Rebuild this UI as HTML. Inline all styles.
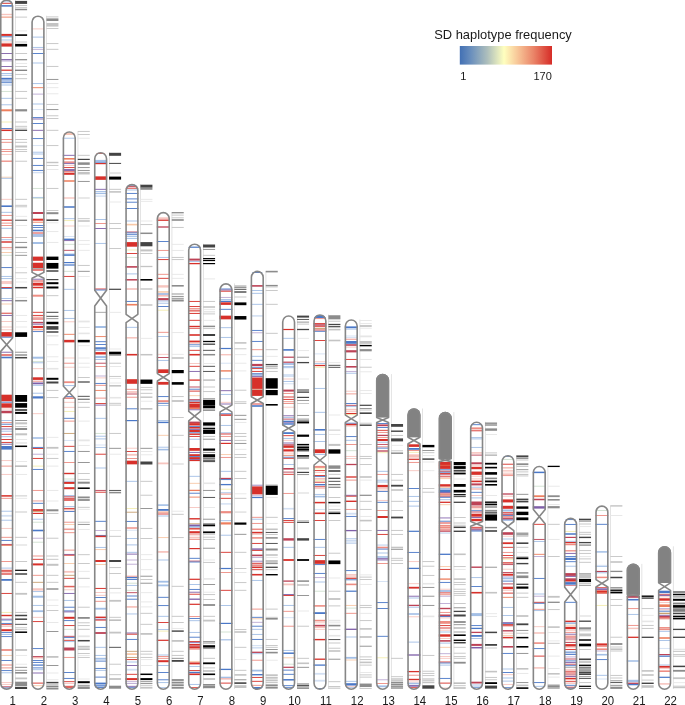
<!DOCTYPE html>
<html><head><meta charset="utf-8"><title>SD haplotype frequency</title>
<style>
html,body{margin:0;padding:0;background:#fff;}
body{width:685px;height:705px;overflow:hidden;font-family:"Liberation Sans",sans-serif;}
svg{display:block}
svg text{font-family:"Liberation Sans",sans-serif;font-size:11.6px;fill:#1a1a1a;}
</style></head><body>
<svg width="685" height="705" viewBox="0 0 685 705">
<defs>
<clipPath id="c1"><path d="M-0.05 6.1A6.7 6.7 0 0 1 13.35 6.1V683.3A6.7 6.7 0 0 1 -0.05 683.3Z"/></clipPath>
<clipPath id="c2"><path d="M31.28 22.1A6.7 6.7 0 0 1 44.68 22.1V683.3A6.7 6.7 0 0 1 31.28 683.3Z"/></clipPath>
<clipPath id="c3"><path d="M62.61 137.9A6.7 6.7 0 0 1 76.01 137.9V683.3A6.7 6.7 0 0 1 62.61 683.3Z"/></clipPath>
<clipPath id="c4"><path d="M93.94 158.7A6.7 6.7 0 0 1 107.34 158.7V683.3A6.7 6.7 0 0 1 93.94 683.3Z"/></clipPath>
<clipPath id="c5"><path d="M125.27 190.5A6.7 6.7 0 0 1 138.67 190.5V683.3A6.7 6.7 0 0 1 125.27 683.3Z"/></clipPath>
<clipPath id="c6"><path d="M156.6 218.5A6.7 6.7 0 0 1 170 218.5V683.3A6.7 6.7 0 0 1 156.6 683.3Z"/></clipPath>
<clipPath id="c7"><path d="M187.93 250.1A6.7 6.7 0 0 1 201.33 250.1V683.3A6.7 6.7 0 0 1 187.93 683.3Z"/></clipPath>
<clipPath id="c8"><path d="M219.26 289.8A6.7 6.7 0 0 1 232.66 289.8V683.3A6.7 6.7 0 0 1 219.26 683.3Z"/></clipPath>
<clipPath id="c9"><path d="M250.59 277.3A6.7 6.7 0 0 1 263.99 277.3V683.3A6.7 6.7 0 0 1 250.59 683.3Z"/></clipPath>
<clipPath id="c10"><path d="M281.92 321.9A6.7 6.7 0 0 1 295.32 321.9V683.3A6.7 6.7 0 0 1 281.92 683.3Z"/></clipPath>
<clipPath id="c11"><path d="M313.25 320.9A6.7 6.7 0 0 1 326.65 320.9V683.3A6.7 6.7 0 0 1 313.25 683.3Z"/></clipPath>
<clipPath id="c12"><path d="M344.58 325.9A6.7 6.7 0 0 1 357.98 325.9V683.3A6.7 6.7 0 0 1 344.58 683.3Z"/></clipPath>
<clipPath id="c13"><path d="M375.91 380.5A6.7 6.7 0 0 1 389.31 380.5V683.3A6.7 6.7 0 0 1 375.91 683.3Z"/></clipPath>
<clipPath id="c14"><path d="M407.24 414.9A6.7 6.7 0 0 1 420.64 414.9V683.3A6.7 6.7 0 0 1 407.24 683.3Z"/></clipPath>
<clipPath id="c15"><path d="M438.57 418.5A6.7 6.7 0 0 1 451.97 418.5V683.3A6.7 6.7 0 0 1 438.57 683.3Z"/></clipPath>
<clipPath id="c16"><path d="M469.9 428.2A6.7 6.7 0 0 1 483.3 428.2V683.3A6.7 6.7 0 0 1 469.9 683.3Z"/></clipPath>
<clipPath id="c17"><path d="M501.23 461.7A6.7 6.7 0 0 1 514.63 461.7V683.3A6.7 6.7 0 0 1 501.23 683.3Z"/></clipPath>
<clipPath id="c18"><path d="M532.56 472.4A6.7 6.7 0 0 1 545.96 472.4V683.3A6.7 6.7 0 0 1 532.56 683.3Z"/></clipPath>
<clipPath id="c19"><path d="M563.89 524.3A6.7 6.7 0 0 1 577.29 524.3V683.3A6.7 6.7 0 0 1 563.89 683.3Z"/></clipPath>
<clipPath id="c20"><path d="M595.22 512A6.7 6.7 0 0 1 608.62 512V683.3A6.7 6.7 0 0 1 595.22 683.3Z"/></clipPath>
<clipPath id="c21"><path d="M626.55 570.3A6.7 6.7 0 0 1 639.95 570.3V683.3A6.7 6.7 0 0 1 626.55 683.3Z"/></clipPath>
<clipPath id="c22"><path d="M657.88 552.7A6.7 6.7 0 0 1 671.28 552.7V683.3A6.7 6.7 0 0 1 657.88 683.3Z"/></clipPath>
</defs>
<rect width="685" height="705" fill="#fff"/>
<g clip-path="url(#c1)"><rect x="-0.05" y="1.35" width="13.4" height="0.9" fill="#a3bfe6"/><rect x="-0.05" y="2.85" width="13.4" height="0.9" fill="#d7302a"/><rect x="-0.05" y="5.15" width="13.4" height="1.5" fill="#4a78c8"/><rect x="-0.05" y="13.8" width="13.4" height="1.4" fill="#f7c5bf"/><rect x="-0.05" y="16.65" width="13.4" height="0.9" fill="#ee7f5e"/><rect x="-0.05" y="33.9" width="13.4" height="2" fill="#d7302a"/><rect x="-0.05" y="36.35" width="13.4" height="0.9" fill="#4a78c8"/><rect x="-0.05" y="39.55" width="13.4" height="0.9" fill="#a3bfe6"/><rect x="-0.05" y="41.55" width="13.4" height="0.9" fill="#f7c5bf"/><rect x="-0.05" y="43.4" width="13.4" height="3.2" fill="#d7302a"/><rect x="-0.05" y="53.05" width="13.4" height="0.9" fill="#7f5fa8"/><rect x="-0.05" y="59.1" width="13.4" height="1.2" fill="#7f5fa8"/><rect x="-0.05" y="60.55" width="13.4" height="0.9" fill="#bcaad3"/><rect x="-0.05" y="66.05" width="13.4" height="0.9" fill="#7f5fa8"/><rect x="-0.05" y="69.6" width="13.4" height="1.2" fill="#d7302a"/><rect x="-0.05" y="73.05" width="13.4" height="0.9" fill="#a3bfe6"/><rect x="-0.05" y="74.85" width="13.4" height="0.9" fill="#a3bfe6"/><rect x="-0.05" y="77.8" width="13.4" height="1.8" fill="#4a78c8"/><rect x="-0.05" y="80.55" width="13.4" height="0.9" fill="#4a78c8"/><rect x="-0.05" y="82.25" width="13.4" height="0.9" fill="#4a78c8"/><rect x="-0.05" y="84.55" width="13.4" height="0.9" fill="#a3bfe6"/><rect x="-0.05" y="90.95" width="13.4" height="0.9" fill="#cfe0cf"/><rect x="-0.05" y="97.85" width="13.4" height="0.9" fill="#a3bfe6"/><rect x="-0.05" y="104.35" width="13.4" height="0.9" fill="#a3bfe6"/><rect x="-0.05" y="109.3" width="13.4" height="2" fill="#ee7f5e"/><rect x="-0.05" y="121.55" width="13.4" height="0.9" fill="#f3edb0"/><rect x="-0.05" y="128.05" width="13.4" height="0.9" fill="#4a78c8"/><rect x="-0.05" y="129.55" width="13.4" height="1.5" fill="#d7302a"/><rect x="-0.05" y="139.05" width="13.4" height="0.9" fill="#ee8d83"/><rect x="-0.05" y="141.85" width="13.4" height="0.9" fill="#ee8d83"/><rect x="-0.05" y="149.15" width="13.4" height="0.9" fill="#ee8d83"/><rect x="-0.05" y="151.05" width="13.4" height="0.9" fill="#ee8d83"/><rect x="-0.05" y="153.95" width="13.4" height="0.9" fill="#f7c5bf"/><rect x="-0.05" y="160.55" width="13.4" height="1.3" fill="#ee8d83"/><rect x="-0.05" y="176.75" width="13.4" height="0.9" fill="#f8c9a8"/><rect x="-0.05" y="177.85" width="13.4" height="0.9" fill="#a3bfe6"/><rect x="-0.05" y="198.85" width="13.4" height="0.9" fill="#f7c5bf"/><rect x="-0.05" y="205.4" width="13.4" height="1.6" fill="#4a78c8"/><rect x="-0.05" y="211.85" width="13.4" height="0.9" fill="#a3bfe6"/><rect x="-0.05" y="214.95" width="13.4" height="0.9" fill="#ee8d83"/><rect x="-0.05" y="219.6" width="13.4" height="1.2" fill="#d7302a"/><rect x="-0.05" y="222.65" width="13.4" height="0.9" fill="#ee8d83"/><rect x="-0.05" y="225.05" width="13.4" height="0.9" fill="#ee8d83"/><rect x="-0.05" y="227.85" width="13.4" height="0.9" fill="#a3bfe6"/><rect x="-0.05" y="237.05" width="13.4" height="0.9" fill="#ee8d83"/><rect x="-0.05" y="239.25" width="13.4" height="0.9" fill="#a3bfe6"/><rect x="-0.05" y="241.3" width="13.4" height="1.4" fill="#d7302a"/><rect x="-0.05" y="246.95" width="13.4" height="0.9" fill="#ee8d83"/><rect x="-0.05" y="248.55" width="13.4" height="0.9" fill="#f7c5bf"/><rect x="-0.05" y="252.05" width="13.4" height="0.9" fill="#f8c9a8"/><rect x="-0.05" y="254.85" width="13.4" height="0.9" fill="#cfe0cf"/><rect x="-0.05" y="267.15" width="13.4" height="0.9" fill="#4a78c8"/><rect x="-0.05" y="275.95" width="13.4" height="0.9" fill="#a3bfe6"/><rect x="-0.05" y="278.15" width="13.4" height="0.9" fill="#a3bfe6"/><rect x="-0.05" y="281.55" width="13.4" height="0.9" fill="#ee8d83"/><rect x="-0.05" y="283.15" width="13.4" height="0.9" fill="#f7c5bf"/><rect x="-0.05" y="287.05" width="13.4" height="0.9" fill="#d7302a"/><rect x="-0.05" y="287.95" width="13.4" height="0.9" fill="#4a78c8"/><rect x="-0.05" y="298.05" width="13.4" height="0.9" fill="#a3bfe6"/><rect x="-0.05" y="300.25" width="13.4" height="0.9" fill="#7f5fa8"/><rect x="-0.05" y="303.55" width="13.4" height="0.9" fill="#f8c9a8"/><rect x="-0.05" y="312.75" width="13.4" height="0.9" fill="#d7302a"/><rect x="-0.05" y="314.95" width="13.4" height="0.9" fill="#7f5fa8"/><rect x="-0.05" y="321.05" width="13.4" height="0.9" fill="#f7c5bf"/><rect x="-0.05" y="326.55" width="13.4" height="0.9" fill="#f7c5bf"/><rect x="-0.05" y="329.35" width="13.4" height="0.9" fill="#f7c5bf"/><rect x="-0.05" y="332.1" width="13.4" height="4.6" fill="#d7302a"/><rect x="-0.05" y="336.75" width="13.4" height="0.9" fill="#4a78c8"/><rect x="-0.05" y="351.75" width="13.4" height="0.9" fill="#7f5fa8"/><rect x="-0.05" y="354.4" width="13.4" height="1.2" fill="#d7302a"/><rect x="-0.05" y="356.7" width="13.4" height="1.6" fill="#4a78c8"/><rect x="-0.05" y="394.7" width="13.4" height="6.6" fill="#d7302a"/><rect x="-0.05" y="401.75" width="13.4" height="0.9" fill="#4a78c8"/><rect x="-0.05" y="403.3" width="13.4" height="4.4" fill="#d7302a"/><rect x="-0.05" y="408.55" width="13.4" height="0.9" fill="#f7c5bf"/><rect x="-0.05" y="410.75" width="13.4" height="2.5" fill="#bd4256"/><rect x="-0.05" y="420.05" width="13.4" height="0.9" fill="#a3bfe6"/><rect x="-0.05" y="422.15" width="13.4" height="0.9" fill="#ee8d83"/><rect x="-0.05" y="423.75" width="13.4" height="0.9" fill="#4a78c8"/><rect x="-0.05" y="426.15" width="13.4" height="0.9" fill="#d7302a"/><rect x="-0.05" y="428.55" width="13.4" height="0.9" fill="#7f5fa8"/><rect x="-0.05" y="430.75" width="13.4" height="0.9" fill="#a3bfe6"/><rect x="-0.05" y="433.85" width="13.4" height="0.9" fill="#d7302a"/><rect x="-0.05" y="436.25" width="13.4" height="0.9" fill="#a3bfe6"/><rect x="-0.05" y="439.05" width="13.4" height="0.9" fill="#d7302a"/><rect x="-0.05" y="441.95" width="13.4" height="0.9" fill="#d7302a"/><rect x="-0.05" y="443.75" width="13.4" height="0.9" fill="#7f5fa8"/><rect x="-0.05" y="446" width="13.4" height="3.6" fill="#4a78c8"/><rect x="-0.05" y="460.15" width="13.4" height="0.9" fill="#f7c5bf"/><rect x="-0.05" y="465.65" width="13.4" height="0.9" fill="#ee8d83"/><rect x="-0.05" y="473.95" width="13.4" height="0.9" fill="#f7c5bf"/><rect x="-0.05" y="495.15" width="13.4" height="1.5" fill="#d7302a"/><rect x="-0.05" y="497.85" width="13.4" height="0.9" fill="#ee8d83"/><rect x="-0.05" y="510.75" width="13.4" height="0.9" fill="#a3bfe6"/><rect x="-0.05" y="514.9" width="13.4" height="1.8" fill="#d3e0f3"/><rect x="-0.05" y="519.75" width="13.4" height="0.9" fill="#a3bfe6"/><rect x="-0.05" y="527.95" width="13.4" height="0.9" fill="#f7c5bf"/><rect x="-0.05" y="536.85" width="13.4" height="0.9" fill="#ee8d83"/><rect x="-0.05" y="539.95" width="13.4" height="0.9" fill="#4a78c8"/><rect x="-0.05" y="543.95" width="13.4" height="0.9" fill="#bd4256"/><rect x="-0.05" y="544.95" width="13.4" height="0.9" fill="#ee7f5e"/><rect x="-0.05" y="561.05" width="13.4" height="0.9" fill="#ee8d83"/><rect x="-0.05" y="567.65" width="13.4" height="0.9" fill="#a3bfe6"/><rect x="-0.05" y="569.85" width="13.4" height="0.9" fill="#d7302a"/><rect x="-0.05" y="571.35" width="13.4" height="0.9" fill="#d7302a"/><rect x="-0.05" y="573.4" width="13.4" height="1.2" fill="#d7302a"/><rect x="-0.05" y="579" width="13.4" height="1.8" fill="#4a78c8"/><rect x="-0.05" y="592.95" width="13.4" height="0.9" fill="#d7302a"/><rect x="-0.05" y="611.95" width="13.4" height="0.9" fill="#f3edb0"/><rect x="-0.05" y="614.8" width="13.4" height="1.4" fill="#d7302a"/><rect x="-0.05" y="618.75" width="13.4" height="0.9" fill="#7f5fa8"/><rect x="-0.05" y="620.15" width="13.4" height="0.9" fill="#a3bfe6"/><rect x="-0.05" y="622.95" width="13.4" height="0.9" fill="#4a78c8"/><rect x="-0.05" y="624.25" width="13.4" height="0.9" fill="#d7302a"/><rect x="-0.05" y="626.05" width="13.4" height="0.9" fill="#f7c5bf"/><rect x="-0.05" y="629.2" width="13.4" height="2" fill="#d7302a"/><rect x="-0.05" y="632.15" width="13.4" height="0.9" fill="#4a78c8"/><rect x="-0.05" y="633.95" width="13.4" height="0.9" fill="#a3bfe6"/><rect x="-0.05" y="636.15" width="13.4" height="0.9" fill="#4a78c8"/><rect x="-0.05" y="649.1" width="13.4" height="1.8" fill="#ee8d83"/><rect x="-0.05" y="654.95" width="13.4" height="0.9" fill="#f8c9a8"/><rect x="-0.05" y="660.05" width="13.4" height="0.9" fill="#4a78c8"/><rect x="-0.05" y="664" width="13.4" height="2" fill="#f7c5bf"/><rect x="-0.05" y="667.45" width="13.4" height="0.9" fill="#ee8d83"/><rect x="-0.05" y="670.15" width="13.4" height="0.9" fill="#4a78c8"/><rect x="-0.05" y="672.35" width="13.4" height="0.9" fill="#a3bfe6"/><rect x="-0.05" y="682.15" width="13.4" height="0.9" fill="#f7c5bf"/><rect x="-0.05" y="683.95" width="13.4" height="0.9" fill="#f7c5bf"/><rect x="-0.05" y="686.35" width="13.4" height="0.9" fill="#bd4256"/><rect x="-0.05" y="687.55" width="13.4" height="0.9" fill="#4a78c8"/></g>
<path d="M-0.25 338L6.65 344.8L-0.25 351.4Z M13.55 338L6.65 344.8L13.55 351.4Z" fill="#fff"/>
<path d="M0.75 6.1V338L12.55 351.4V683.3A5.9 5.9 0 0 1 0.75 683.3V351.4L12.55 338V6.1A5.9 5.9 0 0 0 0.75 6.1" fill="none" stroke="#868686" stroke-width="1.6" stroke-linejoin="round"/>
<rect x="15" y="0" width="0.6" height="689" fill="#d0d0d0"/>
<rect x="15.1" y="0.9" width="12" height="3" fill="#444444"/>
<rect x="15.1" y="5.05" width="12" height="0.9" fill="#c4c4c4"/>
<rect x="15.1" y="6.95" width="12" height="0.9" fill="#c4c4c4"/>
<rect x="15.1" y="8.75" width="12" height="1.5" fill="#8c8c8c"/>
<rect x="15.1" y="16.65" width="12" height="0.9" fill="#c4c4c4"/>
<rect x="15.1" y="30.45" width="12" height="0.9" fill="#e6e6e6"/>
<rect x="15.1" y="34.3" width="12" height="1.6" fill="#000000"/>
<rect x="15.1" y="41.55" width="12" height="0.9" fill="#c4c4c4"/>
<rect x="15.1" y="43.9" width="12" height="2.6" fill="#000000"/>
<rect x="15.1" y="53.05" width="12" height="0.9" fill="#c4c4c4"/>
<rect x="15.1" y="59.1" width="12" height="1.2" fill="#8c8c8c"/>
<rect x="15.1" y="62.95" width="12" height="0.9" fill="#e6e6e6"/>
<rect x="15.1" y="66.05" width="12" height="0.9" fill="#c4c4c4"/>
<rect x="15.1" y="69.75" width="12" height="0.9" fill="#444444"/>
<rect x="15.1" y="73.95" width="12" height="0.9" fill="#c4c4c4"/>
<rect x="15.1" y="78.25" width="12" height="0.9" fill="#c4c4c4"/>
<rect x="15.1" y="90.95" width="12" height="0.9" fill="#c4c4c4"/>
<rect x="15.1" y="97.85" width="12" height="0.9" fill="#c4c4c4"/>
<rect x="15.1" y="109.2" width="12" height="2.2" fill="#8c8c8c"/>
<rect x="15.1" y="121.55" width="12" height="0.9" fill="#c4c4c4"/>
<rect x="15.1" y="125.85" width="12" height="0.9" fill="#c4c4c4"/>
<rect x="15.1" y="127.65" width="12" height="0.9" fill="#c4c4c4"/>
<rect x="15.1" y="129.65" width="12" height="1.3" fill="#444444"/>
<rect x="15.1" y="139.05" width="12" height="0.9" fill="#c4c4c4"/>
<rect x="15.1" y="141.85" width="12" height="0.9" fill="#c4c4c4"/>
<rect x="15.1" y="145.5" width="12" height="2" fill="#c4c4c4"/>
<rect x="15.1" y="149.15" width="12" height="0.9" fill="#c4c4c4"/>
<rect x="15.1" y="151.05" width="12" height="0.9" fill="#c4c4c4"/>
<rect x="15.1" y="160.75" width="12" height="0.9" fill="#c4c4c4"/>
<rect x="15.1" y="198.85" width="12" height="0.9" fill="#c4c4c4"/>
<rect x="15.1" y="204.85" width="12" height="0.9" fill="#c4c4c4"/>
<rect x="15.1" y="206.35" width="12" height="0.9" fill="#c4c4c4"/>
<rect x="15.1" y="215.85" width="12" height="0.9" fill="#e6e6e6"/>
<rect x="15.1" y="219.75" width="12" height="0.9" fill="#444444"/>
<rect x="15.1" y="225.05" width="12" height="0.9" fill="#e6e6e6"/>
<rect x="15.1" y="237.05" width="12" height="0.9" fill="#c4c4c4"/>
<rect x="15.1" y="241.95" width="12" height="0.9" fill="#8c8c8c"/>
<rect x="15.1" y="246.65" width="12" height="1.5" fill="#8c8c8c"/>
<rect x="15.1" y="252.05" width="12" height="0.9" fill="#c4c4c4"/>
<rect x="15.1" y="254.85" width="12" height="0.9" fill="#8c8c8c"/>
<rect x="15.1" y="267.15" width="12" height="0.9" fill="#e6e6e6"/>
<rect x="15.1" y="272.35" width="12" height="0.9" fill="#c4c4c4"/>
<rect x="15.1" y="278.15" width="12" height="0.9" fill="#e6e6e6"/>
<rect x="15.1" y="281.55" width="12" height="0.9" fill="#e6e6e6"/>
<rect x="15.1" y="286.95" width="12" height="1.5" fill="#444444"/>
<rect x="15.1" y="297.15" width="12" height="0.9" fill="#e6e6e6"/>
<rect x="15.1" y="299.95" width="12" height="1.5" fill="#8c8c8c"/>
<rect x="15.1" y="314.95" width="12" height="0.9" fill="#e6e6e6"/>
<rect x="15.1" y="321.05" width="12" height="0.9" fill="#e6e6e6"/>
<rect x="15.1" y="326.55" width="12" height="0.9" fill="#e6e6e6"/>
<rect x="15.1" y="332.3" width="12" height="4.6" fill="#000000"/>
<rect x="15.1" y="351.75" width="12" height="0.9" fill="#8c8c8c"/>
<rect x="15.1" y="354.3" width="12" height="1.4" fill="#8c8c8c"/>
<rect x="15.1" y="356.95" width="12" height="1.5" fill="#444444"/>
<rect x="15.1" y="395" width="12" height="6.8" fill="#000000"/>
<rect x="15.1" y="403.1" width="12" height="4.6" fill="#000000"/>
<rect x="15.1" y="409.35" width="12" height="1.3" fill="#000000"/>
<rect x="15.1" y="411.9" width="12" height="2" fill="#000000"/>
<rect x="15.1" y="420.05" width="12" height="0.9" fill="#8c8c8c"/>
<rect x="15.1" y="422.3" width="12" height="2" fill="#c4c4c4"/>
<rect x="15.1" y="426.15" width="12" height="0.9" fill="#c4c4c4"/>
<rect x="15.1" y="428" width="12" height="2" fill="#8c8c8c"/>
<rect x="15.1" y="433.3" width="12" height="2" fill="#c4c4c4"/>
<rect x="15.1" y="439.05" width="12" height="0.9" fill="#e6e6e6"/>
<rect x="15.1" y="442.2" width="12" height="1.6" fill="#e6e6e6"/>
<rect x="15.1" y="445.55" width="12" height="1.5" fill="#000000"/>
<rect x="15.1" y="461.05" width="12" height="0.9" fill="#e6e6e6"/>
<rect x="15.1" y="465.65" width="12" height="0.9" fill="#8c8c8c"/>
<rect x="15.1" y="473.95" width="12" height="0.9" fill="#e6e6e6"/>
<rect x="15.1" y="495.45" width="12" height="0.9" fill="#c4c4c4"/>
<rect x="15.1" y="497.85" width="12" height="0.9" fill="#e6e6e6"/>
<rect x="15.1" y="511.55" width="12" height="0.9" fill="#c4c4c4"/>
<rect x="15.1" y="536.85" width="12" height="0.9" fill="#c4c4c4"/>
<rect x="15.1" y="544.2" width="12" height="1.6" fill="#e6e6e6"/>
<rect x="15.1" y="561.05" width="12" height="0.9" fill="#c4c4c4"/>
<rect x="15.1" y="569.7" width="12" height="1.2" fill="#000000"/>
<rect x="15.1" y="573.25" width="12" height="1.5" fill="#444444"/>
<rect x="15.1" y="581.85" width="12" height="0.9" fill="#c4c4c4"/>
<rect x="15.1" y="592.9" width="12" height="1.8" fill="#c4c4c4"/>
<rect x="15.1" y="611.95" width="12" height="0.9" fill="#c4c4c4"/>
<rect x="15.1" y="614.75" width="12" height="1.5" fill="#444444"/>
<rect x="15.1" y="618.45" width="12" height="1.5" fill="#444444"/>
<rect x="15.1" y="623.85" width="12" height="0.9" fill="#444444"/>
<rect x="15.1" y="627.35" width="12" height="0.9" fill="#c4c4c4"/>
<rect x="15.1" y="629.15" width="12" height="0.9" fill="#c4c4c4"/>
<rect x="15.1" y="631.45" width="12" height="1.5" fill="#000000"/>
<rect x="15.1" y="649.1" width="12" height="1.8" fill="#c4c4c4"/>
<rect x="15.1" y="654.95" width="12" height="0.9" fill="#e6e6e6"/>
<rect x="15.1" y="663.75" width="12" height="0.9" fill="#e6e6e6"/>
<rect x="15.1" y="666.85" width="12" height="0.9" fill="#8c8c8c"/>
<rect x="15.1" y="669.85" width="12" height="0.9" fill="#8c8c8c"/>
<rect x="15.1" y="672" width="12" height="1.6" fill="#8c8c8c"/>
<rect x="15.1" y="677.5" width="12" height="1.8" fill="#c4c4c4"/>
<rect x="15.1" y="681.7" width="12" height="4.6" fill="#8c8c8c"/>
<rect x="15.1" y="687.25" width="12" height="1.5" fill="#000000"/>
<g clip-path="url(#c2)"><rect x="31.28" y="28.45" width="13.4" height="0.9" fill="#f7c5bf"/><rect x="31.28" y="36.65" width="13.4" height="0.9" fill="#a3bfe6"/><rect x="31.28" y="46.95" width="13.4" height="0.9" fill="#a3bfe6"/><rect x="31.28" y="48.85" width="13.4" height="0.9" fill="#bcaad3"/><rect x="31.28" y="53.05" width="13.4" height="0.9" fill="#4a78c8"/><rect x="31.28" y="62.55" width="13.4" height="0.9" fill="#a3bfe6"/><rect x="31.28" y="83.15" width="13.4" height="0.9" fill="#a3bfe6"/><rect x="31.28" y="87.25" width="13.4" height="0.9" fill="#ee7f5e"/><rect x="31.28" y="93.65" width="13.4" height="0.9" fill="#bcaad3"/><rect x="31.28" y="103.55" width="13.4" height="0.9" fill="#a3bfe6"/><rect x="31.28" y="109.15" width="13.4" height="0.9" fill="#d3e0f3"/><rect x="31.28" y="117.15" width="13.4" height="0.9" fill="#4a78c8"/><rect x="31.28" y="118.55" width="13.4" height="0.9" fill="#7f5fa8"/><rect x="31.28" y="123.05" width="13.4" height="0.9" fill="#4a78c8"/><rect x="31.28" y="129.85" width="13.4" height="0.9" fill="#7f5fa8"/><rect x="31.28" y="138.15" width="13.4" height="0.9" fill="#4a78c8"/><rect x="31.28" y="145.15" width="13.4" height="0.9" fill="#d3e0f3"/><rect x="31.28" y="151.75" width="13.4" height="0.9" fill="#a3bfe6"/><rect x="31.28" y="153.55" width="13.4" height="0.9" fill="#a3bfe6"/><rect x="31.28" y="157.95" width="13.4" height="0.9" fill="#4a78c8"/><rect x="31.28" y="164.95" width="13.4" height="0.9" fill="#4a78c8"/><rect x="31.28" y="169.95" width="13.4" height="0.9" fill="#4a78c8"/><rect x="31.28" y="171.9" width="13.4" height="1.4" fill="#d3e0f3"/><rect x="31.28" y="187.95" width="13.4" height="0.9" fill="#cfe0cf"/><rect x="31.28" y="196.95" width="13.4" height="0.9" fill="#a3bfe6"/><rect x="31.28" y="197.85" width="13.4" height="0.9" fill="#cfe0cf"/><rect x="31.28" y="212" width="13.4" height="2" fill="#bd4256"/><rect x="31.28" y="218.7" width="13.4" height="2" fill="#d7302a"/><rect x="31.28" y="221.75" width="13.4" height="0.9" fill="#ee7f5e"/><rect x="31.28" y="225.05" width="13.4" height="0.9" fill="#4a78c8"/><rect x="31.28" y="226.95" width="13.4" height="0.9" fill="#4a78c8"/><rect x="31.28" y="229.7" width="13.4" height="1.6" fill="#4a78c8"/><rect x="31.28" y="232.55" width="13.4" height="0.9" fill="#d7302a"/><rect x="31.28" y="234.55" width="13.4" height="0.9" fill="#4a78c8"/><rect x="31.28" y="236.05" width="13.4" height="0.9" fill="#a3bfe6"/><rect x="31.28" y="242" width="13.4" height="2" fill="#a3bfe6"/><rect x="31.28" y="256.6" width="13.4" height="4.2" fill="#d7302a"/><rect x="31.28" y="262.75" width="13.4" height="5.5" fill="#d7302a"/><rect x="31.28" y="268.25" width="13.4" height="0.9" fill="#a0a0a0"/><rect x="31.28" y="269.4" width="13.4" height="1.2" fill="#d7302a"/><rect x="31.28" y="278.75" width="13.4" height="0.9" fill="#7f5fa8"/><rect x="31.28" y="280.55" width="13.4" height="0.9" fill="#d7302a"/><rect x="31.28" y="282.7" width="13.4" height="3" fill="#d7302a"/><rect x="31.28" y="286.75" width="13.4" height="1.5" fill="#d7302a"/><rect x="31.28" y="294.7" width="13.4" height="2" fill="#ee8d83"/><rect x="31.28" y="311.85" width="13.4" height="0.9" fill="#d7302a"/><rect x="31.28" y="314.95" width="13.4" height="0.9" fill="#d7302a"/><rect x="31.28" y="316.75" width="13.4" height="0.9" fill="#ee8d83"/><rect x="31.28" y="318.55" width="13.4" height="0.9" fill="#d7302a"/><rect x="31.28" y="321.85" width="13.4" height="1.5" fill="#bd4256"/><rect x="31.28" y="323.75" width="13.4" height="0.9" fill="#7f5fa8"/><rect x="31.28" y="325.9" width="13.4" height="2.2" fill="#d7302a"/><rect x="31.28" y="329.35" width="13.4" height="0.9" fill="#ee7f5e"/><rect x="31.28" y="331.15" width="13.4" height="0.9" fill="#4a78c8"/><rect x="31.28" y="356.7" width="13.4" height="2" fill="#a3bfe6"/><rect x="31.28" y="360.95" width="13.4" height="0.9" fill="#cfe0cf"/><rect x="31.28" y="362.35" width="13.4" height="0.9" fill="#a3bfe6"/><rect x="31.28" y="368.25" width="13.4" height="0.9" fill="#f7c5bf"/><rect x="31.28" y="377.3" width="13.4" height="2.6" fill="#d7302a"/><rect x="31.28" y="380.75" width="13.4" height="0.9" fill="#ee8d83"/><rect x="31.28" y="382.5" width="13.4" height="1.8" fill="#7f5fa8"/><rect x="31.28" y="384.85" width="13.4" height="0.9" fill="#a3bfe6"/><rect x="31.28" y="392.75" width="13.4" height="0.9" fill="#a3bfe6"/><rect x="31.28" y="396.3" width="13.4" height="2.2" fill="#4a78c8"/><rect x="31.28" y="413.25" width="13.4" height="0.9" fill="#f7c5bf"/><rect x="31.28" y="437.2" width="13.4" height="1.6" fill="#a3bfe6"/><rect x="31.28" y="446.95" width="13.4" height="0.9" fill="#4a78c8"/><rect x="31.28" y="448.05" width="13.4" height="0.9" fill="#d7302a"/><rect x="31.28" y="453.75" width="13.4" height="0.9" fill="#bcaad3"/><rect x="31.28" y="457.95" width="13.4" height="0.9" fill="#d7302a"/><rect x="31.28" y="465.65" width="13.4" height="0.9" fill="#f3edb0"/><rect x="31.28" y="468.95" width="13.4" height="0.9" fill="#4a78c8"/><rect x="31.28" y="489.95" width="13.4" height="0.9" fill="#ee8d83"/><rect x="31.28" y="500.1" width="13.4" height="1.6" fill="#f7c5bf"/><rect x="31.28" y="502.85" width="13.4" height="0.9" fill="#4a78c8"/><rect x="31.28" y="509.1" width="13.4" height="1.8" fill="#d7302a"/><rect x="31.28" y="511.05" width="13.4" height="0.9" fill="#c8a070"/><rect x="31.28" y="512.8" width="13.4" height="1.2" fill="#d7302a"/><rect x="31.28" y="518.75" width="13.4" height="0.9" fill="#a3bfe6"/><rect x="31.28" y="521.75" width="13.4" height="0.9" fill="#cfe0cf"/><rect x="31.28" y="529.7" width="13.4" height="1.6" fill="#4a78c8"/><rect x="31.28" y="537.75" width="13.4" height="0.9" fill="#bcaad3"/><rect x="31.28" y="541.75" width="13.4" height="0.9" fill="#cfe0cf"/><rect x="31.28" y="555.55" width="13.4" height="0.9" fill="#ee8d83"/><rect x="31.28" y="558.85" width="13.4" height="0.9" fill="#d7302a"/><rect x="31.28" y="563.4" width="13.4" height="2" fill="#d7302a"/><rect x="31.28" y="574.85" width="13.4" height="0.9" fill="#ee8d83"/><rect x="31.28" y="581.85" width="13.4" height="0.9" fill="#c8a070"/><rect x="31.28" y="588.25" width="13.4" height="0.9" fill="#f7c5bf"/><rect x="31.28" y="589" width="13.4" height="1.6" fill="#f7c5bf"/><rect x="31.28" y="591.15" width="13.4" height="0.9" fill="#a3bfe6"/><rect x="31.28" y="595.7" width="13.4" height="2" fill="#a3bfe6"/><rect x="31.28" y="604.95" width="13.4" height="0.9" fill="#a3bfe6"/><rect x="31.28" y="610.3" width="13.4" height="1.8" fill="#a3bfe6"/><rect x="31.28" y="616.85" width="13.4" height="0.9" fill="#f7c5bf"/><rect x="31.28" y="621.15" width="13.4" height="0.9" fill="#d7302a"/><rect x="31.28" y="648.15" width="13.4" height="0.9" fill="#4a78c8"/><rect x="31.28" y="656.05" width="13.4" height="0.9" fill="#bd4256"/><rect x="31.28" y="657.35" width="13.4" height="0.9" fill="#ee8d83"/><rect x="31.28" y="660.05" width="13.4" height="0.9" fill="#4a78c8"/><rect x="31.28" y="661.95" width="13.4" height="0.9" fill="#4a78c8"/><rect x="31.28" y="664.5" width="13.4" height="1.2" fill="#4a78c8"/><rect x="31.28" y="667.45" width="13.4" height="0.9" fill="#4a78c8"/><rect x="31.28" y="669.25" width="13.4" height="0.9" fill="#a3bfe6"/><rect x="31.28" y="672.55" width="13.4" height="0.9" fill="#7f5fa8"/><rect x="31.28" y="682.65" width="13.4" height="0.9" fill="#d7302a"/><rect x="31.28" y="685.25" width="13.4" height="0.9" fill="#f8c9a8"/></g>
<path d="M31.08 272.4L37.98 275.3L31.08 278.3Z M44.88 272.4L37.98 275.3L44.88 278.3Z" fill="#fff"/>
<path d="M32.08 22.1V272.4L43.88 278.3V683.3A5.9 5.9 0 0 1 32.08 683.3V278.3L43.88 272.4V22.1A5.9 5.9 0 0 0 32.08 22.1" fill="none" stroke="#868686" stroke-width="1.6" stroke-linejoin="round"/>
<rect x="46.33" y="15.7" width="0.6" height="673.3" fill="#d0d0d0"/>
<rect x="46.43" y="16.45" width="12" height="0.9" fill="#c4c4c4"/>
<rect x="46.43" y="18.4" width="12" height="2.6" fill="#8c8c8c"/>
<rect x="46.43" y="23" width="12" height="3.6" fill="#c4c4c4"/>
<rect x="46.43" y="28.05" width="12" height="0.9" fill="#c4c4c4"/>
<rect x="46.43" y="43.15" width="12" height="0.9" fill="#c4c4c4"/>
<rect x="46.43" y="48.85" width="12" height="0.9" fill="#c4c4c4"/>
<rect x="46.43" y="65.95" width="12" height="0.9" fill="#c4c4c4"/>
<rect x="46.43" y="78.95" width="12" height="0.9" fill="#8c8c8c"/>
<rect x="46.43" y="83.15" width="12" height="0.9" fill="#e6e6e6"/>
<rect x="46.43" y="87.25" width="12" height="0.9" fill="#e6e6e6"/>
<rect x="46.43" y="93.35" width="12" height="0.9" fill="#e6e6e6"/>
<rect x="46.43" y="103.95" width="12" height="0.9" fill="#c4c4c4"/>
<rect x="46.43" y="109.15" width="12" height="0.9" fill="#8c8c8c"/>
<rect x="46.43" y="115.35" width="12" height="0.9" fill="#c4c4c4"/>
<rect x="46.43" y="118.05" width="12" height="0.9" fill="#c4c4c4"/>
<rect x="46.43" y="129.85" width="12" height="0.9" fill="#c4c4c4"/>
<rect x="46.43" y="145.15" width="12" height="0.9" fill="#c4c4c4"/>
<rect x="46.43" y="161.8" width="12" height="1.4" fill="#c4c4c4"/>
<rect x="46.43" y="164.95" width="12" height="0.9" fill="#c4c4c4"/>
<rect x="46.43" y="169.05" width="12" height="0.9" fill="#e6e6e6"/>
<rect x="46.43" y="187.95" width="12" height="0.9" fill="#c4c4c4"/>
<rect x="46.43" y="210.05" width="12" height="0.9" fill="#c4c4c4"/>
<rect x="46.43" y="212.2" width="12" height="2" fill="#8c8c8c"/>
<rect x="46.43" y="219.45" width="12" height="1.5" fill="#444444"/>
<rect x="46.43" y="222.35" width="12" height="0.9" fill="#e6e6e6"/>
<rect x="46.43" y="231.15" width="12" height="0.9" fill="#e6e6e6"/>
<rect x="46.43" y="241.95" width="12" height="0.9" fill="#e6e6e6"/>
<rect x="46.43" y="256.6" width="12" height="3.4" fill="#000000"/>
<rect x="46.43" y="262.95" width="12" height="5.7" fill="#000000"/>
<rect x="46.43" y="270.25" width="12" height="1.5" fill="#444444"/>
<rect x="46.43" y="279" width="12" height="1.2" fill="#444444"/>
<rect x="46.43" y="282.2" width="12" height="2" fill="#000000"/>
<rect x="46.43" y="286.5" width="12" height="2" fill="#000000"/>
<rect x="46.43" y="295.25" width="12" height="0.9" fill="#c4c4c4"/>
<rect x="46.43" y="311.8" width="12" height="1" fill="#444444"/>
<rect x="46.43" y="315.85" width="12" height="0.9" fill="#444444"/>
<rect x="46.43" y="318.25" width="12" height="0.9" fill="#8c8c8c"/>
<rect x="46.43" y="321.75" width="12" height="2.5" fill="#000000"/>
<rect x="46.43" y="326.1" width="12" height="3.6" fill="#444444"/>
<rect x="46.43" y="331.25" width="12" height="1.5" fill="#444444"/>
<rect x="46.43" y="335" width="12" height="1.6" fill="#e6e6e6"/>
<rect x="46.43" y="344.35" width="12" height="0.9" fill="#e6e6e6"/>
<rect x="46.43" y="356.35" width="12" height="0.9" fill="#e6e6e6"/>
<rect x="46.43" y="360.95" width="12" height="0.9" fill="#e6e6e6"/>
<rect x="46.43" y="367.9" width="12" height="1.6" fill="#e6e6e6"/>
<rect x="46.43" y="377.8" width="12" height="2" fill="#000000"/>
<rect x="46.43" y="381.5" width="12" height="2" fill="#444444"/>
<rect x="46.43" y="389.95" width="12" height="0.9" fill="#c4c4c4"/>
<rect x="46.43" y="397.15" width="12" height="0.9" fill="#c4c4c4"/>
<rect x="46.43" y="436.85" width="12" height="0.9" fill="#e6e6e6"/>
<rect x="46.43" y="446.9" width="12" height="1.8" fill="#c4c4c4"/>
<rect x="46.43" y="453.75" width="12" height="0.9" fill="#e6e6e6"/>
<rect x="46.43" y="457.95" width="12" height="0.9" fill="#c4c4c4"/>
<rect x="46.43" y="465.65" width="12" height="0.9" fill="#e6e6e6"/>
<rect x="46.43" y="489.95" width="12" height="0.9" fill="#e6e6e6"/>
<rect x="46.43" y="500.55" width="12" height="0.9" fill="#e6e6e6"/>
<rect x="46.43" y="509.3" width="12" height="2" fill="#8c8c8c"/>
<rect x="46.43" y="512.95" width="12" height="0.9" fill="#c4c4c4"/>
<rect x="46.43" y="537.75" width="12" height="0.9" fill="#c4c4c4"/>
<rect x="46.43" y="555.55" width="12" height="0.9" fill="#c4c4c4"/>
<rect x="46.43" y="558.85" width="12" height="0.9" fill="#c4c4c4"/>
<rect x="46.43" y="563.8" width="12" height="2" fill="#c4c4c4"/>
<rect x="46.43" y="574.85" width="12" height="0.9" fill="#c4c4c4"/>
<rect x="46.43" y="581.85" width="12" height="0.9" fill="#c4c4c4"/>
<rect x="46.43" y="588.3" width="12" height="1.4" fill="#8c8c8c"/>
<rect x="46.43" y="599.55" width="12" height="0.9" fill="#e6e6e6"/>
<rect x="46.43" y="604.95" width="12" height="0.9" fill="#e6e6e6"/>
<rect x="46.43" y="610.05" width="12" height="0.9" fill="#c4c4c4"/>
<rect x="46.43" y="622.05" width="12" height="0.9" fill="#e6e6e6"/>
<rect x="46.43" y="631.05" width="12" height="0.9" fill="#8c8c8c"/>
<rect x="46.43" y="656" width="12" height="1.8" fill="#c4c4c4"/>
<rect x="46.43" y="665.05" width="12" height="0.9" fill="#8c8c8c"/>
<rect x="46.43" y="672.55" width="12" height="0.9" fill="#e6e6e6"/>
<rect x="46.43" y="679.35" width="12" height="0.9" fill="#e6e6e6"/>
<rect x="46.43" y="681.85" width="12" height="1.5" fill="#444444"/>
<rect x="46.43" y="684.55" width="12" height="0.9" fill="#8c8c8c"/>
<rect x="46.43" y="686.35" width="12" height="0.9" fill="#444444"/>
<rect x="46.43" y="687.9" width="12" height="1.6" fill="#8c8c8c"/>
<g clip-path="url(#c3)"><rect x="62.61" y="133.55" width="13.4" height="0.9" fill="#ee7f5e"/><rect x="62.61" y="137.75" width="13.4" height="0.9" fill="#a3bfe6"/><rect x="62.61" y="154.85" width="13.4" height="0.9" fill="#7f5fa8"/><rect x="62.61" y="158" width="13.4" height="1.6" fill="#ee7f5e"/><rect x="62.61" y="161.65" width="13.4" height="0.9" fill="#d7302a"/><rect x="62.61" y="163.15" width="13.4" height="0.9" fill="#7f5fa8"/><rect x="62.61" y="164.95" width="13.4" height="0.9" fill="#f7c5bf"/><rect x="62.61" y="167.15" width="13.4" height="0.9" fill="#d7302a"/><rect x="62.61" y="169.1" width="13.4" height="1.8" fill="#7f5fa8"/><rect x="62.61" y="171.45" width="13.4" height="0.9" fill="#d7302a"/><rect x="62.61" y="173" width="13.4" height="1.8" fill="#d7302a"/><rect x="62.61" y="180.25" width="13.4" height="1.5" fill="#ee7f5e"/><rect x="62.61" y="197.3" width="13.4" height="1.4" fill="#f7c5bf"/><rect x="62.61" y="206.25" width="13.4" height="1.5" fill="#4a78c8"/><rect x="62.61" y="218.25" width="13.4" height="0.9" fill="#a3bfe6"/><rect x="62.61" y="220.15" width="13.4" height="0.9" fill="#f3edb0"/><rect x="62.61" y="225.55" width="13.4" height="0.9" fill="#f7c5bf"/><rect x="62.61" y="236.05" width="13.4" height="0.9" fill="#d3e0f3"/><rect x="62.61" y="238.6" width="13.4" height="1.4" fill="#4a78c8"/><rect x="62.61" y="240.15" width="13.4" height="0.9" fill="#7f5fa8"/><rect x="62.61" y="243.85" width="13.4" height="0.9" fill="#cfe0cf"/><rect x="62.61" y="249.85" width="13.4" height="0.9" fill="#bd4256"/><rect x="62.61" y="253.55" width="13.4" height="0.9" fill="#a3bfe6"/><rect x="62.61" y="254.35" width="13.4" height="1.5" fill="#4a78c8"/><rect x="62.61" y="262" width="13.4" height="1.2" fill="#4a78c8"/><rect x="62.61" y="264.4" width="13.4" height="1.2" fill="#4a78c8"/><rect x="62.61" y="270.85" width="13.4" height="0.9" fill="#cfe0cf"/><rect x="62.61" y="275.95" width="13.4" height="0.9" fill="#d7302a"/><rect x="62.61" y="288.85" width="13.4" height="0.9" fill="#a3bfe6"/><rect x="62.61" y="309.95" width="13.4" height="0.9" fill="#a3bfe6"/><rect x="62.61" y="317.95" width="13.4" height="0.9" fill="#a3bfe6"/><rect x="62.61" y="321.35" width="13.4" height="0.9" fill="#f7c5bf"/><rect x="62.61" y="333.85" width="13.4" height="0.9" fill="#ee7f5e"/><rect x="62.61" y="339.85" width="13.4" height="2.5" fill="#d7302a"/><rect x="62.61" y="357.55" width="13.4" height="0.9" fill="#f7c5bf"/><rect x="62.61" y="362.75" width="13.4" height="0.9" fill="#ee8d83"/><rect x="62.61" y="366.75" width="13.4" height="0.9" fill="#f7c5bf"/><rect x="62.61" y="381.3" width="13.4" height="1.8" fill="#ee8d83"/><rect x="62.61" y="385.15" width="13.4" height="0.9" fill="#a3bfe6"/><rect x="62.61" y="396.15" width="13.4" height="0.9" fill="#4a78c8"/><rect x="62.61" y="397.65" width="13.4" height="0.9" fill="#d7302a"/><rect x="62.61" y="401.85" width="13.4" height="0.9" fill="#f7c5bf"/><rect x="62.61" y="406.85" width="13.4" height="0.9" fill="#f7c5bf"/><rect x="62.61" y="410.95" width="13.4" height="0.9" fill="#f3edb0"/><rect x="62.61" y="417.85" width="13.4" height="0.9" fill="#4a78c8"/><rect x="62.61" y="420.65" width="13.4" height="0.9" fill="#ee8d83"/><rect x="62.61" y="432.95" width="13.4" height="0.9" fill="#c8a070"/><rect x="62.61" y="439.95" width="13.4" height="0.9" fill="#d3e0f3"/><rect x="62.61" y="445.85" width="13.4" height="0.9" fill="#d7302a"/><rect x="62.61" y="450.95" width="13.4" height="0.9" fill="#4a78c8"/><rect x="62.61" y="462.05" width="13.4" height="0.9" fill="#ee8d83"/><rect x="62.61" y="472.8" width="13.4" height="1.4" fill="#d7302a"/><rect x="62.61" y="478.55" width="13.4" height="0.9" fill="#cfe0cf"/><rect x="62.61" y="480.75" width="13.4" height="0.9" fill="#a3bfe6"/><rect x="62.61" y="481.9" width="13.4" height="2" fill="#d7302a"/><rect x="62.61" y="487.2" width="13.4" height="2" fill="#d7302a"/><rect x="62.61" y="495.05" width="13.4" height="0.9" fill="#a3bfe6"/><rect x="62.61" y="496.35" width="13.4" height="0.9" fill="#bd4256"/><rect x="62.61" y="497.85" width="13.4" height="0.9" fill="#d7302a"/><rect x="62.61" y="499.3" width="13.4" height="1.4" fill="#d7302a"/><rect x="62.61" y="506.15" width="13.4" height="0.9" fill="#a3bfe6"/><rect x="62.61" y="507.95" width="13.4" height="0.9" fill="#d7302a"/><rect x="62.61" y="509.35" width="13.4" height="0.9" fill="#ee8d83"/><rect x="62.61" y="511.05" width="13.4" height="0.9" fill="#4a78c8"/><rect x="62.61" y="521.75" width="13.4" height="0.9" fill="#ee8d83"/><rect x="62.61" y="523.95" width="13.4" height="0.9" fill="#f8c9a8"/><rect x="62.61" y="527.95" width="13.4" height="0.9" fill="#f7c5bf"/><rect x="62.61" y="529.15" width="13.4" height="0.9" fill="#ee8d83"/><rect x="62.61" y="532.25" width="13.4" height="0.9" fill="#ee8d83"/><rect x="62.61" y="549.65" width="13.4" height="0.9" fill="#ee8d83"/><rect x="62.61" y="553.95" width="13.4" height="0.9" fill="#7f5fa8"/><rect x="62.61" y="554.75" width="13.4" height="0.9" fill="#d7302a"/><rect x="62.61" y="563.05" width="13.4" height="0.9" fill="#f8c9a8"/><rect x="62.61" y="570.9" width="13.4" height="1.8" fill="#f7c5bf"/><rect x="62.61" y="574.85" width="13.4" height="0.9" fill="#c8a070"/><rect x="62.61" y="577.85" width="13.4" height="0.9" fill="#d7302a"/><rect x="62.61" y="585.85" width="13.4" height="0.9" fill="#d7302a"/><rect x="62.61" y="587.15" width="13.4" height="0.9" fill="#f7c5bf"/><rect x="62.61" y="589.35" width="13.4" height="0.9" fill="#f7c5bf"/><rect x="62.61" y="592.95" width="13.4" height="0.9" fill="#7f5fa8"/><rect x="62.61" y="599.95" width="13.4" height="0.9" fill="#a3bfe6"/><rect x="62.61" y="606.75" width="13.4" height="0.9" fill="#4a78c8"/><rect x="62.61" y="610.45" width="13.4" height="0.9" fill="#4a78c8"/><rect x="62.61" y="611.45" width="13.4" height="0.9" fill="#7f5fa8"/><rect x="62.61" y="616.8" width="13.4" height="2" fill="#d7302a"/><rect x="62.61" y="620.15" width="13.4" height="0.9" fill="#4a78c8"/><rect x="62.61" y="625.15" width="13.4" height="0.9" fill="#d7302a"/><rect x="62.61" y="628.85" width="13.4" height="0.9" fill="#cfe0cf"/><rect x="62.61" y="635.85" width="13.4" height="0.9" fill="#bd4256"/><rect x="62.61" y="637.15" width="13.4" height="0.9" fill="#4a78c8"/><rect x="62.61" y="639.85" width="13.4" height="0.9" fill="#d7302a"/><rect x="62.61" y="641.15" width="13.4" height="0.9" fill="#a3bfe6"/><rect x="62.61" y="647.5" width="13.4" height="3" fill="#bd4256"/><rect x="62.61" y="656.95" width="13.4" height="0.9" fill="#ee8d83"/><rect x="62.61" y="672.05" width="13.4" height="0.9" fill="#4a78c8"/><rect x="62.61" y="677.95" width="13.4" height="0.9" fill="#4a78c8"/><rect x="62.61" y="681.25" width="13.4" height="0.9" fill="#d7302a"/><rect x="62.61" y="683.05" width="13.4" height="0.9" fill="#f7c5bf"/><rect x="62.61" y="685.85" width="13.4" height="0.9" fill="#d7302a"/><rect x="62.61" y="687.25" width="13.4" height="0.9" fill="#d7302a"/></g>
<path d="M62.41 386.2L69.31 392.6L62.41 398.7Z M76.21 386.2L69.31 392.6L76.21 398.7Z" fill="#fff"/>
<path d="M63.41 137.9V386.2L75.21 398.7V683.3A5.9 5.9 0 0 1 63.41 683.3V398.7L75.21 386.2V137.9A5.9 5.9 0 0 0 63.41 137.9" fill="none" stroke="#868686" stroke-width="1.6" stroke-linejoin="round"/>
<rect x="77.66" y="131.5" width="0.6" height="557.5" fill="#d0d0d0"/>
<rect x="77.76" y="130.95" width="12" height="0.9" fill="#c4c4c4"/>
<rect x="77.76" y="134.05" width="12" height="0.9" fill="#c4c4c4"/>
<rect x="77.76" y="137.75" width="12" height="0.9" fill="#e6e6e6"/>
<rect x="77.76" y="154.85" width="12" height="0.9" fill="#c4c4c4"/>
<rect x="77.76" y="158.8" width="12" height="1.2" fill="#444444"/>
<rect x="77.76" y="162.35" width="12" height="2.5" fill="#8c8c8c"/>
<rect x="77.76" y="167.15" width="12" height="0.9" fill="#8c8c8c"/>
<rect x="77.76" y="169.95" width="12" height="0.9" fill="#8c8c8c"/>
<rect x="77.76" y="171.95" width="12" height="2.5" fill="#c4c4c4"/>
<rect x="77.76" y="180.95" width="12" height="0.9" fill="#8c8c8c"/>
<rect x="77.76" y="197.1" width="12" height="1.8" fill="#e6e6e6"/>
<rect x="77.76" y="218.25" width="12" height="0.9" fill="#c4c4c4"/>
<rect x="77.76" y="220.2" width="12" height="1.6" fill="#c4c4c4"/>
<rect x="77.76" y="225.55" width="12" height="0.9" fill="#e6e6e6"/>
<rect x="77.76" y="240.15" width="12" height="0.9" fill="#e6e6e6"/>
<rect x="77.76" y="243.85" width="12" height="0.9" fill="#e6e6e6"/>
<rect x="77.76" y="249.85" width="12" height="0.9" fill="#e6e6e6"/>
<rect x="77.76" y="264.95" width="12" height="0.9" fill="#c4c4c4"/>
<rect x="77.76" y="270.85" width="12" height="0.9" fill="#8c8c8c"/>
<rect x="77.76" y="275.95" width="12" height="0.9" fill="#e6e6e6"/>
<rect x="77.76" y="320.6" width="12" height="1.8" fill="#e6e6e6"/>
<rect x="77.76" y="326.95" width="12" height="0.9" fill="#e6e6e6"/>
<rect x="77.76" y="332.6" width="12" height="1.6" fill="#e6e6e6"/>
<rect x="77.76" y="339.85" width="12" height="2.5" fill="#000000"/>
<rect x="77.76" y="345.25" width="12" height="0.9" fill="#e6e6e6"/>
<rect x="77.76" y="357.55" width="12" height="0.9" fill="#e6e6e6"/>
<rect x="77.76" y="362.75" width="12" height="0.9" fill="#e6e6e6"/>
<rect x="77.76" y="366.75" width="12" height="0.9" fill="#e6e6e6"/>
<rect x="77.76" y="377.05" width="12" height="0.9" fill="#c4c4c4"/>
<rect x="77.76" y="381" width="12" height="2" fill="#8c8c8c"/>
<rect x="77.76" y="395.85" width="12" height="0.9" fill="#444444"/>
<rect x="77.76" y="398.75" width="12" height="0.9" fill="#444444"/>
<rect x="77.76" y="401.85" width="12" height="0.9" fill="#c4c4c4"/>
<rect x="77.76" y="406.85" width="12" height="0.9" fill="#c4c4c4"/>
<rect x="77.76" y="420.65" width="12" height="0.9" fill="#e6e6e6"/>
<rect x="77.76" y="439.5" width="12" height="1.8" fill="#e6e6e6"/>
<rect x="77.76" y="444.95" width="12" height="0.9" fill="#e6e6e6"/>
<rect x="77.76" y="450.95" width="12" height="0.9" fill="#8c8c8c"/>
<rect x="77.76" y="462.05" width="12" height="0.9" fill="#8c8c8c"/>
<rect x="77.76" y="473.05" width="12" height="0.9" fill="#c4c4c4"/>
<rect x="77.76" y="478.95" width="12" height="0.9" fill="#c4c4c4"/>
<rect x="77.76" y="481.7" width="12" height="2" fill="#8c8c8c"/>
<rect x="77.76" y="487.45" width="12" height="1.5" fill="#000000"/>
<rect x="77.76" y="496.5" width="12" height="1.8" fill="#8c8c8c"/>
<rect x="77.76" y="499.1" width="12" height="1.8" fill="#8c8c8c"/>
<rect x="77.76" y="506.85" width="12" height="0.9" fill="#c4c4c4"/>
<rect x="77.76" y="508.85" width="12" height="0.9" fill="#e6e6e6"/>
<rect x="77.76" y="521.75" width="12" height="0.9" fill="#c4c4c4"/>
<rect x="77.76" y="523.95" width="12" height="0.9" fill="#8c8c8c"/>
<rect x="77.76" y="528.95" width="12" height="0.9" fill="#e6e6e6"/>
<rect x="77.76" y="554.25" width="12" height="0.9" fill="#c4c4c4"/>
<rect x="77.76" y="563.05" width="12" height="0.9" fill="#c4c4c4"/>
<rect x="77.76" y="570.85" width="12" height="0.9" fill="#e6e6e6"/>
<rect x="77.76" y="577.85" width="12" height="0.9" fill="#c4c4c4"/>
<rect x="77.76" y="586.45" width="12" height="0.9" fill="#e6e6e6"/>
<rect x="77.76" y="606.75" width="12" height="0.9" fill="#c4c4c4"/>
<rect x="77.76" y="617" width="12" height="1.8" fill="#8c8c8c"/>
<rect x="77.76" y="622.35" width="12" height="0.9" fill="#c4c4c4"/>
<rect x="77.76" y="625.15" width="12" height="0.9" fill="#c4c4c4"/>
<rect x="77.76" y="628.85" width="12" height="0.9" fill="#c4c4c4"/>
<rect x="77.76" y="635.4" width="12" height="1.8" fill="#e6e6e6"/>
<rect x="77.76" y="639.95" width="12" height="1.5" fill="#444444"/>
<rect x="77.76" y="645.8" width="12" height="1.8" fill="#c4c4c4"/>
<rect x="77.76" y="648.65" width="12" height="0.9" fill="#8c8c8c"/>
<rect x="77.76" y="653.05" width="12" height="0.9" fill="#c4c4c4"/>
<rect x="77.76" y="654.95" width="12" height="0.9" fill="#e6e6e6"/>
<rect x="77.76" y="656.95" width="12" height="0.9" fill="#c4c4c4"/>
<rect x="77.76" y="678.55" width="12" height="0.9" fill="#e6e6e6"/>
<rect x="77.76" y="681.2" width="12" height="2" fill="#000000"/>
<rect x="77.76" y="684.85" width="12" height="0.9" fill="#8c8c8c"/>
<rect x="77.76" y="686.45" width="12" height="2.5" fill="#8c8c8c"/>
<g clip-path="url(#c4)"><rect x="93.94" y="152.85" width="13.4" height="0.9" fill="#d7302a"/><rect x="93.94" y="159.9" width="13.4" height="1.8" fill="#a3bfe6"/><rect x="93.94" y="161.75" width="13.4" height="0.9" fill="#4a78c8"/><rect x="93.94" y="163" width="13.4" height="1.2" fill="#d7302a"/><rect x="93.94" y="176.35" width="13.4" height="3.5" fill="#d7302a"/><rect x="93.94" y="188.85" width="13.4" height="0.9" fill="#7f5fa8"/><rect x="93.94" y="191.05" width="13.4" height="0.9" fill="#a3bfe6"/><rect x="93.94" y="192.7" width="13.4" height="1.4" fill="#a3bfe6"/><rect x="93.94" y="195.4" width="13.4" height="1.4" fill="#d3e0f3"/><rect x="93.94" y="219.05" width="13.4" height="0.9" fill="#a3bfe6"/><rect x="93.94" y="223.05" width="13.4" height="0.9" fill="#ee8d83"/><rect x="93.94" y="228.05" width="13.4" height="0.9" fill="#7f5fa8"/><rect x="93.94" y="242.95" width="13.4" height="0.9" fill="#a3bfe6"/><rect x="93.94" y="288.55" width="13.4" height="0.9" fill="#d7302a"/><rect x="93.94" y="289.55" width="13.4" height="0.9" fill="#4a78c8"/><rect x="93.94" y="311.85" width="13.4" height="0.9" fill="#a0a0a0"/><rect x="93.94" y="326" width="13.4" height="2" fill="#a3bfe6"/><rect x="93.94" y="336.15" width="13.4" height="0.9" fill="#ee7f5e"/><rect x="93.94" y="341.25" width="13.4" height="0.9" fill="#4a78c8"/><rect x="93.94" y="344.05" width="13.4" height="0.9" fill="#4a78c8"/><rect x="93.94" y="347.3" width="13.4" height="1.6" fill="#4a78c8"/><rect x="93.94" y="349.55" width="13.4" height="0.9" fill="#4a78c8"/><rect x="93.94" y="352.1" width="13.4" height="2.4" fill="#d7302a"/><rect x="93.94" y="355.9" width="13.4" height="2.2" fill="#a3bfe6"/><rect x="93.94" y="359.05" width="13.4" height="0.9" fill="#a3bfe6"/><rect x="93.94" y="362.75" width="13.4" height="0.9" fill="#bd4256"/><rect x="93.94" y="366.05" width="13.4" height="0.9" fill="#ee8d83"/><rect x="93.94" y="375.55" width="13.4" height="0.9" fill="#bcaad3"/><rect x="93.94" y="377.45" width="13.4" height="0.9" fill="#f7c5bf"/><rect x="93.94" y="382.95" width="13.4" height="0.9" fill="#4a78c8"/><rect x="93.94" y="384.85" width="13.4" height="0.9" fill="#ee8d83"/><rect x="93.94" y="389.95" width="13.4" height="0.9" fill="#ee7f5e"/><rect x="93.94" y="397.65" width="13.4" height="0.9" fill="#ee8d83"/><rect x="93.94" y="403.15" width="13.4" height="0.9" fill="#d7302a"/><rect x="93.94" y="404.65" width="13.4" height="0.9" fill="#7f5fa8"/><rect x="93.94" y="417.85" width="13.4" height="0.9" fill="#a3bfe6"/><rect x="93.94" y="432.95" width="13.4" height="0.9" fill="#cfe0cf"/><rect x="93.94" y="435.75" width="13.4" height="0.9" fill="#a3bfe6"/><rect x="93.94" y="438.45" width="13.4" height="0.9" fill="#a3bfe6"/><rect x="93.94" y="444.55" width="13.4" height="0.9" fill="#d3e0f3"/><rect x="93.94" y="446.95" width="13.4" height="0.9" fill="#a3bfe6"/><rect x="93.94" y="453.75" width="13.4" height="0.9" fill="#d7302a"/><rect x="93.94" y="467.55" width="13.4" height="0.9" fill="#a3bfe6"/><rect x="93.94" y="489.95" width="13.4" height="0.9" fill="#bd4256"/><rect x="93.94" y="491.75" width="13.4" height="0.9" fill="#d7302a"/><rect x="93.94" y="520.85" width="13.4" height="0.9" fill="#4a78c8"/><rect x="93.94" y="530.05" width="13.4" height="0.9" fill="#bcaad3"/><rect x="93.94" y="534.95" width="13.4" height="0.9" fill="#4a78c8"/><rect x="93.94" y="535.65" width="13.4" height="1.5" fill="#d7302a"/><rect x="93.94" y="546.95" width="13.4" height="0.9" fill="#a3bfe6"/><rect x="93.94" y="549.15" width="13.4" height="0.9" fill="#f8c9a8"/><rect x="93.94" y="560" width="13.4" height="2" fill="#d7302a"/><rect x="93.94" y="564.05" width="13.4" height="0.9" fill="#f8c9a8"/><rect x="93.94" y="587.75" width="13.4" height="0.9" fill="#f7c5bf"/><rect x="93.94" y="588.05" width="13.4" height="0.9" fill="#d7302a"/><rect x="93.94" y="592.05" width="13.4" height="0.9" fill="#f7c5bf"/><rect x="93.94" y="594.85" width="13.4" height="0.9" fill="#f7c5bf"/><rect x="93.94" y="597.05" width="13.4" height="0.9" fill="#4a78c8"/><rect x="93.94" y="600.85" width="13.4" height="0.9" fill="#ee8d83"/><rect x="93.94" y="607.8" width="13.4" height="1.8" fill="#a3bfe6"/><rect x="93.94" y="616.6" width="13.4" height="1.4" fill="#d7302a"/><rect x="93.94" y="618.75" width="13.4" height="0.9" fill="#7f5fa8"/><rect x="93.94" y="619.65" width="13.4" height="0.9" fill="#d7302a"/><rect x="93.94" y="626.95" width="13.4" height="0.9" fill="#4a78c8"/><rect x="93.94" y="632.1" width="13.4" height="1.8" fill="#bd4256"/><rect x="93.94" y="646.85" width="13.4" height="0.9" fill="#a3bfe6"/><rect x="93.94" y="654.95" width="13.4" height="0.9" fill="#a3bfe6"/><rect x="93.94" y="657.8" width="13.4" height="1.8" fill="#a3bfe6"/><rect x="93.94" y="660.65" width="13.4" height="0.9" fill="#4a78c8"/><rect x="93.94" y="667.95" width="13.4" height="0.9" fill="#4a78c8"/><rect x="93.94" y="669.85" width="13.4" height="0.9" fill="#a3bfe6"/><rect x="93.94" y="676.65" width="13.4" height="0.9" fill="#4a78c8"/><rect x="93.94" y="682.6" width="13.4" height="1.8" fill="#4a78c8"/><rect x="93.94" y="684.85" width="13.4" height="0.9" fill="#4a78c8"/><rect x="93.94" y="686.5" width="13.4" height="1.4" fill="#4a78c8"/></g>
<path d="M93.74 290.2L100.64 298.5L93.74 305.9Z M107.54 290.2L100.64 298.5L107.54 305.9Z" fill="#fff"/>
<path d="M94.74 158.7V290.2L106.54 305.9V683.3A5.9 5.9 0 0 1 94.74 683.3V305.9L106.54 290.2V158.7A5.9 5.9 0 0 0 94.74 158.7" fill="none" stroke="#868686" stroke-width="1.6" stroke-linejoin="round"/>
<rect x="108.99" y="152.3" width="0.6" height="536.7" fill="#d0d0d0"/>
<rect x="109.09" y="152.8" width="12" height="3" fill="#444444"/>
<rect x="109.09" y="162.9" width="12" height="1" fill="#444444"/>
<rect x="109.09" y="172.1" width="12" height="2" fill="#e6e6e6"/>
<rect x="109.09" y="176.6" width="12" height="3" fill="#000000"/>
<rect x="109.09" y="188.85" width="12" height="0.9" fill="#c4c4c4"/>
<rect x="109.09" y="191.1" width="12" height="1.6" fill="#c4c4c4"/>
<rect x="109.09" y="201.55" width="12" height="0.9" fill="#e6e6e6"/>
<rect x="109.09" y="223.05" width="12" height="0.9" fill="#c4c4c4"/>
<rect x="109.09" y="228.05" width="12" height="0.9" fill="#c4c4c4"/>
<rect x="109.09" y="248.05" width="12" height="0.9" fill="#c4c4c4"/>
<rect x="109.09" y="288.7" width="12" height="1.2" fill="#444444"/>
<rect x="109.09" y="311.85" width="12" height="0.9" fill="#e6e6e6"/>
<rect x="109.09" y="348.55" width="12" height="0.9" fill="#e6e6e6"/>
<rect x="109.09" y="351.7" width="12" height="2.6" fill="#000000"/>
<rect x="109.09" y="354.55" width="12" height="0.9" fill="#444444"/>
<rect x="109.09" y="362.75" width="12" height="0.9" fill="#c4c4c4"/>
<rect x="109.09" y="366.05" width="12" height="0.9" fill="#e6e6e6"/>
<rect x="109.09" y="375.95" width="12" height="0.9" fill="#c4c4c4"/>
<rect x="109.09" y="377.95" width="12" height="0.9" fill="#e6e6e6"/>
<rect x="109.09" y="382.55" width="12" height="0.9" fill="#e6e6e6"/>
<rect x="109.09" y="385" width="12" height="1.6" fill="#c4c4c4"/>
<rect x="109.09" y="396.9" width="12" height="1.6" fill="#e6e6e6"/>
<rect x="109.09" y="402.85" width="12" height="0.9" fill="#c4c4c4"/>
<rect x="109.09" y="404.65" width="12" height="0.9" fill="#c4c4c4"/>
<rect x="109.09" y="432.95" width="12" height="0.9" fill="#c4c4c4"/>
<rect x="109.09" y="447.85" width="12" height="0.9" fill="#8c8c8c"/>
<rect x="109.09" y="453.75" width="12" height="0.9" fill="#e6e6e6"/>
<rect x="109.09" y="489.95" width="12" height="0.9" fill="#444444"/>
<rect x="109.09" y="491.85" width="12" height="1.5" fill="#8c8c8c"/>
<rect x="109.09" y="530.05" width="12" height="0.9" fill="#e6e6e6"/>
<rect x="109.09" y="535.85" width="12" height="0.9" fill="#c4c4c4"/>
<rect x="109.09" y="560" width="12" height="2" fill="#444444"/>
<rect x="109.09" y="567.15" width="12" height="0.9" fill="#c4c4c4"/>
<rect x="109.09" y="573.05" width="12" height="0.9" fill="#c4c4c4"/>
<rect x="109.09" y="587.75" width="12" height="0.9" fill="#e6e6e6"/>
<rect x="109.09" y="588.05" width="12" height="0.9" fill="#c4c4c4"/>
<rect x="109.09" y="592.45" width="12" height="0.9" fill="#e6e6e6"/>
<rect x="109.09" y="599.9" width="12" height="1.8" fill="#c4c4c4"/>
<rect x="109.09" y="616.85" width="12" height="0.9" fill="#c4c4c4"/>
<rect x="109.09" y="619.65" width="12" height="0.9" fill="#8c8c8c"/>
<rect x="109.09" y="631.7" width="12" height="1.8" fill="#c4c4c4"/>
<rect x="109.09" y="646.85" width="12" height="0.9" fill="#444444"/>
<rect x="109.09" y="663.75" width="12" height="0.9" fill="#c4c4c4"/>
<rect x="109.09" y="674.25" width="12" height="0.9" fill="#c4c4c4"/>
<rect x="109.09" y="678.1" width="12" height="1.8" fill="#c4c4c4"/>
<rect x="109.09" y="685.7" width="12" height="3" fill="#8c8c8c"/>
<g clip-path="url(#c5)"><rect x="125.27" y="184.65" width="13.4" height="0.9" fill="#4a78c8"/><rect x="125.27" y="186.15" width="13.4" height="0.9" fill="#bd4256"/><rect x="125.27" y="187.75" width="13.4" height="0.9" fill="#d7302a"/><rect x="125.27" y="189.55" width="13.4" height="0.9" fill="#a3bfe6"/><rect x="125.27" y="192.95" width="13.4" height="0.9" fill="#4a78c8"/><rect x="125.27" y="198.45" width="13.4" height="0.9" fill="#4a78c8"/><rect x="125.27" y="201.75" width="13.4" height="0.9" fill="#4a78c8"/><rect x="125.27" y="208.05" width="13.4" height="0.9" fill="#4a78c8"/><rect x="125.27" y="220.55" width="13.4" height="0.9" fill="#a3bfe6"/><rect x="125.27" y="223.8" width="13.4" height="1.6" fill="#f8c9a8"/><rect x="125.27" y="231.55" width="13.4" height="0.9" fill="#bd4256"/><rect x="125.27" y="232.45" width="13.4" height="0.9" fill="#4a78c8"/><rect x="125.27" y="234.25" width="13.4" height="0.9" fill="#4a78c8"/><rect x="125.27" y="236.15" width="13.4" height="0.9" fill="#a3bfe6"/><rect x="125.27" y="237.95" width="13.4" height="0.9" fill="#a3bfe6"/><rect x="125.27" y="242.1" width="13.4" height="4.6" fill="#d7302a"/><rect x="125.27" y="249.55" width="13.4" height="0.9" fill="#f3edb0"/><rect x="125.27" y="253.05" width="13.4" height="0.9" fill="#d7302a"/><rect x="125.27" y="256.95" width="13.4" height="0.9" fill="#cfe0cf"/><rect x="125.27" y="266.1" width="13.4" height="1.6" fill="#bd4256"/><rect x="125.27" y="273.45" width="13.4" height="0.9" fill="#a3bfe6"/><rect x="125.27" y="279.05" width="13.4" height="1.5" fill="#bd4256"/><rect x="125.27" y="288.55" width="13.4" height="0.9" fill="#ee8d83"/><rect x="125.27" y="300.95" width="13.4" height="0.9" fill="#4a78c8"/><rect x="125.27" y="303.9" width="13.4" height="1.6" fill="#ee7f5e"/><rect x="125.27" y="326.85" width="13.4" height="0.9" fill="#a3bfe6"/><rect x="125.27" y="337" width="13.4" height="1.6" fill="#f7c5bf"/><rect x="125.27" y="353.9" width="13.4" height="1.6" fill="#d7302a"/><rect x="125.27" y="379.2" width="13.4" height="4.6" fill="#d7302a"/><rect x="125.27" y="388.85" width="13.4" height="0.9" fill="#ee8d83"/><rect x="125.27" y="391.55" width="13.4" height="0.9" fill="#ee8d83"/><rect x="125.27" y="393.55" width="13.4" height="0.9" fill="#bd4256"/><rect x="125.27" y="396.75" width="13.4" height="0.9" fill="#ee8d83"/><rect x="125.27" y="408.35" width="13.4" height="0.9" fill="#4a78c8"/><rect x="125.27" y="420" width="13.4" height="1.2" fill="#4a78c8"/><rect x="125.27" y="447.75" width="13.4" height="0.9" fill="#f7c5bf"/><rect x="125.27" y="451.05" width="13.4" height="0.9" fill="#d7302a"/><rect x="125.27" y="453.9" width="13.4" height="1.8" fill="#f7c5bf"/><rect x="125.27" y="458.05" width="13.4" height="0.9" fill="#ee8d83"/><rect x="125.27" y="460.65" width="13.4" height="3.7" fill="#d7302a"/><rect x="125.27" y="480.85" width="13.4" height="0.9" fill="#a3bfe6"/><rect x="125.27" y="508.05" width="13.4" height="0.9" fill="#f3edb0"/><rect x="125.27" y="511.75" width="13.4" height="0.9" fill="#c8a070"/><rect x="125.27" y="520.95" width="13.4" height="0.9" fill="#4a78c8"/><rect x="125.27" y="527.3" width="13.4" height="1.4" fill="#ee8d83"/><rect x="125.27" y="529.75" width="13.4" height="0.9" fill="#d3e0f3"/><rect x="125.27" y="538.05" width="13.4" height="0.9" fill="#a3bfe6"/><rect x="125.27" y="544.45" width="13.4" height="0.9" fill="#a3bfe6"/><rect x="125.27" y="551.85" width="13.4" height="0.9" fill="#a3bfe6"/><rect x="125.27" y="553.65" width="13.4" height="0.9" fill="#7f5fa8"/><rect x="125.27" y="559.55" width="13.4" height="0.9" fill="#bcaad3"/><rect x="125.27" y="563.75" width="13.4" height="0.9" fill="#bcaad3"/><rect x="125.27" y="575.75" width="13.4" height="0.9" fill="#ee8d83"/><rect x="125.27" y="576.95" width="13.4" height="1.3" fill="#4a78c8"/><rect x="125.27" y="579.05" width="13.4" height="0.9" fill="#4a78c8"/><rect x="125.27" y="582.75" width="13.4" height="0.9" fill="#cfe0cf"/><rect x="125.27" y="584.95" width="13.4" height="0.9" fill="#a3bfe6"/><rect x="125.27" y="589.85" width="13.4" height="0.9" fill="#cfe0cf"/><rect x="125.27" y="592.25" width="13.4" height="0.9" fill="#bd4256"/><rect x="125.27" y="595.55" width="13.4" height="0.9" fill="#4a78c8"/><rect x="125.27" y="598.75" width="13.4" height="0.9" fill="#4a78c8"/><rect x="125.27" y="606" width="13.4" height="1.8" fill="#f7c5bf"/><rect x="125.27" y="613" width="13.4" height="1.8" fill="#d3e0f3"/><rect x="125.27" y="632.55" width="13.4" height="0.9" fill="#7f5fa8"/><rect x="125.27" y="633.75" width="13.4" height="0.9" fill="#d7302a"/><rect x="125.27" y="638.95" width="13.4" height="0.9" fill="#4a78c8"/><rect x="125.27" y="650.85" width="13.4" height="0.9" fill="#c8a070"/><rect x="125.27" y="653.2" width="13.4" height="1.8" fill="#f8c9a8"/><rect x="125.27" y="656.95" width="13.4" height="0.9" fill="#c8a070"/><rect x="125.27" y="659.15" width="13.4" height="0.9" fill="#d7302a"/><rect x="125.27" y="661.55" width="13.4" height="0.9" fill="#a3bfe6"/><rect x="125.27" y="665.05" width="13.4" height="0.9" fill="#7f5fa8"/><rect x="125.27" y="668.8" width="13.4" height="1.8" fill="#d3e0f3"/><rect x="125.27" y="673.85" width="13.4" height="0.9" fill="#d7302a"/><rect x="125.27" y="678.1" width="13.4" height="2" fill="#d7302a"/><rect x="125.27" y="681.25" width="13.4" height="0.9" fill="#bcaad3"/><rect x="125.27" y="683.05" width="13.4" height="0.9" fill="#bcaad3"/><rect x="125.27" y="685.85" width="13.4" height="0.9" fill="#7f5fa8"/><rect x="125.27" y="687.25" width="13.4" height="0.9" fill="#4a78c8"/></g>
<path d="M125.07 314.3L131.97 318.5L125.07 322.7Z M138.87 314.3L131.97 318.5L138.87 322.7Z" fill="#fff"/>
<path d="M126.07 190.5V314.3L137.87 322.7V683.3A5.9 5.9 0 0 1 126.07 683.3V322.7L137.87 314.3V190.5A5.9 5.9 0 0 0 126.07 190.5" fill="none" stroke="#868686" stroke-width="1.6" stroke-linejoin="round"/>
<rect x="140.32" y="184.1" width="0.6" height="504.9" fill="#d0d0d0"/>
<rect x="140.42" y="184.7" width="12" height="3" fill="#444444"/>
<rect x="140.42" y="187.8" width="12" height="2" fill="#8c8c8c"/>
<rect x="140.42" y="198.85" width="12" height="0.9" fill="#e6e6e6"/>
<rect x="140.42" y="200.85" width="12" height="0.9" fill="#e6e6e6"/>
<rect x="140.42" y="220.55" width="12" height="0.9" fill="#e6e6e6"/>
<rect x="140.42" y="224.15" width="12" height="0.9" fill="#c4c4c4"/>
<rect x="140.42" y="232.55" width="12" height="1.5" fill="#8c8c8c"/>
<rect x="140.42" y="242.1" width="12" height="4.2" fill="#444444"/>
<rect x="140.42" y="249.4" width="12" height="2" fill="#c4c4c4"/>
<rect x="140.42" y="253.05" width="12" height="0.9" fill="#c4c4c4"/>
<rect x="140.42" y="265.85" width="12" height="1.3" fill="#c4c4c4"/>
<rect x="140.42" y="279" width="12" height="1.6" fill="#000000"/>
<rect x="140.42" y="288.3" width="12" height="1.4" fill="#c4c4c4"/>
<rect x="140.42" y="304.3" width="12" height="1.4" fill="#c4c4c4"/>
<rect x="140.42" y="337.85" width="12" height="0.9" fill="#e6e6e6"/>
<rect x="140.42" y="353.95" width="12" height="1.5" fill="#c4c4c4"/>
<rect x="140.42" y="379.55" width="12" height="4.3" fill="#000000"/>
<rect x="140.42" y="386.95" width="12" height="0.9" fill="#c4c4c4"/>
<rect x="140.42" y="389.35" width="12" height="0.9" fill="#c4c4c4"/>
<rect x="140.42" y="392.85" width="12" height="0.9" fill="#c4c4c4"/>
<rect x="140.42" y="396.5" width="12" height="1.4" fill="#c4c4c4"/>
<rect x="140.42" y="400.75" width="12" height="0.9" fill="#e6e6e6"/>
<rect x="140.42" y="408" width="12" height="1.6" fill="#c4c4c4"/>
<rect x="140.42" y="447.85" width="12" height="0.9" fill="#8c8c8c"/>
<rect x="140.42" y="451.05" width="12" height="0.9" fill="#e6e6e6"/>
<rect x="140.42" y="454.35" width="12" height="0.9" fill="#e6e6e6"/>
<rect x="140.42" y="461.5" width="12" height="3" fill="#444444"/>
<rect x="140.42" y="480.85" width="12" height="0.9" fill="#c4c4c4"/>
<rect x="140.42" y="494.75" width="12" height="0.9" fill="#c4c4c4"/>
<rect x="140.42" y="508.05" width="12" height="0.9" fill="#8c8c8c"/>
<rect x="140.42" y="527.95" width="12" height="0.9" fill="#c4c4c4"/>
<rect x="140.42" y="538.05" width="12" height="0.9" fill="#c4c4c4"/>
<rect x="140.42" y="554.25" width="12" height="0.9" fill="#e6e6e6"/>
<rect x="140.42" y="559.15" width="12" height="0.9" fill="#e6e6e6"/>
<rect x="140.42" y="569.25" width="12" height="0.9" fill="#e6e6e6"/>
<rect x="140.42" y="575.75" width="12" height="0.9" fill="#8c8c8c"/>
<rect x="140.42" y="579.05" width="12" height="0.9" fill="#c4c4c4"/>
<rect x="140.42" y="582.75" width="12" height="0.9" fill="#8c8c8c"/>
<rect x="140.42" y="592.25" width="12" height="0.9" fill="#e6e6e6"/>
<rect x="140.42" y="601.45" width="12" height="0.9" fill="#e6e6e6"/>
<rect x="140.42" y="606.45" width="12" height="0.9" fill="#e6e6e6"/>
<rect x="140.42" y="612.85" width="12" height="0.9" fill="#c4c4c4"/>
<rect x="140.42" y="623.85" width="12" height="0.9" fill="#c4c4c4"/>
<rect x="140.42" y="633" width="12" height="1.8" fill="#c4c4c4"/>
<rect x="140.42" y="650.85" width="12" height="0.9" fill="#c4c4c4"/>
<rect x="140.42" y="653.65" width="12" height="0.9" fill="#c4c4c4"/>
<rect x="140.42" y="656.95" width="12" height="0.9" fill="#c4c4c4"/>
<rect x="140.42" y="659.15" width="12" height="0.9" fill="#e6e6e6"/>
<rect x="140.42" y="665.05" width="12" height="0.9" fill="#e6e6e6"/>
<rect x="140.42" y="673.55" width="12" height="1.5" fill="#000000"/>
<rect x="140.42" y="678.1" width="12" height="2" fill="#000000"/>
<rect x="140.42" y="681.25" width="12" height="0.9" fill="#8c8c8c"/>
<rect x="140.42" y="683.05" width="12" height="0.9" fill="#8c8c8c"/>
<rect x="140.42" y="684.85" width="12" height="0.9" fill="#c4c4c4"/>
<rect x="140.42" y="686.8" width="12" height="1.8" fill="#c4c4c4"/>
<g clip-path="url(#c6)"><rect x="156.6" y="217.3" width="13.4" height="1.8" fill="#f7c5bf"/><rect x="156.6" y="219.55" width="13.4" height="1.3" fill="#d7302a"/><rect x="156.6" y="226.35" width="13.4" height="1.3" fill="#bd4256"/><rect x="156.6" y="241.05" width="13.4" height="0.9" fill="#4a78c8"/><rect x="156.6" y="249.95" width="13.4" height="0.9" fill="#ee8d83"/><rect x="156.6" y="256.95" width="13.4" height="0.9" fill="#a3bfe6"/><rect x="156.6" y="259.15" width="13.4" height="0.9" fill="#d7302a"/><rect x="156.6" y="273.85" width="13.4" height="0.9" fill="#ee8d83"/><rect x="156.6" y="277.85" width="13.4" height="0.9" fill="#d7302a"/><rect x="156.6" y="285.2" width="13.4" height="2.4" fill="#f7c5bf"/><rect x="156.6" y="291.25" width="13.4" height="0.9" fill="#f8c9a8"/><rect x="156.6" y="291.75" width="13.4" height="0.9" fill="#f8c9a8"/><rect x="156.6" y="293.55" width="13.4" height="0.9" fill="#4a78c8"/><rect x="156.6" y="295.45" width="13.4" height="0.9" fill="#ee8d83"/><rect x="156.6" y="298.1" width="13.4" height="2.2" fill="#bd4256"/><rect x="156.6" y="300.55" width="13.4" height="0.9" fill="#a3bfe6"/><rect x="156.6" y="302.75" width="13.4" height="0.9" fill="#a3bfe6"/><rect x="156.6" y="306.05" width="13.4" height="0.9" fill="#4a78c8"/><rect x="156.6" y="309.75" width="13.4" height="0.9" fill="#f3edb0"/><rect x="156.6" y="331.85" width="13.4" height="0.9" fill="#ee8d83"/><rect x="156.6" y="336.05" width="13.4" height="0.9" fill="#a3bfe6"/><rect x="156.6" y="353.85" width="13.4" height="0.9" fill="#f7c5bf"/><rect x="156.6" y="357.05" width="13.4" height="0.9" fill="#bd4256"/><rect x="156.6" y="359.95" width="13.4" height="0.9" fill="#a3bfe6"/><rect x="156.6" y="369.35" width="13.4" height="3.7" fill="#d7302a"/><rect x="156.6" y="381.9" width="13.4" height="2.8" fill="#d7302a"/><rect x="156.6" y="396.15" width="13.4" height="0.9" fill="#4a78c8"/><rect x="156.6" y="400.2" width="13.4" height="2" fill="#ee8d83"/><rect x="156.6" y="402.85" width="13.4" height="0.9" fill="#4a78c8"/><rect x="156.6" y="405.05" width="13.4" height="0.9" fill="#a3bfe6"/><rect x="156.6" y="420.15" width="13.4" height="0.9" fill="#a3bfe6"/><rect x="156.6" y="421.7" width="13.4" height="1.4" fill="#4a78c8"/><rect x="156.6" y="434.85" width="13.4" height="0.9" fill="#f8c9a8"/><rect x="156.6" y="446.75" width="13.4" height="0.9" fill="#a3bfe6"/><rect x="156.6" y="448.8" width="13.4" height="1.6" fill="#a3bfe6"/><rect x="156.6" y="462.5" width="13.4" height="1.8" fill="#f7c5bf"/><rect x="156.6" y="504.3" width="13.4" height="1.6" fill="#a3bfe6"/><rect x="156.6" y="509" width="13.4" height="1.8" fill="#4a78c8"/><rect x="156.6" y="511.65" width="13.4" height="0.9" fill="#ee7f5e"/><rect x="156.6" y="513.55" width="13.4" height="0.9" fill="#d7302a"/><rect x="156.6" y="515.55" width="13.4" height="0.9" fill="#a3bfe6"/><rect x="156.6" y="537.15" width="13.4" height="0.9" fill="#f8c9a8"/><rect x="156.6" y="551" width="13.4" height="1.8" fill="#f7c5bf"/><rect x="156.6" y="559.55" width="13.4" height="0.9" fill="#a3bfe6"/><rect x="156.6" y="580.8" width="13.4" height="1.8" fill="#a3bfe6"/><rect x="156.6" y="584.5" width="13.4" height="1.8" fill="#a3bfe6"/><rect x="156.6" y="596.85" width="13.4" height="0.9" fill="#4a78c8"/><rect x="156.6" y="605.15" width="13.4" height="0.9" fill="#4a78c8"/><rect x="156.6" y="615.85" width="13.4" height="0.9" fill="#a3bfe6"/><rect x="156.6" y="622.05" width="13.4" height="0.9" fill="#d7302a"/><rect x="156.6" y="629.15" width="13.4" height="0.9" fill="#a3bfe6"/><rect x="156.6" y="630.65" width="13.4" height="0.9" fill="#f3edb0"/><rect x="156.6" y="639.7" width="13.4" height="1.2" fill="#d7302a"/><rect x="156.6" y="654.55" width="13.4" height="0.9" fill="#a3bfe6"/><rect x="156.6" y="656.05" width="13.4" height="0.9" fill="#ee8d83"/><rect x="156.6" y="657.85" width="13.4" height="0.9" fill="#ee8d83"/><rect x="156.6" y="660.2" width="13.4" height="2" fill="#d7302a"/><rect x="156.6" y="665.05" width="13.4" height="0.9" fill="#a3bfe6"/><rect x="156.6" y="672.05" width="13.4" height="0.9" fill="#4a78c8"/><rect x="156.6" y="679.35" width="13.4" height="0.9" fill="#4a78c8"/><rect x="156.6" y="682.15" width="13.4" height="0.9" fill="#a3bfe6"/><rect x="156.6" y="687.25" width="13.4" height="0.9" fill="#a3bfe6"/></g>
<path d="M156.4 373.6L163.3 377.3L156.4 381Z M170.2 373.6L163.3 377.3L170.2 381Z" fill="#fff"/>
<path d="M157.4 218.5V373.6L169.2 381V683.3A5.9 5.9 0 0 1 157.4 683.3V381L169.2 373.6V218.5A5.9 5.9 0 0 0 157.4 218.5" fill="none" stroke="#868686" stroke-width="1.6" stroke-linejoin="round"/>
<rect x="171.65" y="212.1" width="0.6" height="476.9" fill="#d0d0d0"/>
<rect x="171.75" y="212.05" width="12" height="1.3" fill="#8c8c8c"/>
<rect x="171.75" y="214.65" width="12" height="0.9" fill="#c4c4c4"/>
<rect x="171.75" y="217.35" width="12" height="0.9" fill="#c4c4c4"/>
<rect x="171.75" y="219.2" width="12" height="1.6" fill="#8c8c8c"/>
<rect x="171.75" y="226.95" width="12" height="0.9" fill="#c4c4c4"/>
<rect x="171.75" y="243.85" width="12" height="0.9" fill="#e6e6e6"/>
<rect x="171.75" y="249.95" width="12" height="0.9" fill="#e6e6e6"/>
<rect x="171.75" y="256.95" width="12" height="0.9" fill="#c4c4c4"/>
<rect x="171.75" y="259.15" width="12" height="0.9" fill="#c4c4c4"/>
<rect x="171.75" y="273.85" width="12" height="0.9" fill="#e6e6e6"/>
<rect x="171.75" y="277.85" width="12" height="0.9" fill="#e6e6e6"/>
<rect x="171.75" y="285" width="12" height="1.6" fill="#8c8c8c"/>
<rect x="171.75" y="293.55" width="12" height="0.9" fill="#8c8c8c"/>
<rect x="171.75" y="295.95" width="12" height="0.9" fill="#8c8c8c"/>
<rect x="171.75" y="297.85" width="12" height="0.9" fill="#8c8c8c"/>
<rect x="171.75" y="299.5" width="12" height="2" fill="#8c8c8c"/>
<rect x="171.75" y="332.15" width="12" height="0.9" fill="#e6e6e6"/>
<rect x="171.75" y="353.85" width="12" height="0.9" fill="#e6e6e6"/>
<rect x="171.75" y="357.2" width="12" height="1.6" fill="#c4c4c4"/>
<rect x="171.75" y="370" width="12" height="3.2" fill="#000000"/>
<rect x="171.75" y="382.1" width="12" height="2.6" fill="#000000"/>
<rect x="171.75" y="396.15" width="12" height="0.9" fill="#c4c4c4"/>
<rect x="171.75" y="400.1" width="12" height="1.8" fill="#c4c4c4"/>
<rect x="171.75" y="417.05" width="12" height="0.9" fill="#c4c4c4"/>
<rect x="171.75" y="434.85" width="12" height="0.9" fill="#c4c4c4"/>
<rect x="171.75" y="446.75" width="12" height="0.9" fill="#e6e6e6"/>
<rect x="171.75" y="463.1" width="12" height="1.8" fill="#e6e6e6"/>
<rect x="171.75" y="510.75" width="12" height="0.9" fill="#e6e6e6"/>
<rect x="171.75" y="513.85" width="12" height="0.9" fill="#c4c4c4"/>
<rect x="171.75" y="537.15" width="12" height="0.9" fill="#c4c4c4"/>
<rect x="171.75" y="585.85" width="12" height="0.9" fill="#c4c4c4"/>
<rect x="171.75" y="615.85" width="12" height="0.9" fill="#c4c4c4"/>
<rect x="171.75" y="622.05" width="12" height="0.9" fill="#c4c4c4"/>
<rect x="171.75" y="627.95" width="12" height="0.9" fill="#e6e6e6"/>
<rect x="171.75" y="630.4" width="12" height="1.4" fill="#444444"/>
<rect x="171.75" y="640" width="12" height="1.8" fill="#c4c4c4"/>
<rect x="171.75" y="650.85" width="12" height="0.9" fill="#c4c4c4"/>
<rect x="171.75" y="654.95" width="12" height="0.9" fill="#c4c4c4"/>
<rect x="171.75" y="657.85" width="12" height="0.9" fill="#8c8c8c"/>
<rect x="171.75" y="660" width="12" height="1.8" fill="#444444"/>
<rect x="171.75" y="679.1" width="12" height="1.8" fill="#8c8c8c"/>
<rect x="171.75" y="681.7" width="12" height="1.8" fill="#8c8c8c"/>
<rect x="171.75" y="684.3" width="12" height="1.8" fill="#8c8c8c"/>
<rect x="171.75" y="686.9" width="12" height="1.8" fill="#8c8c8c"/>
<g clip-path="url(#c7)"><rect x="187.93" y="246.6" width="13.4" height="1.2" fill="#4a78c8"/><rect x="187.93" y="258.6" width="13.4" height="2" fill="#bd4256"/><rect x="187.93" y="260.95" width="13.4" height="0.9" fill="#a3bfe6"/><rect x="187.93" y="262.95" width="13.4" height="1.3" fill="#d7302a"/><rect x="187.93" y="300.95" width="13.4" height="0.9" fill="#d7302a"/><rect x="187.93" y="306.05" width="13.4" height="0.9" fill="#d7302a"/><rect x="187.93" y="307.95" width="13.4" height="0.9" fill="#ee8d83"/><rect x="187.93" y="309.75" width="13.4" height="0.9" fill="#d7302a"/><rect x="187.93" y="311.25" width="13.4" height="0.9" fill="#ee8d83"/><rect x="187.93" y="313.05" width="13.4" height="0.9" fill="#d7302a"/><rect x="187.93" y="319.85" width="13.4" height="0.9" fill="#d7302a"/><rect x="187.93" y="325.8" width="13.4" height="1.2" fill="#d7302a"/><rect x="187.93" y="327.75" width="13.4" height="0.9" fill="#d7302a"/><rect x="187.93" y="334.2" width="13.4" height="1.6" fill="#d7302a"/><rect x="187.93" y="340.6" width="13.4" height="1.8" fill="#d7302a"/><rect x="187.93" y="342.85" width="13.4" height="0.9" fill="#f7c5bf"/><rect x="187.93" y="344.35" width="13.4" height="0.9" fill="#4a78c8"/><rect x="187.93" y="346.15" width="13.4" height="0.9" fill="#a3bfe6"/><rect x="187.93" y="349.85" width="13.4" height="0.9" fill="#d7302a"/><rect x="187.93" y="353.9" width="13.4" height="1.6" fill="#d7302a"/><rect x="187.93" y="363.05" width="13.4" height="0.9" fill="#f7c5bf"/><rect x="187.93" y="365.85" width="13.4" height="0.9" fill="#d7302a"/><rect x="187.93" y="370.95" width="13.4" height="0.9" fill="#7f5fa8"/><rect x="187.93" y="379.45" width="13.4" height="1.3" fill="#d7302a"/><rect x="187.93" y="386.55" width="13.4" height="0.9" fill="#bd4256"/><rect x="187.93" y="388.75" width="13.4" height="0.9" fill="#4a78c8"/><rect x="187.93" y="390.65" width="13.4" height="0.9" fill="#d7302a"/><rect x="187.93" y="395.25" width="13.4" height="0.9" fill="#f8c9a8"/><rect x="187.93" y="399.2" width="13.4" height="1.2" fill="#bd4256"/><rect x="187.93" y="400.55" width="13.4" height="0.9" fill="#4a78c8"/><rect x="187.93" y="401.8" width="13.4" height="1.6" fill="#d7302a"/><rect x="187.93" y="403.8" width="13.4" height="4" fill="#d7302a"/><rect x="187.93" y="408" width="13.4" height="1.2" fill="#ee7f5e"/><rect x="187.93" y="409.35" width="13.4" height="0.9" fill="#7f5fa8"/><rect x="187.93" y="421.6" width="13.4" height="1.4" fill="#bd4256"/><rect x="187.93" y="423.1" width="13.4" height="2.4" fill="#d7302a"/><rect x="187.93" y="425.95" width="13.4" height="0.9" fill="#4a78c8"/><rect x="187.93" y="427" width="13.4" height="1.6" fill="#d7302a"/><rect x="187.93" y="428.95" width="13.4" height="0.9" fill="#7f5fa8"/><rect x="187.93" y="430" width="13.4" height="2" fill="#d7302a"/><rect x="187.93" y="432.35" width="13.4" height="0.9" fill="#4a78c8"/><rect x="187.93" y="433.5" width="13.4" height="1.4" fill="#d7302a"/><rect x="187.93" y="435.95" width="13.4" height="0.9" fill="#d7302a"/><rect x="187.93" y="438.75" width="13.4" height="0.9" fill="#a3bfe6"/><rect x="187.93" y="448" width="13.4" height="2.8" fill="#d7302a"/><rect x="187.93" y="451.95" width="13.4" height="0.9" fill="#7f5fa8"/><rect x="187.93" y="454.2" width="13.4" height="2" fill="#d7302a"/><rect x="187.93" y="456.15" width="13.4" height="0.9" fill="#4a78c8"/><rect x="187.93" y="457.1" width="13.4" height="2.2" fill="#d7302a"/><rect x="187.93" y="459.15" width="13.4" height="0.9" fill="#7f5fa8"/><rect x="187.93" y="459.9" width="13.4" height="1.2" fill="#d7302a"/><rect x="187.93" y="475.85" width="13.4" height="0.9" fill="#a3bfe6"/><rect x="187.93" y="482.85" width="13.4" height="0.9" fill="#f8c9a8"/><rect x="187.93" y="489.75" width="13.4" height="1.3" fill="#ee7f5e"/><rect x="187.93" y="492.75" width="13.4" height="0.9" fill="#4a78c8"/><rect x="187.93" y="496.65" width="13.4" height="0.9" fill="#ee7f5e"/><rect x="187.93" y="507.05" width="13.4" height="0.9" fill="#f7c5bf"/><rect x="187.93" y="518.1" width="13.4" height="1.4" fill="#d7302a"/><rect x="187.93" y="523.35" width="13.4" height="0.9" fill="#c8a070"/><rect x="187.93" y="524.55" width="13.4" height="1.5" fill="#7f5fa8"/><rect x="187.93" y="526.45" width="13.4" height="0.9" fill="#4a78c8"/><rect x="187.93" y="527.95" width="13.4" height="0.9" fill="#d7302a"/><rect x="187.93" y="528.95" width="13.4" height="0.9" fill="#ee8d83"/><rect x="187.93" y="531.2" width="13.4" height="2.2" fill="#d7302a"/><rect x="187.93" y="534.35" width="13.4" height="0.9" fill="#ee8d83"/><rect x="187.93" y="536.7" width="13.4" height="1.8" fill="#f7c5bf"/><rect x="187.93" y="538.95" width="13.4" height="0.9" fill="#ee8d83"/><rect x="187.93" y="548" width="13.4" height="1.2" fill="#d7302a"/><rect x="187.93" y="557.85" width="13.4" height="0.9" fill="#4a78c8"/><rect x="187.93" y="560.65" width="13.4" height="0.9" fill="#bd4256"/><rect x="187.93" y="561.55" width="13.4" height="0.9" fill="#4a78c8"/><rect x="187.93" y="578.7" width="13.4" height="1.2" fill="#d7302a"/><rect x="187.93" y="584.05" width="13.4" height="0.9" fill="#a3bfe6"/><rect x="187.93" y="588.95" width="13.4" height="0.9" fill="#4a78c8"/><rect x="187.93" y="591.75" width="13.4" height="0.9" fill="#7f5fa8"/><rect x="187.93" y="593.75" width="13.4" height="0.9" fill="#d7302a"/><rect x="187.93" y="598.55" width="13.4" height="1.3" fill="#7f5fa8"/><rect x="187.93" y="603.7" width="13.4" height="1.2" fill="#d7302a"/><rect x="187.93" y="616.15" width="13.4" height="0.9" fill="#ee8d83"/><rect x="187.93" y="618.05" width="13.4" height="0.9" fill="#4a78c8"/><rect x="187.93" y="620.25" width="13.4" height="0.9" fill="#a3bfe6"/><rect x="187.93" y="631.95" width="13.4" height="0.9" fill="#a3bfe6"/><rect x="187.93" y="636.75" width="13.4" height="0.9" fill="#4a78c8"/><rect x="187.93" y="641.15" width="13.4" height="0.9" fill="#d7302a"/><rect x="187.93" y="642.25" width="13.4" height="0.9" fill="#7f5fa8"/><rect x="187.93" y="644" width="13.4" height="1.6" fill="#d7302a"/><rect x="187.93" y="645.85" width="13.4" height="0.9" fill="#bd4256"/><rect x="187.93" y="646.7" width="13.4" height="1.8" fill="#d7302a"/><rect x="187.93" y="648.75" width="13.4" height="0.9" fill="#ee8d83"/><rect x="187.93" y="660.95" width="13.4" height="0.9" fill="#f8c9a8"/><rect x="187.93" y="662.4" width="13.4" height="2" fill="#d7302a"/><rect x="187.93" y="665.95" width="13.4" height="0.9" fill="#a3bfe6"/><rect x="187.93" y="670.15" width="13.4" height="0.9" fill="#d7302a"/><rect x="187.93" y="671.8" width="13.4" height="1.4" fill="#4a78c8"/><rect x="187.93" y="673.5" width="13.4" height="1.6" fill="#d7302a"/><rect x="187.93" y="683.95" width="13.4" height="0.9" fill="#a3bfe6"/><rect x="187.93" y="687.25" width="13.4" height="0.9" fill="#d7302a"/></g>
<path d="M187.73 411.4L194.63 416.2L187.73 420.8Z M201.53 411.4L194.63 416.2L201.53 420.8Z" fill="#fff"/>
<path d="M188.73 250.1V411.4L200.53 420.8V683.3A5.9 5.9 0 0 1 188.73 683.3V420.8L200.53 411.4V250.1A5.9 5.9 0 0 0 188.73 250.1" fill="none" stroke="#868686" stroke-width="1.6" stroke-linejoin="round"/>
<rect x="202.98" y="243.7" width="0.6" height="445.3" fill="#d0d0d0"/>
<rect x="203.08" y="244.5" width="12" height="3" fill="#444444"/>
<rect x="203.08" y="248.95" width="12" height="0.9" fill="#8c8c8c"/>
<rect x="203.08" y="254.85" width="12" height="0.9" fill="#c4c4c4"/>
<rect x="203.08" y="258" width="12" height="1.2" fill="#000000"/>
<rect x="203.08" y="259.9" width="12" height="1.2" fill="#000000"/>
<rect x="203.08" y="263" width="12" height="1.2" fill="#000000"/>
<rect x="203.08" y="278.45" width="12" height="0.9" fill="#e6e6e6"/>
<rect x="203.08" y="300.95" width="12" height="0.9" fill="#c4c4c4"/>
<rect x="203.08" y="306.2" width="12" height="1.6" fill="#c4c4c4"/>
<rect x="203.08" y="308.85" width="12" height="0.9" fill="#e6e6e6"/>
<rect x="203.08" y="310.9" width="12" height="1.6" fill="#e6e6e6"/>
<rect x="203.08" y="313.45" width="12" height="0.9" fill="#c4c4c4"/>
<rect x="203.08" y="319.85" width="12" height="0.9" fill="#e6e6e6"/>
<rect x="203.08" y="325.65" width="12" height="1.5" fill="#8c8c8c"/>
<rect x="203.08" y="328.15" width="12" height="0.9" fill="#c4c4c4"/>
<rect x="203.08" y="334.25" width="12" height="1.5" fill="#000000"/>
<rect x="203.08" y="340.85" width="12" height="1.3" fill="#000000"/>
<rect x="203.08" y="343.55" width="12" height="1.3" fill="#444444"/>
<rect x="203.08" y="349.85" width="12" height="0.9" fill="#444444"/>
<rect x="203.08" y="353.95" width="12" height="1.5" fill="#8c8c8c"/>
<rect x="203.08" y="363.05" width="12" height="0.9" fill="#e6e6e6"/>
<rect x="203.08" y="365.85" width="12" height="0.9" fill="#444444"/>
<rect x="203.08" y="370.95" width="12" height="0.9" fill="#444444"/>
<rect x="203.08" y="379.3" width="12" height="1.6" fill="#c4c4c4"/>
<rect x="203.08" y="386.55" width="12" height="0.9" fill="#c4c4c4"/>
<rect x="203.08" y="391.15" width="12" height="0.9" fill="#c4c4c4"/>
<rect x="203.08" y="398.3" width="12" height="1" fill="#8c8c8c"/>
<rect x="203.08" y="399.9" width="12" height="5.2" fill="#000000"/>
<rect x="203.08" y="405.3" width="12" height="3" fill="#000000"/>
<rect x="203.08" y="409.65" width="12" height="0.9" fill="#444444"/>
<rect x="203.08" y="422.35" width="12" height="3.3" fill="#000000"/>
<rect x="203.08" y="426.75" width="12" height="0.9" fill="#8c8c8c"/>
<rect x="203.08" y="428" width="12" height="1" fill="#000000"/>
<rect x="203.08" y="428.95" width="12" height="0.9" fill="#8c8c8c"/>
<rect x="203.08" y="429.9" width="12" height="4" fill="#000000"/>
<rect x="203.08" y="435.95" width="12" height="0.9" fill="#c4c4c4"/>
<rect x="203.08" y="438.75" width="12" height="0.9" fill="#8c8c8c"/>
<rect x="203.08" y="448.5" width="12" height="2.2" fill="#000000"/>
<rect x="203.08" y="451.95" width="12" height="0.9" fill="#8c8c8c"/>
<rect x="203.08" y="454.2" width="12" height="3.2" fill="#000000"/>
<rect x="203.08" y="458.3" width="12" height="1" fill="#444444"/>
<rect x="203.08" y="459.8" width="12" height="1" fill="#444444"/>
<rect x="203.08" y="461.1" width="12" height="1" fill="#444444"/>
<rect x="203.08" y="482.5" width="12" height="1.6" fill="#e6e6e6"/>
<rect x="203.08" y="489.95" width="12" height="0.9" fill="#8c8c8c"/>
<rect x="203.08" y="496.95" width="12" height="0.9" fill="#444444"/>
<rect x="203.08" y="507.05" width="12" height="0.9" fill="#e6e6e6"/>
<rect x="203.08" y="518.75" width="12" height="0.9" fill="#8c8c8c"/>
<rect x="203.08" y="523.2" width="12" height="1.2" fill="#8c8c8c"/>
<rect x="203.08" y="524.5" width="12" height="1.8" fill="#000000"/>
<rect x="203.08" y="531.4" width="12" height="1.8" fill="#000000"/>
<rect x="203.08" y="533.85" width="12" height="0.9" fill="#c4c4c4"/>
<rect x="203.08" y="536.75" width="12" height="0.9" fill="#c4c4c4"/>
<rect x="203.08" y="538.95" width="12" height="0.9" fill="#c4c4c4"/>
<rect x="203.08" y="547.75" width="12" height="0.9" fill="#8c8c8c"/>
<rect x="203.08" y="559.55" width="12" height="0.9" fill="#e6e6e6"/>
<rect x="203.08" y="561.95" width="12" height="0.9" fill="#c4c4c4"/>
<rect x="203.08" y="578.1" width="12" height="1.6" fill="#e6e6e6"/>
<rect x="203.08" y="584.05" width="12" height="0.9" fill="#8c8c8c"/>
<rect x="203.08" y="591.75" width="12" height="0.9" fill="#e6e6e6"/>
<rect x="203.08" y="594.15" width="12" height="0.9" fill="#c4c4c4"/>
<rect x="203.08" y="599.05" width="12" height="0.9" fill="#c4c4c4"/>
<rect x="203.08" y="604.1" width="12" height="1.8" fill="#8c8c8c"/>
<rect x="203.08" y="615.85" width="12" height="0.9" fill="#c4c4c4"/>
<rect x="203.08" y="619.7" width="12" height="1.8" fill="#c4c4c4"/>
<rect x="203.08" y="641.15" width="12" height="0.9" fill="#8c8c8c"/>
<rect x="203.08" y="642.55" width="12" height="0.9" fill="#8c8c8c"/>
<rect x="203.08" y="645.2" width="12" height="2.4" fill="#000000"/>
<rect x="203.08" y="648.15" width="12" height="0.9" fill="#8c8c8c"/>
<rect x="203.08" y="657.85" width="12" height="0.9" fill="#c4c4c4"/>
<rect x="203.08" y="662.4" width="12" height="1.8" fill="#000000"/>
<rect x="203.08" y="667.45" width="12" height="0.9" fill="#c4c4c4"/>
<rect x="203.08" y="670.55" width="12" height="0.9" fill="#8c8c8c"/>
<rect x="203.08" y="673.5" width="12" height="1.6" fill="#000000"/>
<rect x="203.08" y="678.1" width="12" height="1.8" fill="#c4c4c4"/>
<rect x="203.08" y="684" width="12" height="1.6" fill="#8c8c8c"/>
<rect x="203.08" y="685.8" width="12" height="2.4" fill="#8c8c8c"/>
<g clip-path="url(#c8)"><rect x="219.26" y="288.55" width="13.4" height="0.9" fill="#4a78c8"/><rect x="219.26" y="289.55" width="13.4" height="0.9" fill="#7f5fa8"/><rect x="219.26" y="290.75" width="13.4" height="0.9" fill="#d7302a"/><rect x="219.26" y="296.95" width="13.4" height="0.9" fill="#bcaad3"/><rect x="219.26" y="299.15" width="13.4" height="0.9" fill="#a3bfe6"/><rect x="219.26" y="300.75" width="13.4" height="1.3" fill="#4a78c8"/><rect x="219.26" y="302.3" width="13.4" height="2.6" fill="#d7302a"/><rect x="219.26" y="308.85" width="13.4" height="0.9" fill="#4a78c8"/><rect x="219.26" y="315.65" width="13.4" height="3.7" fill="#d7302a"/><rect x="219.26" y="327.25" width="13.4" height="0.9" fill="#a3bfe6"/><rect x="219.26" y="336.95" width="13.4" height="0.9" fill="#a3bfe6"/><rect x="219.26" y="347.9" width="13.4" height="1.2" fill="#4a78c8"/><rect x="219.26" y="354" width="13.4" height="1.4" fill="#f7c5bf"/><rect x="219.26" y="362.75" width="13.4" height="0.9" fill="#d3e0f3"/><rect x="219.26" y="370.2" width="13.4" height="1.4" fill="#ee7f5e"/><rect x="219.26" y="378.35" width="13.4" height="0.9" fill="#a3bfe6"/><rect x="219.26" y="390.25" width="13.4" height="0.9" fill="#7f5fa8"/><rect x="219.26" y="393.95" width="13.4" height="0.9" fill="#a3bfe6"/><rect x="219.26" y="401.85" width="13.4" height="0.9" fill="#f7c5bf"/><rect x="219.26" y="403.55" width="13.4" height="0.9" fill="#7f5fa8"/><rect x="219.26" y="413.35" width="13.4" height="0.9" fill="#4a78c8"/><rect x="219.26" y="414.4" width="13.4" height="1.4" fill="#d7302a"/><rect x="219.26" y="424.95" width="13.4" height="0.9" fill="#a3bfe6"/><rect x="219.26" y="432.35" width="13.4" height="0.9" fill="#a3bfe6"/><rect x="219.26" y="433.55" width="13.4" height="0.9" fill="#d7302a"/><rect x="219.26" y="435.95" width="13.4" height="0.9" fill="#ee8d83"/><rect x="219.26" y="439.95" width="13.4" height="0.9" fill="#7f5fa8"/><rect x="219.26" y="442.8" width="13.4" height="1.2" fill="#d7302a"/><rect x="219.26" y="454.15" width="13.4" height="0.9" fill="#f8c9a8"/><rect x="219.26" y="456.95" width="13.4" height="0.9" fill="#ee8d83"/><rect x="219.26" y="470.85" width="13.4" height="0.9" fill="#a3bfe6"/><rect x="219.26" y="477.85" width="13.4" height="1.3" fill="#bd4256"/><rect x="219.26" y="479.15" width="13.4" height="0.9" fill="#4a78c8"/><rect x="219.26" y="483.95" width="13.4" height="1.3" fill="#4a78c8"/><rect x="219.26" y="488.75" width="13.4" height="0.9" fill="#f3edb0"/><rect x="219.26" y="492.35" width="13.4" height="0.9" fill="#a3bfe6"/><rect x="219.26" y="493.65" width="13.4" height="0.9" fill="#ee8d83"/><rect x="219.26" y="497.85" width="13.4" height="0.9" fill="#d7302a"/><rect x="219.26" y="503.2" width="13.4" height="1.4" fill="#d3e0f3"/><rect x="219.26" y="511.1" width="13.4" height="2.2" fill="#ee8d83"/><rect x="219.26" y="520.25" width="13.4" height="0.9" fill="#a3bfe6"/><rect x="219.26" y="522.3" width="13.4" height="2.2" fill="#ee7f5e"/><rect x="219.26" y="534.75" width="13.4" height="0.9" fill="#a3bfe6"/><rect x="219.26" y="551.85" width="13.4" height="0.9" fill="#d7302a"/><rect x="219.26" y="567.9" width="13.4" height="1.2" fill="#4a78c8"/><rect x="219.26" y="572.05" width="13.4" height="0.9" fill="#ee8d83"/><rect x="219.26" y="589.85" width="13.4" height="0.9" fill="#d7302a"/><rect x="219.26" y="605.05" width="13.4" height="0.9" fill="#a3bfe6"/><rect x="219.26" y="622.8" width="13.4" height="1.2" fill="#4a78c8"/><rect x="219.26" y="631.55" width="13.4" height="0.9" fill="#cfe0cf"/><rect x="219.26" y="639.2" width="13.4" height="1.2" fill="#a3bfe6"/><rect x="219.26" y="668.75" width="13.4" height="1.3" fill="#4a78c8"/><rect x="219.26" y="676.7" width="13.4" height="1.4" fill="#a3bfe6"/><rect x="219.26" y="678.45" width="13.4" height="0.9" fill="#ee8d83"/><rect x="219.26" y="682.65" width="13.4" height="0.9" fill="#d7302a"/></g>
<path d="M219.06 405.1L225.96 408.4L219.06 411.9Z M232.86 405.1L225.96 408.4L232.86 411.9Z" fill="#fff"/>
<path d="M220.06 289.8V405.1L231.86 411.9V683.3A5.9 5.9 0 0 1 220.06 683.3V411.9L231.86 405.1V289.8A5.9 5.9 0 0 0 220.06 289.8" fill="none" stroke="#868686" stroke-width="1.6" stroke-linejoin="round"/>
<rect x="234.31" y="283.4" width="0.6" height="405.6" fill="#d0d0d0"/>
<rect x="234.41" y="285.2" width="12" height="2" fill="#c4c4c4"/>
<rect x="234.41" y="287.1" width="12" height="1" fill="#8c8c8c"/>
<rect x="234.41" y="288.85" width="12" height="0.9" fill="#444444"/>
<rect x="234.41" y="291.5" width="12" height="1" fill="#000000"/>
<rect x="234.41" y="296.55" width="12" height="0.9" fill="#c4c4c4"/>
<rect x="234.41" y="302.4" width="12" height="2.8" fill="#000000"/>
<rect x="234.41" y="316.05" width="12" height="3.5" fill="#000000"/>
<rect x="234.41" y="342.1" width="12" height="1.6" fill="#c4c4c4"/>
<rect x="234.41" y="348.35" width="12" height="0.9" fill="#c4c4c4"/>
<rect x="234.41" y="354.25" width="12" height="0.9" fill="#e6e6e6"/>
<rect x="234.41" y="362.75" width="12" height="0.9" fill="#e6e6e6"/>
<rect x="234.41" y="370.45" width="12" height="0.9" fill="#e6e6e6"/>
<rect x="234.41" y="389.75" width="12" height="0.9" fill="#c4c4c4"/>
<rect x="234.41" y="401.35" width="12" height="0.9" fill="#c4c4c4"/>
<rect x="234.41" y="402.95" width="12" height="0.9" fill="#c4c4c4"/>
<rect x="234.41" y="414.85" width="12" height="0.9" fill="#8c8c8c"/>
<rect x="234.41" y="418.85" width="12" height="0.9" fill="#8c8c8c"/>
<rect x="234.41" y="421.95" width="12" height="0.9" fill="#e6e6e6"/>
<rect x="234.41" y="433.05" width="12" height="0.9" fill="#c4c4c4"/>
<rect x="234.41" y="435.95" width="12" height="0.9" fill="#c4c4c4"/>
<rect x="234.41" y="439.95" width="12" height="0.9" fill="#c4c4c4"/>
<rect x="234.41" y="442.95" width="12" height="0.9" fill="#8c8c8c"/>
<rect x="234.41" y="448.85" width="12" height="0.9" fill="#e6e6e6"/>
<rect x="234.41" y="454.15" width="12" height="0.9" fill="#c4c4c4"/>
<rect x="234.41" y="456.95" width="12" height="0.9" fill="#c4c4c4"/>
<rect x="234.41" y="470.85" width="12" height="0.9" fill="#c4c4c4"/>
<rect x="234.41" y="478.05" width="12" height="0.9" fill="#c4c4c4"/>
<rect x="234.41" y="493.35" width="12" height="0.9" fill="#e6e6e6"/>
<rect x="234.41" y="497.85" width="12" height="0.9" fill="#c4c4c4"/>
<rect x="234.41" y="511.2" width="12" height="1.8" fill="#e6e6e6"/>
<rect x="234.41" y="522.5" width="12" height="2.2" fill="#000000"/>
<rect x="234.41" y="533.85" width="12" height="0.9" fill="#8c8c8c"/>
<rect x="234.41" y="551.85" width="12" height="0.9" fill="#c4c4c4"/>
<rect x="234.41" y="568.05" width="12" height="0.9" fill="#c4c4c4"/>
<rect x="234.41" y="572.05" width="12" height="0.9" fill="#e6e6e6"/>
<rect x="234.41" y="582.15" width="12" height="0.9" fill="#c4c4c4"/>
<rect x="234.41" y="589.85" width="12" height="0.9" fill="#c4c4c4"/>
<rect x="234.41" y="629.15" width="12" height="0.9" fill="#c4c4c4"/>
<rect x="234.41" y="631.2" width="12" height="1.6" fill="#c4c4c4"/>
<rect x="234.41" y="646.85" width="12" height="0.9" fill="#c4c4c4"/>
<rect x="234.41" y="659.15" width="12" height="0.9" fill="#e6e6e6"/>
<rect x="234.41" y="669.85" width="12" height="0.9" fill="#c4c4c4"/>
<rect x="234.41" y="674.1" width="12" height="1.6" fill="#c4c4c4"/>
<rect x="234.41" y="679.35" width="12" height="0.9" fill="#8c8c8c"/>
<rect x="234.41" y="682.3" width="12" height="1.6" fill="#444444"/>
<rect x="234.41" y="685.2" width="12" height="2.8" fill="#c4c4c4"/>
<g clip-path="url(#c9)"><rect x="250.59" y="272.05" width="13.4" height="0.9" fill="#4a78c8"/><rect x="250.59" y="285.1" width="13.4" height="1.6" fill="#bd4256"/><rect x="250.59" y="290.05" width="13.4" height="0.9" fill="#a3bfe6"/><rect x="250.59" y="292.85" width="13.4" height="0.9" fill="#a3bfe6"/><rect x="250.59" y="303.85" width="13.4" height="0.9" fill="#a3bfe6"/><rect x="250.59" y="315.1" width="13.4" height="1.6" fill="#d3e0f3"/><rect x="250.59" y="329.95" width="13.4" height="0.9" fill="#4a78c8"/><rect x="250.59" y="332.35" width="13.4" height="0.9" fill="#bcaad3"/><rect x="250.59" y="340.95" width="13.4" height="0.9" fill="#4a78c8"/><rect x="250.59" y="349.25" width="13.4" height="0.9" fill="#ee8d83"/><rect x="250.59" y="355.85" width="13.4" height="0.9" fill="#a3bfe6"/><rect x="250.59" y="359.85" width="13.4" height="0.9" fill="#4a78c8"/><rect x="250.59" y="363.9" width="13.4" height="2.2" fill="#bd4256"/><rect x="250.59" y="366.85" width="13.4" height="0.9" fill="#4a78c8"/><rect x="250.59" y="368.15" width="13.4" height="0.9" fill="#d7302a"/><rect x="250.59" y="370.95" width="13.4" height="0.9" fill="#d7302a"/><rect x="250.59" y="373.25" width="13.4" height="0.9" fill="#4a78c8"/><rect x="250.59" y="374.55" width="13.4" height="0.9" fill="#4a78c8"/><rect x="250.59" y="376.15" width="13.4" height="0.9" fill="#7f5fa8"/><rect x="250.59" y="377.5" width="13.4" height="11.4" fill="#d7302a"/><rect x="250.59" y="388.95" width="13.4" height="0.5" fill="#c8a070"/><rect x="250.59" y="389.7" width="13.4" height="6.2" fill="#d7302a"/><rect x="250.59" y="403.55" width="13.4" height="0.9" fill="#d7302a"/><rect x="250.59" y="405.2" width="13.4" height="1.6" fill="#4a78c8"/><rect x="250.59" y="484.6" width="13.4" height="1.6" fill="#bcaad3"/><rect x="250.59" y="486.4" width="13.4" height="8" fill="#d7302a"/><rect x="250.59" y="495.35" width="13.4" height="0.9" fill="#bcaad3"/><rect x="250.59" y="496.9" width="13.4" height="1.2" fill="#4a78c8"/><rect x="250.59" y="516.85" width="13.4" height="0.9" fill="#ee8d83"/><rect x="250.59" y="518.75" width="13.4" height="0.9" fill="#a3bfe6"/><rect x="250.59" y="522.95" width="13.4" height="0.9" fill="#ee8d83"/><rect x="250.59" y="528.55" width="13.4" height="1.5" fill="#ee8d83"/><rect x="250.59" y="531.8" width="13.4" height="1.6" fill="#d7302a"/><rect x="250.59" y="533.95" width="13.4" height="0.9" fill="#f7c5bf"/><rect x="250.59" y="537.1" width="13.4" height="1.6" fill="#ee8d83"/><rect x="250.59" y="542.95" width="13.4" height="0.9" fill="#d7302a"/><rect x="250.59" y="548.4" width="13.4" height="1.4" fill="#7f5fa8"/><rect x="250.59" y="549.95" width="13.4" height="0.9" fill="#d7302a"/><rect x="250.59" y="554.6" width="13.4" height="1.6" fill="#bd4256"/><rect x="250.59" y="556.95" width="13.4" height="0.9" fill="#bcaad3"/><rect x="250.59" y="560.6" width="13.4" height="1.6" fill="#bcaad3"/><rect x="250.59" y="562.85" width="13.4" height="0.9" fill="#d7302a"/><rect x="250.59" y="564.65" width="13.4" height="0.9" fill="#d7302a"/><rect x="250.59" y="566.5" width="13.4" height="1.6" fill="#d7302a"/><rect x="250.59" y="569.25" width="13.4" height="0.9" fill="#d7302a"/><rect x="250.59" y="573.9" width="13.4" height="1.6" fill="#d7302a"/><rect x="250.59" y="579.95" width="13.4" height="0.9" fill="#a3bfe6"/><rect x="250.59" y="608.65" width="13.4" height="0.9" fill="#ee8d83"/><rect x="250.59" y="616.85" width="13.4" height="0.9" fill="#4a78c8"/><rect x="250.59" y="618.35" width="13.4" height="0.9" fill="#f8c9a8"/><rect x="250.59" y="621.85" width="13.4" height="0.9" fill="#bcaad3"/><rect x="250.59" y="625.75" width="13.4" height="0.9" fill="#4a78c8"/><rect x="250.59" y="628.85" width="13.4" height="0.9" fill="#a3bfe6"/><rect x="250.59" y="633.95" width="13.4" height="0.9" fill="#a3bfe6"/><rect x="250.59" y="638.95" width="13.4" height="0.9" fill="#4a78c8"/><rect x="250.59" y="645.05" width="13.4" height="0.9" fill="#d3e0f3"/><rect x="250.59" y="646.8" width="13.4" height="1.8" fill="#d3e0f3"/><rect x="250.59" y="651.65" width="13.4" height="1.3" fill="#bd4256"/><rect x="250.59" y="653.25" width="13.4" height="0.9" fill="#a3bfe6"/><rect x="250.59" y="659.75" width="13.4" height="0.9" fill="#ee8d83"/><rect x="250.59" y="669.7" width="13.4" height="1.8" fill="#a3bfe6"/><rect x="250.59" y="674" width="13.4" height="1.4" fill="#4a78c8"/><rect x="250.59" y="676.95" width="13.4" height="0.9" fill="#d7302a"/><rect x="250.59" y="680.85" width="13.4" height="0.9" fill="#d7302a"/><rect x="250.59" y="684.85" width="13.4" height="0.9" fill="#ee8d83"/><rect x="250.59" y="687" width="13.4" height="2" fill="#4a78c8"/></g>
<path d="M250.39 396.7L257.29 400.2L250.39 403.5Z M264.19 396.7L257.29 400.2L264.19 403.5Z" fill="#fff"/>
<path d="M251.39 277.3V396.7L263.19 403.5V683.3A5.9 5.9 0 0 1 251.39 683.3V403.5L263.19 396.7V277.3A5.9 5.9 0 0 0 251.39 277.3" fill="none" stroke="#868686" stroke-width="1.6" stroke-linejoin="round"/>
<rect x="265.64" y="270.9" width="0.6" height="418.1" fill="#d0d0d0"/>
<rect x="265.74" y="270.8" width="12" height="1.6" fill="#8c8c8c"/>
<rect x="265.74" y="284.9" width="12" height="1.2" fill="#8c8c8c"/>
<rect x="265.74" y="286.2" width="12" height="1.2" fill="#c4c4c4"/>
<rect x="265.74" y="290.05" width="12" height="0.9" fill="#c4c4c4"/>
<rect x="265.74" y="303.85" width="12" height="0.9" fill="#c4c4c4"/>
<rect x="265.74" y="332.85" width="12" height="0.9" fill="#c4c4c4"/>
<rect x="265.74" y="349.25" width="12" height="0.9" fill="#c4c4c4"/>
<rect x="265.74" y="355.85" width="12" height="0.9" fill="#e6e6e6"/>
<rect x="265.74" y="363.95" width="12" height="1.3" fill="#444444"/>
<rect x="265.74" y="366.35" width="12" height="0.9" fill="#8c8c8c"/>
<rect x="265.74" y="368.15" width="12" height="0.9" fill="#c4c4c4"/>
<rect x="265.74" y="370.95" width="12" height="0.9" fill="#c4c4c4"/>
<rect x="265.74" y="378.2" width="12" height="10.4" fill="#000000"/>
<rect x="265.74" y="390" width="12" height="5.2" fill="#000000"/>
<rect x="265.74" y="404" width="12" height="1.6" fill="#000000"/>
<rect x="265.74" y="484.7" width="12" height="1" fill="#8c8c8c"/>
<rect x="265.74" y="485.9" width="12" height="9" fill="#000000"/>
<rect x="265.74" y="497.05" width="12" height="0.9" fill="#e6e6e6"/>
<rect x="265.74" y="516.85" width="12" height="0.9" fill="#c4c4c4"/>
<rect x="265.74" y="522.95" width="12" height="0.9" fill="#e6e6e6"/>
<rect x="265.74" y="528.5" width="12" height="1.6" fill="#c4c4c4"/>
<rect x="265.74" y="531.95" width="12" height="0.9" fill="#444444"/>
<rect x="265.74" y="533.95" width="12" height="0.9" fill="#c4c4c4"/>
<rect x="265.74" y="537.15" width="12" height="1.5" fill="#8c8c8c"/>
<rect x="265.74" y="542.95" width="12" height="0.9" fill="#444444"/>
<rect x="265.74" y="548.5" width="12" height="2" fill="#8c8c8c"/>
<rect x="265.74" y="554.2" width="12" height="1.6" fill="#c4c4c4"/>
<rect x="265.74" y="556.95" width="12" height="0.9" fill="#e6e6e6"/>
<rect x="265.74" y="560.5" width="12" height="1" fill="#8c8c8c"/>
<rect x="265.74" y="561.9" width="12" height="1" fill="#c4c4c4"/>
<rect x="265.74" y="563.1" width="12" height="1" fill="#8c8c8c"/>
<rect x="265.74" y="566.65" width="12" height="1.3" fill="#444444"/>
<rect x="265.74" y="569.25" width="12" height="0.9" fill="#c4c4c4"/>
<rect x="265.74" y="574" width="12" height="1.4" fill="#000000"/>
<rect x="265.74" y="608.65" width="12" height="0.9" fill="#c4c4c4"/>
<rect x="265.74" y="616.85" width="12" height="0.9" fill="#c4c4c4"/>
<rect x="265.74" y="618" width="12" height="1.6" fill="#8c8c8c"/>
<rect x="265.74" y="638.95" width="12" height="0.9" fill="#c4c4c4"/>
<rect x="265.74" y="645.05" width="12" height="0.9" fill="#c4c4c4"/>
<rect x="265.74" y="646.85" width="12" height="0.9" fill="#c4c4c4"/>
<rect x="265.74" y="649.05" width="12" height="0.9" fill="#8c8c8c"/>
<rect x="265.74" y="651.8" width="12" height="1.6" fill="#8c8c8c"/>
<rect x="265.74" y="659.75" width="12" height="0.9" fill="#e6e6e6"/>
<rect x="265.74" y="674.3" width="12" height="1.8" fill="#c4c4c4"/>
<rect x="265.74" y="676.9" width="12" height="1.8" fill="#c4c4c4"/>
<rect x="265.74" y="679.5" width="12" height="1.8" fill="#c4c4c4"/>
<rect x="265.74" y="682.1" width="12" height="1" fill="#c4c4c4"/>
<rect x="265.74" y="684.4" width="12" height="1.6" fill="#8c8c8c"/>
<rect x="265.74" y="686.6" width="12" height="2" fill="#8c8c8c"/>
<g clip-path="url(#c10)"><rect x="281.92" y="328.9" width="13.4" height="1.2" fill="#d7302a"/><rect x="281.92" y="337.85" width="13.4" height="0.9" fill="#a3bfe6"/><rect x="281.92" y="349.1" width="13.4" height="1.6" fill="#4a78c8"/><rect x="281.92" y="356.6" width="13.4" height="1.2" fill="#bd4256"/><rect x="281.92" y="361.6" width="13.4" height="1.2" fill="#bd4256"/><rect x="281.92" y="363.55" width="13.4" height="0.9" fill="#4a78c8"/><rect x="281.92" y="365.95" width="13.4" height="0.9" fill="#a3bfe6"/><rect x="281.92" y="367.25" width="13.4" height="0.9" fill="#a3bfe6"/><rect x="281.92" y="374.05" width="13.4" height="0.9" fill="#d3e0f3"/><rect x="281.92" y="375.55" width="13.4" height="0.9" fill="#a3bfe6"/><rect x="281.92" y="378.55" width="13.4" height="0.9" fill="#f7c5bf"/><rect x="281.92" y="380.95" width="13.4" height="0.9" fill="#a3bfe6"/><rect x="281.92" y="383.35" width="13.4" height="0.9" fill="#d3e0f3"/><rect x="281.92" y="389.6" width="13.4" height="2" fill="#bd4256"/><rect x="281.92" y="392.95" width="13.4" height="0.9" fill="#ee8d83"/><rect x="281.92" y="396.55" width="13.4" height="0.9" fill="#d7302a"/><rect x="281.92" y="398.95" width="13.4" height="0.9" fill="#d7302a"/><rect x="281.92" y="401.25" width="13.4" height="0.9" fill="#ee8d83"/><rect x="281.92" y="403.05" width="13.4" height="0.9" fill="#ee8d83"/><rect x="281.92" y="406.75" width="13.4" height="0.9" fill="#f7c5bf"/><rect x="281.92" y="415.35" width="13.4" height="0.9" fill="#7f5fa8"/><rect x="281.92" y="417.15" width="13.4" height="0.9" fill="#a3bfe6"/><rect x="281.92" y="418.65" width="13.4" height="0.9" fill="#bd4256"/><rect x="281.92" y="420.7" width="13.4" height="1.4" fill="#4a78c8"/><rect x="281.92" y="422.35" width="13.4" height="0.9" fill="#7f5fa8"/><rect x="281.92" y="423.3" width="13.4" height="1.4" fill="#4a78c8"/><rect x="281.92" y="432.2" width="13.4" height="1.8" fill="#4a78c8"/><rect x="281.92" y="435.25" width="13.4" height="0.9" fill="#d7302a"/><rect x="281.92" y="437.95" width="13.4" height="0.9" fill="#a3bfe6"/><rect x="281.92" y="439.85" width="13.4" height="0.9" fill="#f7c5bf"/><rect x="281.92" y="442.55" width="13.4" height="0.9" fill="#7f5fa8"/><rect x="281.92" y="444.3" width="13.4" height="1.4" fill="#bd4256"/><rect x="281.92" y="445.8" width="13.4" height="1.2" fill="#d7302a"/><rect x="281.92" y="447.15" width="13.4" height="0.9" fill="#d7302a"/><rect x="281.92" y="449.3" width="13.4" height="2.2" fill="#d7302a"/><rect x="281.92" y="452.65" width="13.4" height="0.9" fill="#f7c5bf"/><rect x="281.92" y="454.85" width="13.4" height="0.9" fill="#ee7f5e"/><rect x="281.92" y="456.75" width="13.4" height="0.9" fill="#4a78c8"/><rect x="281.92" y="457.85" width="13.4" height="0.9" fill="#d7302a"/><rect x="281.92" y="464.05" width="13.4" height="0.9" fill="#a3bfe6"/><rect x="281.92" y="468" width="13.4" height="1.6" fill="#bd4256"/><rect x="281.92" y="471.65" width="13.4" height="0.9" fill="#bd4256"/><rect x="281.92" y="473.85" width="13.4" height="0.9" fill="#d7302a"/><rect x="281.92" y="492.95" width="13.4" height="0.9" fill="#ee8d83"/><rect x="281.92" y="507.9" width="13.4" height="1.6" fill="#d3e0f3"/><rect x="281.92" y="518.15" width="13.4" height="0.9" fill="#4a78c8"/><rect x="281.92" y="520.05" width="13.4" height="0.9" fill="#d7302a"/><rect x="281.92" y="521.85" width="13.4" height="0.9" fill="#d7302a"/><rect x="281.92" y="538.2" width="13.4" height="2.4" fill="#bd4256"/><rect x="281.92" y="546.85" width="13.4" height="0.9" fill="#a3bfe6"/><rect x="281.92" y="559.1" width="13.4" height="1.8" fill="#d7302a"/><rect x="281.92" y="580.45" width="13.4" height="1.3" fill="#bd4256"/><rect x="281.92" y="583.5" width="13.4" height="1.8" fill="#f7c5bf"/><rect x="281.92" y="594.05" width="13.4" height="0.9" fill="#7f5fa8"/><rect x="281.92" y="595.05" width="13.4" height="0.9" fill="#d7302a"/><rect x="281.92" y="604.95" width="13.4" height="0.9" fill="#a3bfe6"/><rect x="281.92" y="610.85" width="13.4" height="0.9" fill="#ee8d83"/><rect x="281.92" y="617.25" width="13.4" height="0.9" fill="#d3e0f3"/><rect x="281.92" y="625.75" width="13.4" height="0.9" fill="#ee8d83"/><rect x="281.92" y="649.95" width="13.4" height="0.9" fill="#a3bfe6"/><rect x="281.92" y="652.45" width="13.4" height="1.5" fill="#4a78c8"/><rect x="281.92" y="657.35" width="13.4" height="0.9" fill="#f8c9a8"/><rect x="281.92" y="663.75" width="13.4" height="0.9" fill="#cfe0cf"/><rect x="281.92" y="666.7" width="13.4" height="1.2" fill="#bd4256"/><rect x="281.92" y="669.65" width="13.4" height="0.9" fill="#4a78c8"/><rect x="281.92" y="673.85" width="13.4" height="0.9" fill="#4a78c8"/><rect x="281.92" y="679.05" width="13.4" height="1.5" fill="#4a78c8"/><rect x="281.92" y="685.25" width="13.4" height="0.9" fill="#4a78c8"/><rect x="281.92" y="687.25" width="13.4" height="0.9" fill="#4a78c8"/></g>
<path d="M281.72 425L288.62 428.3L281.72 431.6Z M295.52 425L288.62 428.3L295.52 431.6Z" fill="#fff"/>
<path d="M282.72 321.9V425L294.52 431.6V683.3A5.9 5.9 0 0 1 282.72 683.3V431.6L294.52 425V321.9A5.9 5.9 0 0 0 282.72 321.9" fill="none" stroke="#868686" stroke-width="1.6" stroke-linejoin="round"/>
<rect x="296.97" y="315.5" width="0.6" height="373.5" fill="#d0d0d0"/>
<rect x="297.07" y="315.6" width="12" height="2" fill="#444444"/>
<rect x="297.07" y="318.95" width="12" height="0.9" fill="#444444"/>
<rect x="297.07" y="321.65" width="12" height="0.9" fill="#8c8c8c"/>
<rect x="297.07" y="323.65" width="12" height="0.9" fill="#c4c4c4"/>
<rect x="297.07" y="328.85" width="12" height="1.3" fill="#444444"/>
<rect x="297.07" y="337.85" width="12" height="0.9" fill="#e6e6e6"/>
<rect x="297.07" y="350.15" width="12" height="0.9" fill="#e6e6e6"/>
<rect x="297.07" y="356.75" width="12" height="0.9" fill="#8c8c8c"/>
<rect x="297.07" y="361.95" width="12" height="1.3" fill="#444444"/>
<rect x="297.07" y="378.55" width="12" height="0.9" fill="#e6e6e6"/>
<rect x="297.07" y="389.5" width="12" height="1" fill="#444444"/>
<rect x="297.07" y="390.9" width="12" height="1" fill="#8c8c8c"/>
<rect x="297.07" y="392" width="12" height="0.8" fill="#444444"/>
<rect x="297.07" y="396.8" width="12" height="1.2" fill="#444444"/>
<rect x="297.07" y="399.95" width="12" height="0.9" fill="#8c8c8c"/>
<rect x="297.07" y="403.05" width="12" height="0.9" fill="#c4c4c4"/>
<rect x="297.07" y="414.95" width="12" height="0.9" fill="#8c8c8c"/>
<rect x="297.07" y="418.3" width="12" height="1" fill="#c4c4c4"/>
<rect x="297.07" y="419.5" width="12" height="1" fill="#8c8c8c"/>
<rect x="297.07" y="420.7" width="12" height="1" fill="#444444"/>
<rect x="297.07" y="421.8" width="12" height="1.6" fill="#000000"/>
<rect x="297.07" y="434.6" width="12" height="2.2" fill="#000000"/>
<rect x="297.07" y="443.9" width="12" height="1.4" fill="#000000"/>
<rect x="297.07" y="445.8" width="12" height="0.8" fill="#444444"/>
<rect x="297.07" y="446.8" width="12" height="1.6" fill="#000000"/>
<rect x="297.07" y="448.6" width="12" height="2" fill="#000000"/>
<rect x="297.07" y="450.6" width="12" height="0.8" fill="#444444"/>
<rect x="297.07" y="455.15" width="12" height="1.5" fill="#000000"/>
<rect x="297.07" y="457.55" width="12" height="0.9" fill="#444444"/>
<rect x="297.07" y="467.4" width="12" height="2" fill="#c4c4c4"/>
<rect x="297.07" y="471.8" width="12" height="1.2" fill="#444444"/>
<rect x="297.07" y="474.15" width="12" height="0.9" fill="#8c8c8c"/>
<rect x="297.07" y="492.2" width="12" height="1.6" fill="#e6e6e6"/>
<rect x="297.07" y="520.05" width="12" height="0.9" fill="#c4c4c4"/>
<rect x="297.07" y="521.7" width="12" height="1.2" fill="#444444"/>
<rect x="297.07" y="538.2" width="12" height="2.4" fill="#444444"/>
<rect x="297.07" y="559.1" width="12" height="1.8" fill="#000000"/>
<rect x="297.07" y="580.35" width="12" height="1.5" fill="#8c8c8c"/>
<rect x="297.07" y="584.2" width="12" height="1.6" fill="#c4c4c4"/>
<rect x="297.07" y="595.05" width="12" height="0.9" fill="#8c8c8c"/>
<rect x="297.07" y="610.55" width="12" height="0.9" fill="#e6e6e6"/>
<rect x="297.07" y="625.75" width="12" height="0.9" fill="#c4c4c4"/>
<rect x="297.07" y="657.85" width="12" height="0.9" fill="#c4c4c4"/>
<rect x="297.07" y="662.5" width="12" height="1.6" fill="#c4c4c4"/>
<rect x="297.07" y="666.85" width="12" height="0.9" fill="#8c8c8c"/>
<rect x="297.07" y="683.4" width="12" height="1.2" fill="#8c8c8c"/>
<rect x="297.07" y="685.1" width="12" height="1" fill="#444444"/>
<rect x="297.07" y="686.4" width="12" height="1.2" fill="#8c8c8c"/>
<rect x="297.07" y="687.9" width="12" height="1" fill="#8c8c8c"/>
<g clip-path="url(#c11)"><rect x="313.25" y="315.1" width="13.4" height="3" fill="#4a78c8"/><rect x="313.25" y="318.15" width="13.4" height="0.9" fill="#ee8d83"/><rect x="313.25" y="323.15" width="13.4" height="0.9" fill="#d7302a"/><rect x="313.25" y="324.25" width="13.4" height="1.5" fill="#bd4256"/><rect x="313.25" y="326.25" width="13.4" height="0.9" fill="#d7302a"/><rect x="313.25" y="328.05" width="13.4" height="0.9" fill="#c8a070"/><rect x="313.25" y="329.55" width="13.4" height="0.9" fill="#d7302a"/><rect x="313.25" y="330.85" width="13.4" height="0.9" fill="#4a78c8"/><rect x="313.25" y="340.05" width="13.4" height="0.9" fill="#d7302a"/><rect x="313.25" y="353.45" width="13.4" height="0.9" fill="#d3e0f3"/><rect x="313.25" y="361.35" width="13.4" height="0.9" fill="#f7c5bf"/><rect x="313.25" y="363.05" width="13.4" height="0.9" fill="#a3bfe6"/><rect x="313.25" y="364.85" width="13.4" height="1.3" fill="#d7302a"/><rect x="313.25" y="366.85" width="13.4" height="0.9" fill="#f3edb0"/><rect x="313.25" y="387.95" width="13.4" height="0.9" fill="#a3bfe6"/><rect x="313.25" y="411.85" width="13.4" height="0.9" fill="#a3bfe6"/><rect x="313.25" y="429" width="13.4" height="1.6" fill="#4a78c8"/><rect x="313.25" y="433.95" width="13.4" height="0.9" fill="#a3bfe6"/><rect x="313.25" y="441.05" width="13.4" height="0.9" fill="#a3bfe6"/><rect x="313.25" y="449.3" width="13.4" height="3.8" fill="#d7302a"/><rect x="313.25" y="453.95" width="13.4" height="0.9" fill="#a3bfe6"/><rect x="313.25" y="465.9" width="13.4" height="2" fill="#ee8d83"/><rect x="313.25" y="468.35" width="13.4" height="0.9" fill="#f3edb0"/><rect x="313.25" y="470.15" width="13.4" height="0.9" fill="#d7302a"/><rect x="313.25" y="471.95" width="13.4" height="0.9" fill="#f7c5bf"/><rect x="313.25" y="475.05" width="13.4" height="0.9" fill="#d7302a"/><rect x="313.25" y="476.15" width="13.4" height="0.9" fill="#4a78c8"/><rect x="313.25" y="478.45" width="13.4" height="0.9" fill="#ee8d83"/><rect x="313.25" y="480.25" width="13.4" height="0.9" fill="#f3edb0"/><rect x="313.25" y="481.75" width="13.4" height="0.9" fill="#d7302a"/><rect x="313.25" y="484" width="13.4" height="1.4" fill="#4a78c8"/><rect x="313.25" y="486.35" width="13.4" height="0.9" fill="#d7302a"/><rect x="313.25" y="488.15" width="13.4" height="0.9" fill="#f7c5bf"/><rect x="313.25" y="493.95" width="13.4" height="0.9" fill="#a3bfe6"/><rect x="313.25" y="495.8" width="13.4" height="1.6" fill="#a3bfe6"/><rect x="313.25" y="501.85" width="13.4" height="1.5" fill="#d7302a"/><rect x="313.25" y="508.95" width="13.4" height="0.9" fill="#d3e0f3"/><rect x="313.25" y="512.5" width="13.4" height="1.6" fill="#d7302a"/><rect x="313.25" y="520.05" width="13.4" height="0.9" fill="#d7302a"/><rect x="313.25" y="538.95" width="13.4" height="0.9" fill="#4a78c8"/><rect x="313.25" y="546.85" width="13.4" height="0.9" fill="#a3bfe6"/><rect x="313.25" y="554.95" width="13.4" height="0.9" fill="#d7302a"/><rect x="313.25" y="560.15" width="13.4" height="3.7" fill="#d7302a"/><rect x="313.25" y="564.15" width="13.4" height="0.9" fill="#4a78c8"/><rect x="313.25" y="572.95" width="13.4" height="0.9" fill="#4a78c8"/><rect x="313.25" y="577.15" width="13.4" height="0.9" fill="#bcaad3"/><rect x="313.25" y="581.1" width="13.4" height="1.8" fill="#d3e0f3"/><rect x="313.25" y="590.75" width="13.4" height="0.9" fill="#cfe0cf"/><rect x="313.25" y="605.1" width="13.4" height="1.6" fill="#ee8d83"/><rect x="313.25" y="612.2" width="13.4" height="1.8" fill="#4a78c8"/><rect x="313.25" y="619.8" width="13.4" height="1.6" fill="#ee8d83"/><rect x="313.25" y="622.35" width="13.4" height="0.9" fill="#f7c5bf"/><rect x="313.25" y="624.8" width="13.4" height="1.6" fill="#bd4256"/><rect x="313.25" y="626.65" width="13.4" height="0.9" fill="#ee8d83"/><rect x="313.25" y="628.85" width="13.4" height="0.9" fill="#f7c5bf"/><rect x="313.25" y="638.9" width="13.4" height="1.4" fill="#d7302a"/><rect x="313.25" y="658.55" width="13.4" height="1.3" fill="#d7302a"/><rect x="313.25" y="664.45" width="13.4" height="1.3" fill="#4a78c8"/><rect x="313.25" y="672.9" width="13.4" height="1.8" fill="#d3e0f3"/><rect x="313.25" y="679.8" width="13.4" height="1.8" fill="#d3e0f3"/><rect x="313.25" y="688.05" width="13.4" height="0.9" fill="#4a78c8"/></g>
<path d="M313.05 455.5L319.95 460.1L313.05 465Z M326.85 455.5L319.95 460.1L326.85 465Z" fill="#fff"/>
<path d="M314.05 320.9V455.5L325.85 465V683.3A5.9 5.9 0 0 1 314.05 683.3V465L325.85 455.5V320.9A5.9 5.9 0 0 0 314.05 320.9" fill="none" stroke="#868686" stroke-width="1.6" stroke-linejoin="round"/>
<rect x="328.3" y="314.5" width="0.6" height="374.5" fill="#d0d0d0"/>
<rect x="328.4" y="315.25" width="12" height="4.1" fill="#8c8c8c"/>
<rect x="328.4" y="320.75" width="12" height="0.9" fill="#c4c4c4"/>
<rect x="328.4" y="323.85" width="12" height="1.3" fill="#444444"/>
<rect x="328.4" y="326.1" width="12" height="1.2" fill="#444444"/>
<rect x="328.4" y="328.8" width="12" height="1.6" fill="#c4c4c4"/>
<rect x="328.4" y="339.7" width="12" height="1.6" fill="#c4c4c4"/>
<rect x="328.4" y="362.25" width="12" height="0.9" fill="#e6e6e6"/>
<rect x="328.4" y="364.85" width="12" height="0.9" fill="#444444"/>
<rect x="328.4" y="366.85" width="12" height="0.9" fill="#444444"/>
<rect x="328.4" y="414.55" width="12" height="0.9" fill="#e6e6e6"/>
<rect x="328.4" y="429.65" width="12" height="0.9" fill="#c4c4c4"/>
<rect x="328.4" y="433.95" width="12" height="0.9" fill="#e6e6e6"/>
<rect x="328.4" y="443.9" width="12" height="2" fill="#c4c4c4"/>
<rect x="328.4" y="449.35" width="12" height="4.3" fill="#000000"/>
<rect x="328.4" y="465.4" width="12" height="3.4" fill="#8c8c8c"/>
<rect x="328.4" y="470.4" width="12" height="1.2" fill="#000000"/>
<rect x="328.4" y="473.85" width="12" height="0.9" fill="#c4c4c4"/>
<rect x="328.4" y="477.7" width="12" height="1.2" fill="#444444"/>
<rect x="328.4" y="480.85" width="12" height="0.9" fill="#444444"/>
<rect x="328.4" y="484.25" width="12" height="0.9" fill="#444444"/>
<rect x="328.4" y="486.65" width="12" height="0.9" fill="#8c8c8c"/>
<rect x="328.4" y="487.05" width="12" height="0.9" fill="#8c8c8c"/>
<rect x="328.4" y="497.05" width="12" height="0.9" fill="#c4c4c4"/>
<rect x="328.4" y="501.85" width="12" height="1.5" fill="#000000"/>
<rect x="328.4" y="505.55" width="12" height="0.9" fill="#e6e6e6"/>
<rect x="328.4" y="508.95" width="12" height="0.9" fill="#c4c4c4"/>
<rect x="328.4" y="510.95" width="12" height="0.9" fill="#c4c4c4"/>
<rect x="328.4" y="512.5" width="12" height="1.6" fill="#000000"/>
<rect x="328.4" y="520.05" width="12" height="0.9" fill="#c4c4c4"/>
<rect x="328.4" y="552.75" width="12" height="0.9" fill="#c4c4c4"/>
<rect x="328.4" y="560.45" width="12" height="3.7" fill="#000000"/>
<rect x="328.4" y="577.55" width="12" height="0.9" fill="#e6e6e6"/>
<rect x="328.4" y="590.75" width="12" height="0.9" fill="#c4c4c4"/>
<rect x="328.4" y="598.1" width="12" height="1.8" fill="#c4c4c4"/>
<rect x="328.4" y="605.45" width="12" height="0.9" fill="#c4c4c4"/>
<rect x="328.4" y="619.8" width="12" height="1.6" fill="#e6e6e6"/>
<rect x="328.4" y="622.35" width="12" height="0.9" fill="#e6e6e6"/>
<rect x="328.4" y="624.8" width="12" height="1.6" fill="#8c8c8c"/>
<rect x="328.4" y="629.15" width="12" height="0.9" fill="#c4c4c4"/>
<rect x="328.4" y="634.9" width="12" height="1.6" fill="#e6e6e6"/>
<rect x="328.4" y="639.15" width="12" height="0.9" fill="#444444"/>
<rect x="328.4" y="642.55" width="12" height="0.9" fill="#c4c4c4"/>
<rect x="328.4" y="647.75" width="12" height="0.9" fill="#c4c4c4"/>
<rect x="328.4" y="650.2" width="12" height="1.6" fill="#c4c4c4"/>
<rect x="328.4" y="658.75" width="12" height="0.9" fill="#8c8c8c"/>
<rect x="328.4" y="681.25" width="12" height="0.9" fill="#c4c4c4"/>
<rect x="328.4" y="686.1" width="12" height="1" fill="#c4c4c4"/>
<rect x="328.4" y="687.7" width="12" height="1" fill="#c4c4c4"/>
<g clip-path="url(#c12)"><rect x="344.58" y="326.4" width="13.4" height="1.8" fill="#4a78c8"/><rect x="344.58" y="328.65" width="13.4" height="0.9" fill="#a3bfe6"/><rect x="344.58" y="335.55" width="13.4" height="0.9" fill="#d3e0f3"/><rect x="344.58" y="337.05" width="13.4" height="0.9" fill="#d3e0f3"/><rect x="344.58" y="338.75" width="13.4" height="0.9" fill="#ee8d83"/><rect x="344.58" y="341" width="13.4" height="2.8" fill="#4a78c8"/><rect x="344.58" y="344.2" width="13.4" height="1.6" fill="#bd4256"/><rect x="344.58" y="346.65" width="13.4" height="0.9" fill="#f7c5bf"/><rect x="344.58" y="350.2" width="13.4" height="2.2" fill="#bd4256"/><rect x="344.58" y="358.95" width="13.4" height="0.9" fill="#d7302a"/><rect x="344.58" y="366" width="13.4" height="1.6" fill="#bd4256"/><rect x="344.58" y="370.95" width="13.4" height="0.9" fill="#bcaad3"/><rect x="344.58" y="372.75" width="13.4" height="0.9" fill="#a3bfe6"/><rect x="344.58" y="390.75" width="13.4" height="0.9" fill="#f7c5bf"/><rect x="344.58" y="393" width="13.4" height="1.6" fill="#f7c5bf"/><rect x="344.58" y="403.05" width="13.4" height="0.9" fill="#4a78c8"/><rect x="344.58" y="404.85" width="13.4" height="0.9" fill="#bd4256"/><rect x="344.58" y="406.15" width="13.4" height="0.9" fill="#a3bfe6"/><rect x="344.58" y="408.8" width="13.4" height="1.6" fill="#f7c5bf"/><rect x="344.58" y="410.95" width="13.4" height="0.9" fill="#f7c5bf"/><rect x="344.58" y="412.95" width="13.4" height="1.3" fill="#d7302a"/><rect x="344.58" y="414.25" width="13.4" height="0.9" fill="#f3edb0"/><rect x="344.58" y="422.75" width="13.4" height="0.9" fill="#4a78c8"/><rect x="344.58" y="423.8" width="13.4" height="1.6" fill="#d7302a"/><rect x="344.58" y="425.65" width="13.4" height="0.9" fill="#f7c5bf"/><rect x="344.58" y="436.15" width="13.4" height="0.9" fill="#4a78c8"/><rect x="344.58" y="439.85" width="13.4" height="0.9" fill="#a3bfe6"/><rect x="344.58" y="444.05" width="13.4" height="0.9" fill="#ee8d83"/><rect x="344.58" y="450.25" width="13.4" height="0.9" fill="#cfe0cf"/><rect x="344.58" y="455.95" width="13.4" height="0.9" fill="#f7c5bf"/><rect x="344.58" y="458.15" width="13.4" height="0.9" fill="#f7c5bf"/><rect x="344.58" y="463.85" width="13.4" height="1.3" fill="#bd4256"/><rect x="344.58" y="476.35" width="13.4" height="1.3" fill="#d7302a"/><rect x="344.58" y="479.65" width="13.4" height="0.9" fill="#ee8d83"/><rect x="344.58" y="494.85" width="13.4" height="0.9" fill="#7f5fa8"/><rect x="344.58" y="495.75" width="13.4" height="0.9" fill="#d7302a"/><rect x="344.58" y="500.6" width="13.4" height="1.4" fill="#d7302a"/><rect x="344.58" y="508.95" width="13.4" height="0.9" fill="#ee8d83"/><rect x="344.58" y="512.8" width="13.4" height="1.8" fill="#d3e0f3"/><rect x="344.58" y="515.95" width="13.4" height="0.9" fill="#4a78c8"/><rect x="344.58" y="529.95" width="13.4" height="1.3" fill="#7f5fa8"/><rect x="344.58" y="538.35" width="13.4" height="0.9" fill="#a3bfe6"/><rect x="344.58" y="540.45" width="13.4" height="0.9" fill="#a3bfe6"/><rect x="344.58" y="542.65" width="13.4" height="0.9" fill="#a3bfe6"/><rect x="344.58" y="570.15" width="13.4" height="0.9" fill="#4a78c8"/><rect x="344.58" y="574.1" width="13.4" height="1.6" fill="#f7c5bf"/><rect x="344.58" y="576.65" width="13.4" height="0.9" fill="#ee8d83"/><rect x="344.58" y="577.95" width="13.4" height="0.9" fill="#d7302a"/><rect x="344.58" y="579.35" width="13.4" height="0.9" fill="#4a78c8"/><rect x="344.58" y="583.6" width="13.4" height="1.6" fill="#ee8d83"/><rect x="344.58" y="590.6" width="13.4" height="1.2" fill="#4a78c8"/><rect x="344.58" y="604.95" width="13.4" height="0.9" fill="#f8c9a8"/><rect x="344.58" y="607.65" width="13.4" height="0.9" fill="#cfe0cf"/><rect x="344.58" y="612.85" width="13.4" height="0.9" fill="#ee8d83"/><rect x="344.58" y="628.65" width="13.4" height="1.3" fill="#7f5fa8"/><rect x="344.58" y="636.55" width="13.4" height="0.9" fill="#a3bfe6"/><rect x="344.58" y="656.9" width="13.4" height="1.8" fill="#a3bfe6"/><rect x="344.58" y="659.55" width="13.4" height="0.9" fill="#f8c9a8"/><rect x="344.58" y="680.85" width="13.4" height="0.9" fill="#a3bfe6"/><rect x="344.58" y="683.2" width="13.4" height="2.4" fill="#4a78c8"/><rect x="344.58" y="685.85" width="13.4" height="0.9" fill="#f7c5bf"/><rect x="344.58" y="687.25" width="13.4" height="0.9" fill="#a3bfe6"/></g>
<path d="M344.38 415.1L351.28 418.8L344.38 422.4Z M358.18 415.1L351.28 418.8L358.18 422.4Z" fill="#fff"/>
<path d="M345.38 325.9V415.1L357.18 422.4V683.3A5.9 5.9 0 0 1 345.38 683.3V422.4L357.18 415.1V325.9A5.9 5.9 0 0 0 345.38 325.9" fill="none" stroke="#868686" stroke-width="1.6" stroke-linejoin="round"/>
<rect x="359.63" y="319.5" width="0.6" height="369.5" fill="#d0d0d0"/>
<rect x="359.73" y="320.05" width="12" height="0.9" fill="#e6e6e6"/>
<rect x="359.73" y="323.15" width="12" height="0.9" fill="#e6e6e6"/>
<rect x="359.73" y="325.1" width="12" height="1.8" fill="#c4c4c4"/>
<rect x="359.73" y="327.75" width="12" height="0.9" fill="#e6e6e6"/>
<rect x="359.73" y="335.5" width="12" height="1.8" fill="#e6e6e6"/>
<rect x="359.73" y="341" width="12" height="2.8" fill="#c4c4c4"/>
<rect x="359.73" y="344.9" width="12" height="1.4" fill="#000000"/>
<rect x="359.73" y="349.1" width="12" height="2.2" fill="#8c8c8c"/>
<rect x="359.73" y="358.95" width="12" height="0.9" fill="#e6e6e6"/>
<rect x="359.73" y="366.75" width="12" height="0.9" fill="#c4c4c4"/>
<rect x="359.73" y="371.35" width="12" height="0.9" fill="#e6e6e6"/>
<rect x="359.73" y="390.15" width="12" height="0.9" fill="#e6e6e6"/>
<rect x="359.73" y="392.95" width="12" height="0.9" fill="#e6e6e6"/>
<rect x="359.73" y="404.7" width="12" height="1.2" fill="#444444"/>
<rect x="359.73" y="408.05" width="12" height="0.9" fill="#8c8c8c"/>
<rect x="359.73" y="409.55" width="12" height="0.9" fill="#c4c4c4"/>
<rect x="359.73" y="412.4" width="12" height="1.6" fill="#444444"/>
<rect x="359.73" y="422.75" width="12" height="0.9" fill="#c4c4c4"/>
<rect x="359.73" y="424.5" width="12" height="1.4" fill="#444444"/>
<rect x="359.73" y="444.05" width="12" height="0.9" fill="#c4c4c4"/>
<rect x="359.73" y="455.95" width="12" height="0.9" fill="#c4c4c4"/>
<rect x="359.73" y="458.15" width="12" height="0.9" fill="#c4c4c4"/>
<rect x="359.73" y="464.05" width="12" height="0.9" fill="#c4c4c4"/>
<rect x="359.73" y="476.2" width="12" height="1.6" fill="#c4c4c4"/>
<rect x="359.73" y="479.65" width="12" height="0.9" fill="#e6e6e6"/>
<rect x="359.73" y="494.7" width="12" height="1.2" fill="#8c8c8c"/>
<rect x="359.73" y="500.85" width="12" height="0.9" fill="#c4c4c4"/>
<rect x="359.73" y="508.95" width="12" height="0.9" fill="#c4c4c4"/>
<rect x="359.73" y="515.95" width="12" height="0.9" fill="#e6e6e6"/>
<rect x="359.73" y="519.8" width="12" height="1.6" fill="#c4c4c4"/>
<rect x="359.73" y="530.15" width="12" height="0.9" fill="#c4c4c4"/>
<rect x="359.73" y="574.45" width="12" height="0.9" fill="#e6e6e6"/>
<rect x="359.73" y="576.65" width="12" height="0.9" fill="#c4c4c4"/>
<rect x="359.73" y="579.05" width="12" height="0.9" fill="#c4c4c4"/>
<rect x="359.73" y="583.95" width="12" height="0.9" fill="#e6e6e6"/>
<rect x="359.73" y="604.95" width="12" height="0.9" fill="#c4c4c4"/>
<rect x="359.73" y="607.15" width="12" height="0.9" fill="#c4c4c4"/>
<rect x="359.73" y="612.85" width="12" height="0.9" fill="#e6e6e6"/>
<rect x="359.73" y="620.15" width="12" height="0.9" fill="#c4c4c4"/>
<rect x="359.73" y="628.1" width="12" height="1.6" fill="#c4c4c4"/>
<rect x="359.73" y="636.55" width="12" height="0.9" fill="#8c8c8c"/>
<rect x="359.73" y="645.75" width="12" height="0.9" fill="#8c8c8c"/>
<rect x="359.73" y="656.45" width="12" height="0.9" fill="#c4c4c4"/>
<rect x="359.73" y="659.15" width="12" height="0.9" fill="#c4c4c4"/>
<rect x="359.73" y="661.6" width="12" height="1.6" fill="#c4c4c4"/>
<rect x="359.73" y="664.65" width="12" height="0.9" fill="#c4c4c4"/>
<rect x="359.73" y="672.05" width="12" height="0.9" fill="#e6e6e6"/>
<rect x="359.73" y="674.45" width="12" height="0.9" fill="#c4c4c4"/>
<rect x="359.73" y="676.65" width="12" height="0.9" fill="#c4c4c4"/>
<rect x="359.73" y="683.55" width="12" height="3.5" fill="#8c8c8c"/>
<rect x="359.73" y="688.05" width="12" height="0.9" fill="#c4c4c4"/>
<g clip-path="url(#c13)"><rect x="375.91" y="423.05" width="13.4" height="0.9" fill="#4a78c8"/><rect x="375.91" y="424.4" width="13.4" height="1.8" fill="#bd4256"/><rect x="375.91" y="427.05" width="13.4" height="0.9" fill="#4a78c8"/><rect x="375.91" y="429.85" width="13.4" height="0.9" fill="#d7302a"/><rect x="375.91" y="431.95" width="13.4" height="0.9" fill="#ee8d83"/><rect x="375.91" y="434.75" width="13.4" height="1.3" fill="#bd4256"/><rect x="375.91" y="437.15" width="13.4" height="0.9" fill="#ee8d83"/><rect x="375.91" y="439" width="13.4" height="2" fill="#d7302a"/><rect x="375.91" y="441.75" width="13.4" height="0.9" fill="#a3bfe6"/><rect x="375.91" y="443.95" width="13.4" height="0.9" fill="#bd4256"/><rect x="375.91" y="446.35" width="13.4" height="0.9" fill="#ee8d83"/><rect x="375.91" y="447.65" width="13.4" height="0.9" fill="#4a78c8"/><rect x="375.91" y="450.35" width="13.4" height="1.3" fill="#bd4256"/><rect x="375.91" y="452.25" width="13.4" height="0.9" fill="#f3edb0"/><rect x="375.91" y="470.85" width="13.4" height="0.9" fill="#a3bfe6"/><rect x="375.91" y="473.95" width="13.4" height="0.9" fill="#ee8d83"/><rect x="375.91" y="479.75" width="13.4" height="0.9" fill="#a3bfe6"/><rect x="375.91" y="481.55" width="13.4" height="0.9" fill="#a3bfe6"/><rect x="375.91" y="484.9" width="13.4" height="2.4" fill="#d7302a"/><rect x="375.91" y="488.15" width="13.4" height="0.9" fill="#f7c5bf"/><rect x="375.91" y="489.55" width="13.4" height="0.9" fill="#f7c5bf"/><rect x="375.91" y="490.95" width="13.4" height="0.9" fill="#4a78c8"/><rect x="375.91" y="499.95" width="13.4" height="0.9" fill="#f7c5bf"/><rect x="375.91" y="501.85" width="13.4" height="0.9" fill="#4a78c8"/><rect x="375.91" y="510.05" width="13.4" height="0.9" fill="#ee8d83"/><rect x="375.91" y="516" width="13.4" height="2" fill="#d7302a"/><rect x="375.91" y="529.95" width="13.4" height="0.9" fill="#7f5fa8"/><rect x="375.91" y="533.95" width="13.4" height="0.9" fill="#d7302a"/><rect x="375.91" y="544.3" width="13.4" height="1.6" fill="#d3e0f3"/><rect x="375.91" y="546.7" width="13.4" height="1.6" fill="#ee8d83"/><rect x="375.91" y="548.65" width="13.4" height="0.9" fill="#4a78c8"/><rect x="375.91" y="552.55" width="13.4" height="0.9" fill="#a3bfe6"/><rect x="375.91" y="556.2" width="13.4" height="1.6" fill="#a3bfe6"/><rect x="375.91" y="558.2" width="13.4" height="1.4" fill="#7f5fa8"/><rect x="375.91" y="559.85" width="13.4" height="0.9" fill="#bcaad3"/><rect x="375.91" y="563.05" width="13.4" height="0.9" fill="#ee8d83"/><rect x="375.91" y="581.05" width="13.4" height="0.9" fill="#d3e0f3"/><rect x="375.91" y="602.15" width="13.4" height="0.9" fill="#4a78c8"/><rect x="375.91" y="608.05" width="13.4" height="0.9" fill="#4a78c8"/><rect x="375.91" y="635.85" width="13.4" height="0.9" fill="#4a78c8"/><rect x="375.91" y="657.35" width="13.4" height="0.9" fill="#f3edb0"/><rect x="375.91" y="679.35" width="13.4" height="0.9" fill="#bcaad3"/><rect x="375.91" y="683.05" width="13.4" height="0.9" fill="#ee8d83"/><rect x="375.91" y="685.4" width="13.4" height="1.8" fill="#a3bfe6"/><rect x="375.91" y="372.8" width="13.4" height="44.8" fill="#828282"/></g>
<path d="M375.71 417.4L382.61 419.9L375.71 422.4Z M389.51 417.4L382.61 419.9L389.51 422.4Z" fill="#fff"/>
<path d="M376.71 380.5V417.4L388.51 422.4V683.3A5.9 5.9 0 0 1 376.71 683.3V422.4L388.51 417.4V380.5A5.9 5.9 0 0 0 376.71 380.5" fill="none" stroke="#868686" stroke-width="1.6" stroke-linejoin="round"/>
<rect x="390.96" y="374.1" width="0.6" height="314.9" fill="#d0d0d0"/>
<rect x="391.06" y="424" width="12" height="2.8" fill="#444444"/>
<rect x="391.06" y="430.5" width="12" height="1.4" fill="#444444"/>
<rect x="391.06" y="434.95" width="12" height="0.9" fill="#c4c4c4"/>
<rect x="391.06" y="438.4" width="12" height="3" fill="#444444"/>
<rect x="391.06" y="444.85" width="12" height="0.9" fill="#e6e6e6"/>
<rect x="391.06" y="450.35" width="12" height="0.9" fill="#c4c4c4"/>
<rect x="391.06" y="452.45" width="12" height="1.5" fill="#8c8c8c"/>
<rect x="391.06" y="473.95" width="12" height="0.9" fill="#c4c4c4"/>
<rect x="391.06" y="479.75" width="12" height="0.9" fill="#c4c4c4"/>
<rect x="391.06" y="484.8" width="12" height="1.8" fill="#444444"/>
<rect x="391.06" y="489.2" width="12" height="1.6" fill="#c4c4c4"/>
<rect x="391.06" y="500.85" width="12" height="0.9" fill="#c4c4c4"/>
<rect x="391.06" y="510.05" width="12" height="0.9" fill="#c4c4c4"/>
<rect x="391.06" y="516.6" width="12" height="1.8" fill="#444444"/>
<rect x="391.06" y="529.95" width="12" height="0.9" fill="#c4c4c4"/>
<rect x="391.06" y="533.95" width="12" height="0.9" fill="#c4c4c4"/>
<rect x="391.06" y="546.7" width="12" height="1.6" fill="#c4c4c4"/>
<rect x="391.06" y="548.85" width="12" height="0.9" fill="#8c8c8c"/>
<rect x="391.06" y="557.85" width="12" height="0.9" fill="#c4c4c4"/>
<rect x="391.06" y="559.85" width="12" height="0.9" fill="#c4c4c4"/>
<rect x="391.06" y="563.05" width="12" height="0.9" fill="#c4c4c4"/>
<rect x="391.06" y="657.85" width="12" height="0.9" fill="#c4c4c4"/>
<rect x="391.06" y="676.25" width="12" height="0.9" fill="#c4c4c4"/>
<rect x="391.06" y="678.3" width="12" height="1.4" fill="#c4c4c4"/>
<rect x="391.06" y="680.1" width="12" height="1.4" fill="#c4c4c4"/>
<rect x="391.06" y="681.9" width="12" height="1.4" fill="#8c8c8c"/>
<rect x="391.06" y="683.7" width="12" height="1.4" fill="#8c8c8c"/>
<rect x="391.06" y="685.5" width="12" height="1.4" fill="#8c8c8c"/>
<rect x="391.06" y="687.3" width="12" height="1.4" fill="#8c8c8c"/>
<g clip-path="url(#c14)"><rect x="407.24" y="444.3" width="13.4" height="2.6" fill="#d7302a"/><rect x="407.24" y="448" width="13.4" height="1.8" fill="#4a78c8"/><rect x="407.24" y="450.05" width="13.4" height="0.9" fill="#ee8d83"/><rect x="407.24" y="451.85" width="13.4" height="0.9" fill="#f3edb0"/><rect x="407.24" y="454.65" width="13.4" height="0.9" fill="#ee8d83"/><rect x="407.24" y="456.45" width="13.4" height="0.9" fill="#ee8d83"/><rect x="407.24" y="458.7" width="13.4" height="1.2" fill="#d7302a"/><rect x="407.24" y="461.95" width="13.4" height="0.9" fill="#ee8d83"/><rect x="407.24" y="470.25" width="13.4" height="0.9" fill="#f7c5bf"/><rect x="407.24" y="488.05" width="13.4" height="0.9" fill="#4a78c8"/><rect x="407.24" y="495.95" width="13.4" height="0.9" fill="#a3bfe6"/><rect x="407.24" y="500.85" width="13.4" height="0.9" fill="#a3bfe6"/><rect x="407.24" y="505.65" width="13.4" height="0.9" fill="#a3bfe6"/><rect x="407.24" y="530.7" width="13.4" height="1.2" fill="#4a78c8"/><rect x="407.24" y="551.95" width="13.4" height="0.9" fill="#4a78c8"/><rect x="407.24" y="561.15" width="13.4" height="0.9" fill="#f7c5bf"/><rect x="407.24" y="567.75" width="13.4" height="1.3" fill="#4a78c8"/><rect x="407.24" y="583.25" width="13.4" height="0.9" fill="#f7c5bf"/><rect x="407.24" y="586.8" width="13.4" height="1.8" fill="#d7302a"/><rect x="407.24" y="595.75" width="13.4" height="0.9" fill="#7f5fa8"/><rect x="407.24" y="597.55" width="13.4" height="0.9" fill="#a3bfe6"/><rect x="407.24" y="604.75" width="13.4" height="1.3" fill="#bd4256"/><rect x="407.24" y="606.75" width="13.4" height="0.9" fill="#a3bfe6"/><rect x="407.24" y="613.2" width="13.4" height="1.6" fill="#a3bfe6"/><rect x="407.24" y="616.35" width="13.4" height="0.9" fill="#f7c5bf"/><rect x="407.24" y="641.65" width="13.4" height="0.9" fill="#a3bfe6"/><rect x="407.24" y="654.35" width="13.4" height="1.3" fill="#7f5fa8"/><rect x="407.24" y="670.95" width="13.4" height="1.3" fill="#d7302a"/><rect x="407.24" y="674.75" width="13.4" height="0.9" fill="#ee8d83"/><rect x="407.24" y="678.8" width="13.4" height="1.4" fill="#d7302a"/><rect x="407.24" y="681.55" width="13.4" height="0.9" fill="#f7c5bf"/><rect x="407.24" y="682.7" width="13.4" height="1.6" fill="#a3bfe6"/><rect x="407.24" y="685.1" width="13.4" height="1.6" fill="#7f5fa8"/><rect x="407.24" y="687.25" width="13.4" height="0.9" fill="#d7302a"/><rect x="407.24" y="407.2" width="13.4" height="30.2" fill="#828282"/></g>
<path d="M407.04 437.2L413.94 440.4L407.04 443.7Z M420.84 437.2L413.94 440.4L420.84 443.7Z" fill="#fff"/>
<path d="M408.04 414.9V437.2L419.84 443.7V683.3A5.9 5.9 0 0 1 408.04 683.3V443.7L419.84 437.2V414.9A5.9 5.9 0 0 0 408.04 414.9" fill="none" stroke="#868686" stroke-width="1.6" stroke-linejoin="round"/>
<rect x="422.29" y="408.5" width="0.6" height="280.5" fill="#d0d0d0"/>
<rect x="422.39" y="444.9" width="12" height="2.4" fill="#000000"/>
<rect x="422.39" y="450.05" width="12" height="0.9" fill="#8c8c8c"/>
<rect x="422.39" y="452.25" width="12" height="0.9" fill="#c4c4c4"/>
<rect x="422.39" y="455.15" width="12" height="0.9" fill="#e6e6e6"/>
<rect x="422.39" y="458.35" width="12" height="1.5" fill="#444444"/>
<rect x="422.39" y="461.55" width="12" height="0.9" fill="#e6e6e6"/>
<rect x="422.39" y="470.25" width="12" height="0.9" fill="#e6e6e6"/>
<rect x="422.39" y="488.05" width="12" height="0.9" fill="#c4c4c4"/>
<rect x="422.39" y="491.75" width="12" height="0.9" fill="#c4c4c4"/>
<rect x="422.39" y="561.15" width="12" height="0.9" fill="#c4c4c4"/>
<rect x="422.39" y="565.75" width="12" height="0.9" fill="#c4c4c4"/>
<rect x="422.39" y="574.95" width="12" height="0.9" fill="#c4c4c4"/>
<rect x="422.39" y="582.9" width="12" height="1.6" fill="#e6e6e6"/>
<rect x="422.39" y="586.95" width="12" height="0.9" fill="#8c8c8c"/>
<rect x="422.39" y="595.75" width="12" height="0.9" fill="#8c8c8c"/>
<rect x="422.39" y="604.95" width="12" height="0.9" fill="#8c8c8c"/>
<rect x="422.39" y="615.6" width="12" height="1.6" fill="#e6e6e6"/>
<rect x="422.39" y="654.95" width="12" height="0.9" fill="#c4c4c4"/>
<rect x="422.39" y="670.75" width="12" height="0.9" fill="#c4c4c4"/>
<rect x="422.39" y="672.95" width="12" height="0.9" fill="#c4c4c4"/>
<rect x="422.39" y="675.15" width="12" height="0.9" fill="#c4c4c4"/>
<rect x="422.39" y="678.4" width="12" height="1.2" fill="#c4c4c4"/>
<rect x="422.39" y="680.2" width="12" height="1.2" fill="#c4c4c4"/>
<rect x="422.39" y="682" width="12" height="1.2" fill="#c4c4c4"/>
<rect x="422.39" y="685.3" width="12" height="3.4" fill="#444444"/>
<g clip-path="url(#c15)"><rect x="438.57" y="461.9" width="13.4" height="7" fill="#d7302a"/><rect x="438.57" y="464.9" width="13.4" height="0.6" fill="#ee7f5e"/><rect x="438.57" y="469.35" width="13.4" height="0.9" fill="#4a78c8"/><rect x="438.57" y="470.75" width="13.4" height="0.9" fill="#d7302a"/><rect x="438.57" y="471.75" width="13.4" height="0.9" fill="#4a78c8"/><rect x="438.57" y="473.05" width="13.4" height="0.9" fill="#d7302a"/><rect x="438.57" y="474.35" width="13.4" height="0.9" fill="#bd4256"/><rect x="438.57" y="476.35" width="13.4" height="0.9" fill="#d7302a"/><rect x="438.57" y="478.15" width="13.4" height="0.9" fill="#f8c9a8"/><rect x="438.57" y="484.2" width="13.4" height="2.4" fill="#d7302a"/><rect x="438.57" y="487.15" width="13.4" height="0.9" fill="#f8c9a8"/><rect x="438.57" y="488.55" width="13.4" height="0.9" fill="#4a78c8"/><rect x="438.57" y="490" width="13.4" height="2.4" fill="#4a78c8"/><rect x="438.57" y="492.15" width="13.4" height="0.9" fill="#7f5fa8"/><rect x="438.57" y="493.55" width="13.4" height="0.9" fill="#d7302a"/><rect x="438.57" y="494.55" width="13.4" height="0.9" fill="#ee7f5e"/><rect x="438.57" y="495.75" width="13.4" height="0.9" fill="#bd4256"/><rect x="438.57" y="496.85" width="13.4" height="0.9" fill="#4a78c8"/><rect x="438.57" y="499.25" width="13.4" height="0.9" fill="#a3bfe6"/><rect x="438.57" y="501.65" width="13.4" height="1.3" fill="#d7302a"/><rect x="438.57" y="504.25" width="13.4" height="0.9" fill="#f8c9a8"/><rect x="438.57" y="517.1" width="13.4" height="1.6" fill="#bcaad3"/><rect x="438.57" y="520.75" width="13.4" height="0.9" fill="#4a78c8"/><rect x="438.57" y="522.55" width="13.4" height="0.9" fill="#d7302a"/><rect x="438.57" y="524.9" width="13.4" height="1.8" fill="#ee8d83"/><rect x="438.57" y="527" width="13.4" height="1.6" fill="#ee8d83"/><rect x="438.57" y="529.55" width="13.4" height="0.9" fill="#d7302a"/><rect x="438.57" y="530.85" width="13.4" height="0.9" fill="#bd4256"/><rect x="438.57" y="532.3" width="13.4" height="1.6" fill="#d3e0f3"/><rect x="438.57" y="553.65" width="13.4" height="1.3" fill="#4a78c8"/><rect x="438.57" y="566.15" width="13.4" height="0.9" fill="#f8c9a8"/><rect x="438.57" y="568.95" width="13.4" height="0.9" fill="#d7302a"/><rect x="438.57" y="578.45" width="13.4" height="1.3" fill="#ee7f5e"/><rect x="438.57" y="581.95" width="13.4" height="0.9" fill="#4a78c8"/><rect x="438.57" y="588.75" width="13.4" height="0.9" fill="#f7c5bf"/><rect x="438.57" y="590.55" width="13.4" height="0.9" fill="#4a78c8"/><rect x="438.57" y="592.45" width="13.4" height="0.9" fill="#d7302a"/><rect x="438.57" y="594.25" width="13.4" height="0.9" fill="#ee8d83"/><rect x="438.57" y="595.75" width="13.4" height="0.9" fill="#bcaad3"/><rect x="438.57" y="603.05" width="13.4" height="0.9" fill="#bcaad3"/><rect x="438.57" y="607.8" width="13.4" height="1.4" fill="#bd4256"/><rect x="438.57" y="611.95" width="13.4" height="0.9" fill="#ee8d83"/><rect x="438.57" y="614.5" width="13.4" height="2" fill="#bd4256"/><rect x="438.57" y="616.15" width="13.4" height="0.9" fill="#4a78c8"/><rect x="438.57" y="617.45" width="13.4" height="0.9" fill="#f7c5bf"/><rect x="438.57" y="621" width="13.4" height="2.8" fill="#ee8d83"/><rect x="438.57" y="625.15" width="13.4" height="0.9" fill="#d7302a"/><rect x="438.57" y="627.55" width="13.4" height="0.9" fill="#d7302a"/><rect x="438.57" y="629.75" width="13.4" height="0.9" fill="#f7c5bf"/><rect x="438.57" y="631.55" width="13.4" height="0.9" fill="#a3bfe6"/><rect x="438.57" y="634.3" width="13.4" height="2.4" fill="#d7302a"/><rect x="438.57" y="638.05" width="13.4" height="0.9" fill="#f7c5bf"/><rect x="438.57" y="640.1" width="13.4" height="1.6" fill="#bd4256"/><rect x="438.57" y="642.65" width="13.4" height="0.9" fill="#a3bfe6"/><rect x="438.57" y="646.85" width="13.4" height="0.9" fill="#f8c9a8"/><rect x="438.57" y="653.25" width="13.4" height="0.9" fill="#bcaad3"/><rect x="438.57" y="656.05" width="13.4" height="0.9" fill="#f7c5bf"/><rect x="438.57" y="657.85" width="13.4" height="0.9" fill="#f7c5bf"/><rect x="438.57" y="661.55" width="13.4" height="0.9" fill="#d7302a"/><rect x="438.57" y="662.55" width="13.4" height="0.9" fill="#4a78c8"/><rect x="438.57" y="664.65" width="13.4" height="0.9" fill="#a3bfe6"/><rect x="438.57" y="677.95" width="13.4" height="0.9" fill="#4a78c8"/><rect x="438.57" y="682.65" width="13.4" height="0.9" fill="#d7302a"/><rect x="438.57" y="687.55" width="13.4" height="0.9" fill="#f7c5bf"/><rect x="438.57" y="410.8" width="13.4" height="48.2" fill="#828282"/></g>
<path d="M438.37 458.8L445.27 460.2L438.37 461.6Z M452.17 458.8L445.27 460.2L452.17 461.6Z" fill="#fff"/>
<path d="M439.37 418.5V458.8L451.17 461.6V683.3A5.9 5.9 0 0 1 439.37 683.3V461.6L451.17 458.8V418.5A5.9 5.9 0 0 0 439.37 418.5" fill="none" stroke="#868686" stroke-width="1.6" stroke-linejoin="round"/>
<rect x="453.62" y="412.1" width="0.6" height="276.9" fill="#d0d0d0"/>
<rect x="453.72" y="462" width="12" height="3.2" fill="#000000"/>
<rect x="453.72" y="466.1" width="12" height="2.8" fill="#000000"/>
<rect x="453.72" y="469.8" width="12" height="1.8" fill="#444444"/>
<rect x="453.72" y="472.6" width="12" height="1.8" fill="#000000"/>
<rect x="453.72" y="478.55" width="12" height="0.9" fill="#e6e6e6"/>
<rect x="453.72" y="484" width="12" height="2.8" fill="#000000"/>
<rect x="453.72" y="489.9" width="12" height="2.6" fill="#000000"/>
<rect x="453.72" y="494.1" width="12" height="1" fill="#000000"/>
<rect x="453.72" y="495.4" width="12" height="0.8" fill="#8c8c8c"/>
<rect x="453.72" y="496.1" width="12" height="1" fill="#444444"/>
<rect x="453.72" y="501.65" width="12" height="1.3" fill="#444444"/>
<rect x="453.72" y="517.05" width="12" height="0.9" fill="#c4c4c4"/>
<rect x="453.72" y="522.55" width="12" height="0.9" fill="#c4c4c4"/>
<rect x="453.72" y="524.75" width="12" height="0.9" fill="#c4c4c4"/>
<rect x="453.72" y="526.55" width="12" height="1.5" fill="#444444"/>
<rect x="453.72" y="530.6" width="12" height="1.4" fill="#444444"/>
<rect x="453.72" y="553.5" width="12" height="1.6" fill="#c4c4c4"/>
<rect x="453.72" y="566.15" width="12" height="0.9" fill="#c4c4c4"/>
<rect x="453.72" y="568.95" width="12" height="0.9" fill="#e6e6e6"/>
<rect x="453.72" y="578.3" width="12" height="1.6" fill="#c4c4c4"/>
<rect x="453.72" y="581.95" width="12" height="0.9" fill="#c4c4c4"/>
<rect x="453.72" y="584.15" width="12" height="0.9" fill="#c4c4c4"/>
<rect x="453.72" y="588.75" width="12" height="0.9" fill="#c4c4c4"/>
<rect x="453.72" y="591.05" width="12" height="0.9" fill="#c4c4c4"/>
<rect x="453.72" y="592.95" width="12" height="0.9" fill="#c4c4c4"/>
<rect x="453.72" y="594.85" width="12" height="0.9" fill="#c4c4c4"/>
<rect x="453.72" y="603.05" width="12" height="0.9" fill="#c4c4c4"/>
<rect x="453.72" y="607.35" width="12" height="0.9" fill="#8c8c8c"/>
<rect x="453.72" y="610.75" width="12" height="1.3" fill="#444444"/>
<rect x="453.72" y="614.5" width="12" height="2" fill="#444444"/>
<rect x="453.72" y="621.1" width="12" height="1.8" fill="#8c8c8c"/>
<rect x="453.72" y="624.25" width="12" height="0.9" fill="#8c8c8c"/>
<rect x="453.72" y="627.55" width="12" height="0.9" fill="#8c8c8c"/>
<rect x="453.72" y="631.2" width="12" height="1.6" fill="#c4c4c4"/>
<rect x="453.72" y="634.4" width="12" height="1.6" fill="#000000"/>
<rect x="453.72" y="639.6" width="12" height="1.4" fill="#000000"/>
<rect x="453.72" y="641.95" width="12" height="1.5" fill="#444444"/>
<rect x="453.72" y="646.85" width="12" height="0.9" fill="#c4c4c4"/>
<rect x="453.72" y="652.75" width="12" height="0.9" fill="#c4c4c4"/>
<rect x="453.72" y="656.05" width="12" height="0.9" fill="#c4c4c4"/>
<rect x="453.72" y="657.85" width="12" height="0.9" fill="#c4c4c4"/>
<rect x="453.72" y="661.8" width="12" height="1.8" fill="#8c8c8c"/>
<rect x="453.72" y="682.65" width="12" height="0.9" fill="#8c8c8c"/>
<rect x="453.72" y="685.25" width="12" height="0.9" fill="#c4c4c4"/>
<rect x="453.72" y="687.55" width="12" height="0.9" fill="#8c8c8c"/>
<g clip-path="url(#c16)"><rect x="469.9" y="424.25" width="13.4" height="0.9" fill="#4a78c8"/><rect x="469.9" y="427.4" width="13.4" height="2" fill="#ee8d83"/><rect x="469.9" y="430.35" width="13.4" height="0.9" fill="#d7302a"/><rect x="469.9" y="437.15" width="13.4" height="0.9" fill="#a3bfe6"/><rect x="469.9" y="438.45" width="13.4" height="0.9" fill="#a3bfe6"/><rect x="469.9" y="446.95" width="13.4" height="0.9" fill="#a3bfe6"/><rect x="469.9" y="452.1" width="13.4" height="1.6" fill="#f7c5bf"/><rect x="469.9" y="454.65" width="13.4" height="0.9" fill="#bd4256"/><rect x="469.9" y="462.3" width="13.4" height="2" fill="#bd4256"/><rect x="469.9" y="464.75" width="13.4" height="0.9" fill="#f7c5bf"/><rect x="469.9" y="466.8" width="13.4" height="2.4" fill="#d7302a"/><rect x="469.9" y="471.55" width="13.4" height="3.3" fill="#d7302a"/><rect x="469.9" y="475.75" width="13.4" height="0.9" fill="#f7c5bf"/><rect x="469.9" y="478.45" width="13.4" height="0.9" fill="#f7c5bf"/><rect x="469.9" y="480.6" width="13.4" height="1.6" fill="#d7302a"/><rect x="469.9" y="483.4" width="13.4" height="2" fill="#bd4256"/><rect x="469.9" y="486.75" width="13.4" height="0.9" fill="#a3bfe6"/><rect x="469.9" y="488.55" width="13.4" height="0.9" fill="#ee8d83"/><rect x="469.9" y="491.85" width="13.4" height="0.9" fill="#4a78c8"/><rect x="469.9" y="495.05" width="13.4" height="0.9" fill="#f7c5bf"/><rect x="469.9" y="497.45" width="13.4" height="0.9" fill="#a3bfe6"/><rect x="469.9" y="501.5" width="13.4" height="4" fill="#bd4256"/><rect x="469.9" y="506.55" width="13.4" height="0.9" fill="#d7302a"/><rect x="469.9" y="508.45" width="13.4" height="0.9" fill="#f7c5bf"/><rect x="469.9" y="510.25" width="13.4" height="0.9" fill="#4a78c8"/><rect x="469.9" y="511.55" width="13.4" height="0.9" fill="#bd4256"/><rect x="469.9" y="513.7" width="13.4" height="3" fill="#d7302a"/><rect x="469.9" y="517.05" width="13.4" height="0.9" fill="#7f5fa8"/><rect x="469.9" y="518.8" width="13.4" height="2.4" fill="#d7302a"/><rect x="469.9" y="526.85" width="13.4" height="0.9" fill="#d7302a"/><rect x="469.9" y="528.4" width="13.4" height="1.2" fill="#bd4256"/><rect x="469.9" y="529.5" width="13.4" height="1" fill="#7f5fa8"/><rect x="469.9" y="530.5" width="13.4" height="1" fill="#4a78c8"/><rect x="469.9" y="566.5" width="13.4" height="1.4" fill="#bd4256"/><rect x="469.9" y="577.15" width="13.4" height="0.9" fill="#a3bfe6"/><rect x="469.9" y="586.05" width="13.4" height="0.9" fill="#4a78c8"/><rect x="469.9" y="591.9" width="13.4" height="1.6" fill="#d7302a"/><rect x="469.9" y="613.1" width="13.4" height="3" fill="#a3bfe6"/><rect x="469.9" y="625.15" width="13.4" height="0.9" fill="#4a78c8"/><rect x="469.9" y="627.75" width="13.4" height="1.3" fill="#4a78c8"/><rect x="469.9" y="631.75" width="13.4" height="1.3" fill="#bd4256"/><rect x="469.9" y="635" width="13.4" height="1.8" fill="#4a78c8"/><rect x="469.9" y="638.05" width="13.4" height="0.9" fill="#a3bfe6"/><rect x="469.9" y="643.9" width="13.4" height="2" fill="#bd4256"/><rect x="469.9" y="646.95" width="13.4" height="1.5" fill="#7f5fa8"/><rect x="469.9" y="681.7" width="13.4" height="1.8" fill="#bd4256"/><rect x="469.9" y="684.55" width="13.4" height="0.9" fill="#a3bfe6"/><rect x="469.9" y="686.75" width="13.4" height="0.9" fill="#4a78c8"/></g>
<path d="M469.7 521.6L476.6 524L469.7 526.3Z M483.5 521.6L476.6 524L483.5 526.3Z" fill="#fff"/>
<path d="M470.7 428.2V521.6L482.5 526.3V683.3A5.9 5.9 0 0 1 470.7 683.3V526.3L482.5 521.6V428.2A5.9 5.9 0 0 0 470.7 428.2" fill="none" stroke="#868686" stroke-width="1.6" stroke-linejoin="round"/>
<rect x="484.95" y="421.8" width="0.6" height="267.2" fill="#d0d0d0"/>
<rect x="485.05" y="422.5" width="12" height="1.4" fill="#8c8c8c"/>
<rect x="485.05" y="424.3" width="12" height="1.4" fill="#8c8c8c"/>
<rect x="485.05" y="428.4" width="12" height="2.4" fill="#8c8c8c"/>
<rect x="485.05" y="434.05" width="12" height="0.9" fill="#e6e6e6"/>
<rect x="485.05" y="452.45" width="12" height="0.9" fill="#c4c4c4"/>
<rect x="485.05" y="454.65" width="12" height="0.9" fill="#8c8c8c"/>
<rect x="485.05" y="462.8" width="12" height="1.8" fill="#000000"/>
<rect x="485.05" y="466.8" width="12" height="1.6" fill="#000000"/>
<rect x="485.05" y="472.1" width="12" height="2.6" fill="#000000"/>
<rect x="485.05" y="477.6" width="12" height="1.6" fill="#8c8c8c"/>
<rect x="485.05" y="480.5" width="12" height="1.8" fill="#000000"/>
<rect x="485.05" y="484" width="12" height="1.6" fill="#000000"/>
<rect x="485.05" y="495.05" width="12" height="0.9" fill="#e6e6e6"/>
<rect x="485.05" y="501.5" width="12" height="1.4" fill="#000000"/>
<rect x="485.05" y="503.2" width="12" height="0.8" fill="#8c8c8c"/>
<rect x="485.05" y="503.9" width="12" height="1.4" fill="#000000"/>
<rect x="485.05" y="506.55" width="12" height="0.9" fill="#444444"/>
<rect x="485.05" y="509.9" width="12" height="1.8" fill="#8c8c8c"/>
<rect x="485.05" y="512.4" width="12" height="1" fill="#000000"/>
<rect x="485.05" y="514.4" width="12" height="6.2" fill="#000000"/>
<rect x="485.05" y="526.9" width="12" height="1.4" fill="#8c8c8c"/>
<rect x="485.05" y="530.2" width="12" height="1.6" fill="#444444"/>
<rect x="485.05" y="566.75" width="12" height="0.9" fill="#8c8c8c"/>
<rect x="485.05" y="591.9" width="12" height="1.6" fill="#c4c4c4"/>
<rect x="485.05" y="613.25" width="12" height="0.9" fill="#e6e6e6"/>
<rect x="485.05" y="615.95" width="12" height="0.9" fill="#e6e6e6"/>
<rect x="485.05" y="631.65" width="12" height="1.5" fill="#444444"/>
<rect x="485.05" y="644" width="12" height="1.8" fill="#444444"/>
<rect x="485.05" y="647.55" width="12" height="0.9" fill="#c4c4c4"/>
<rect x="485.05" y="670.8" width="12" height="1.6" fill="#c4c4c4"/>
<rect x="485.05" y="676.95" width="12" height="0.9" fill="#c4c4c4"/>
<rect x="485.05" y="679.35" width="12" height="0.9" fill="#c4c4c4"/>
<rect x="485.05" y="682.2" width="12" height="1.8" fill="#000000"/>
<rect x="485.05" y="685.6" width="12" height="3" fill="#444444"/>
<g clip-path="url(#c17)"><rect x="501.23" y="455.85" width="13.4" height="0.9" fill="#4a78c8"/><rect x="501.23" y="458.95" width="13.4" height="0.9" fill="#cfe0cf"/><rect x="501.23" y="463.75" width="13.4" height="0.9" fill="#d7302a"/><rect x="501.23" y="467.45" width="13.4" height="0.9" fill="#ee8d83"/><rect x="501.23" y="469.95" width="13.4" height="0.9" fill="#f7c5bf"/><rect x="501.23" y="471.45" width="13.4" height="0.9" fill="#f7c5bf"/><rect x="501.23" y="473.65" width="13.4" height="0.9" fill="#ee8d83"/><rect x="501.23" y="475.15" width="13.4" height="0.9" fill="#ee8d83"/><rect x="501.23" y="493.35" width="13.4" height="1.3" fill="#bd4256"/><rect x="501.23" y="495.75" width="13.4" height="0.9" fill="#f7c5bf"/><rect x="501.23" y="499.4" width="13.4" height="3" fill="#d7302a"/><rect x="501.23" y="505.8" width="13.4" height="3" fill="#d7302a"/><rect x="501.23" y="509.5" width="13.4" height="2" fill="#a3bfe6"/><rect x="501.23" y="512.25" width="13.4" height="0.9" fill="#d7302a"/><rect x="501.23" y="513.6" width="13.4" height="1.2" fill="#bd4256"/><rect x="501.23" y="515.15" width="13.4" height="0.9" fill="#4a78c8"/><rect x="501.23" y="516.55" width="13.4" height="0.9" fill="#d7302a"/><rect x="501.23" y="518.1" width="13.4" height="1.4" fill="#bd4256"/><rect x="501.23" y="519.55" width="13.4" height="0.9" fill="#4a78c8"/><rect x="501.23" y="532.2" width="13.4" height="2.6" fill="#bd4256"/><rect x="501.23" y="535.75" width="13.4" height="0.9" fill="#f7c5bf"/><rect x="501.23" y="538.1" width="13.4" height="1.8" fill="#d3e0f3"/><rect x="501.23" y="542.3" width="13.4" height="1.8" fill="#d7302a"/><rect x="501.23" y="546.85" width="13.4" height="0.9" fill="#d7302a"/><rect x="501.23" y="551.95" width="13.4" height="0.9" fill="#ee8d83"/><rect x="501.23" y="555.05" width="13.4" height="0.9" fill="#d7302a"/><rect x="501.23" y="557.45" width="13.4" height="0.9" fill="#d7302a"/><rect x="501.23" y="558.75" width="13.4" height="0.9" fill="#f3edb0"/><rect x="501.23" y="562.3" width="13.4" height="1.2" fill="#d7302a"/><rect x="501.23" y="564.15" width="13.4" height="0.9" fill="#bd4256"/><rect x="501.23" y="568.75" width="13.4" height="0.9" fill="#f7c5bf"/><rect x="501.23" y="572.05" width="13.4" height="0.9" fill="#bd4256"/><rect x="501.23" y="573.7" width="13.4" height="2" fill="#d7302a"/><rect x="501.23" y="576.45" width="13.4" height="0.9" fill="#bcaad3"/><rect x="501.23" y="577.5" width="13.4" height="1.8" fill="#a3bfe6"/><rect x="501.23" y="580.65" width="13.4" height="0.9" fill="#4a78c8"/><rect x="501.23" y="583.45" width="13.4" height="0.9" fill="#bd4256"/><rect x="501.23" y="586.7" width="13.4" height="2.4" fill="#d7302a"/><rect x="501.23" y="589.85" width="13.4" height="0.9" fill="#f7c5bf"/><rect x="501.23" y="592.65" width="13.4" height="0.9" fill="#d7302a"/><rect x="501.23" y="596.85" width="13.4" height="0.9" fill="#ee7f5e"/><rect x="501.23" y="606.95" width="13.4" height="0.9" fill="#a3bfe6"/><rect x="501.23" y="615.05" width="13.4" height="0.9" fill="#a3bfe6"/><rect x="501.23" y="622.2" width="13.4" height="1.2" fill="#7f5fa8"/><rect x="501.23" y="623.3" width="13.4" height="1" fill="#4a78c8"/><rect x="501.23" y="624.2" width="13.4" height="1" fill="#d7302a"/><rect x="501.23" y="625.35" width="13.4" height="0.9" fill="#d7302a"/><rect x="501.23" y="630.1" width="13.4" height="1.4" fill="#bd4256"/><rect x="501.23" y="632.75" width="13.4" height="0.9" fill="#f7c5bf"/><rect x="501.23" y="634.95" width="13.4" height="0.9" fill="#f8c9a8"/><rect x="501.23" y="636.85" width="13.4" height="1.5" fill="#d7302a"/><rect x="501.23" y="646" width="13.4" height="1.6" fill="#bd4256"/><rect x="501.23" y="652.95" width="13.4" height="0.9" fill="#4a78c8"/><rect x="501.23" y="668.1" width="13.4" height="1.8" fill="#d3e0f3"/><rect x="501.23" y="672.05" width="13.4" height="0.9" fill="#4a78c8"/><rect x="501.23" y="674.25" width="13.4" height="0.9" fill="#f7c5bf"/><rect x="501.23" y="677.55" width="13.4" height="0.9" fill="#a3bfe6"/><rect x="501.23" y="680.65" width="13.4" height="0.9" fill="#a3bfe6"/><rect x="501.23" y="683.95" width="13.4" height="0.9" fill="#f7c5bf"/><rect x="501.23" y="687.25" width="13.4" height="0.9" fill="#4a78c8"/></g>
<path d="M501.03 521.5L507.93 526.1L501.03 530.7Z M514.83 521.5L507.93 526.1L514.83 530.7Z" fill="#fff"/>
<path d="M502.03 461.7V521.5L513.83 530.7V683.3A5.9 5.9 0 0 1 502.03 683.3V530.7L513.83 521.5V461.7A5.9 5.9 0 0 0 502.03 461.7" fill="none" stroke="#868686" stroke-width="1.6" stroke-linejoin="round"/>
<rect x="516.28" y="455.3" width="0.6" height="233.7" fill="#d0d0d0"/>
<rect x="516.38" y="455.4" width="12" height="2" fill="#444444"/>
<rect x="516.38" y="458.05" width="12" height="0.9" fill="#8c8c8c"/>
<rect x="516.38" y="459.55" width="12" height="0.9" fill="#c4c4c4"/>
<rect x="516.38" y="463.3" width="12" height="1.8" fill="#8c8c8c"/>
<rect x="516.38" y="465.95" width="12" height="0.9" fill="#c4c4c4"/>
<rect x="516.38" y="469.25" width="12" height="0.9" fill="#8c8c8c"/>
<rect x="516.38" y="471.45" width="12" height="0.9" fill="#c4c4c4"/>
<rect x="516.38" y="473.9" width="12" height="1.6" fill="#c4c4c4"/>
<rect x="516.38" y="476.05" width="12" height="0.9" fill="#e6e6e6"/>
<rect x="516.38" y="493.85" width="12" height="0.9" fill="#8c8c8c"/>
<rect x="516.38" y="498.6" width="12" height="1.6" fill="#444444"/>
<rect x="516.38" y="500.8" width="12" height="1.6" fill="#444444"/>
<rect x="516.38" y="506.4" width="12" height="2.4" fill="#000000"/>
<rect x="516.38" y="511.7" width="12" height="3.4" fill="#000000"/>
<rect x="516.38" y="517.4" width="12" height="2.8" fill="#000000"/>
<rect x="516.38" y="532.6" width="12" height="1.2" fill="#8c8c8c"/>
<rect x="516.38" y="534.2" width="12" height="1.2" fill="#8c8c8c"/>
<rect x="516.38" y="535.7" width="12" height="1" fill="#c4c4c4"/>
<rect x="516.38" y="542.4" width="12" height="1.6" fill="#444444"/>
<rect x="516.38" y="546.85" width="12" height="0.9" fill="#c4c4c4"/>
<rect x="516.38" y="551.95" width="12" height="0.9" fill="#e6e6e6"/>
<rect x="516.38" y="556.05" width="12" height="0.9" fill="#c4c4c4"/>
<rect x="516.38" y="557.4" width="12" height="1.8" fill="#000000"/>
<rect x="516.38" y="562.9" width="12" height="1.4" fill="#444444"/>
<rect x="516.38" y="572.2" width="12" height="1.4" fill="#8c8c8c"/>
<rect x="516.38" y="575.5" width="12" height="2.6" fill="#8c8c8c"/>
<rect x="516.38" y="583.65" width="12" height="1.3" fill="#444444"/>
<rect x="516.38" y="586.5" width="12" height="2.2" fill="#000000"/>
<rect x="516.38" y="592.65" width="12" height="0.9" fill="#c4c4c4"/>
<rect x="516.38" y="596.85" width="12" height="0.9" fill="#c4c4c4"/>
<rect x="516.38" y="615.55" width="12" height="0.9" fill="#8c8c8c"/>
<rect x="516.38" y="623.4" width="12" height="1.8" fill="#444444"/>
<rect x="516.38" y="629.95" width="12" height="0.9" fill="#8c8c8c"/>
<rect x="516.38" y="632.75" width="12" height="0.9" fill="#c4c4c4"/>
<rect x="516.38" y="636.85" width="12" height="1.5" fill="#000000"/>
<rect x="516.38" y="646" width="12" height="1.6" fill="#000000"/>
<rect x="516.38" y="652.95" width="12" height="0.9" fill="#8c8c8c"/>
<rect x="516.38" y="668" width="12" height="1.6" fill="#c4c4c4"/>
<rect x="516.38" y="672.95" width="12" height="0.9" fill="#e6e6e6"/>
<rect x="516.38" y="682.15" width="12" height="0.9" fill="#8c8c8c"/>
<rect x="516.38" y="684.6" width="12" height="1.6" fill="#c4c4c4"/>
<rect x="516.38" y="687.3" width="12" height="1.6" fill="#000000"/>
<g clip-path="url(#c18)"><rect x="532.56" y="471.65" width="13.4" height="1.5" fill="#4a78c8"/><rect x="532.56" y="485.75" width="13.4" height="0.9" fill="#cfe0cf"/><rect x="532.56" y="495.3" width="13.4" height="1.8" fill="#ee7f5e"/><rect x="532.56" y="498.75" width="13.4" height="1.5" fill="#bd4256"/><rect x="532.56" y="506.2" width="13.4" height="2.4" fill="#7f5fa8"/><rect x="532.56" y="523.85" width="13.4" height="0.9" fill="#d7302a"/><rect x="532.56" y="538.95" width="13.4" height="0.9" fill="#bd4256"/><rect x="532.56" y="540.95" width="13.4" height="0.9" fill="#a3bfe6"/><rect x="532.56" y="553.85" width="13.4" height="0.9" fill="#ee7f5e"/><rect x="532.56" y="556.05" width="13.4" height="0.9" fill="#bcaad3"/><rect x="532.56" y="577.95" width="13.4" height="0.9" fill="#4a78c8"/><rect x="532.56" y="593.55" width="13.4" height="0.9" fill="#a3bfe6"/><rect x="532.56" y="595.75" width="13.4" height="0.9" fill="#bcaad3"/><rect x="532.56" y="601.85" width="13.4" height="0.9" fill="#d7302a"/><rect x="532.56" y="602.85" width="13.4" height="0.9" fill="#4a78c8"/><rect x="532.56" y="608.85" width="13.4" height="0.9" fill="#ee8d83"/><rect x="532.56" y="610.15" width="13.4" height="0.9" fill="#a3bfe6"/><rect x="532.56" y="626.25" width="13.4" height="0.9" fill="#f7c5bf"/><rect x="532.56" y="632.2" width="13.4" height="1.6" fill="#f7c5bf"/><rect x="532.56" y="642.3" width="13.4" height="1.6" fill="#ee8d83"/><rect x="532.56" y="648.15" width="13.4" height="0.9" fill="#4a78c8"/><rect x="532.56" y="655.65" width="13.4" height="0.9" fill="#d7302a"/><rect x="532.56" y="667.1" width="13.4" height="1.6" fill="#f7c5bf"/><rect x="532.56" y="682.15" width="13.4" height="0.9" fill="#4a78c8"/><rect x="532.56" y="685.85" width="13.4" height="0.9" fill="#a3bfe6"/></g>
<path d="M532.36 509.6L539.26 516.9L532.36 523.7Z M546.16 509.6L539.26 516.9L546.16 523.7Z" fill="#fff"/>
<path d="M533.36 472.4V509.6L545.16 523.7V683.3A5.9 5.9 0 0 1 533.36 683.3V523.7L545.16 509.6V472.4A5.9 5.9 0 0 0 533.36 472.4" fill="none" stroke="#868686" stroke-width="1.6" stroke-linejoin="round"/>
<rect x="547.61" y="466" width="0.6" height="223" fill="#d0d0d0"/>
<rect x="547.71" y="465.75" width="12" height="1.3" fill="#000000"/>
<rect x="547.71" y="485.75" width="12" height="0.9" fill="#e6e6e6"/>
<rect x="547.71" y="495.3" width="12" height="1.8" fill="#8c8c8c"/>
<rect x="547.71" y="499" width="12" height="1.6" fill="#8c8c8c"/>
<rect x="547.71" y="504.15" width="12" height="0.9" fill="#e6e6e6"/>
<rect x="547.71" y="506.1" width="12" height="2.2" fill="#8c8c8c"/>
<rect x="547.71" y="523.85" width="12" height="0.9" fill="#c4c4c4"/>
<rect x="547.71" y="538.95" width="12" height="0.9" fill="#e6e6e6"/>
<rect x="547.71" y="556.05" width="12" height="0.9" fill="#c4c4c4"/>
<rect x="547.71" y="595.9" width="12" height="1.8" fill="#c4c4c4"/>
<rect x="547.71" y="601.65" width="12" height="1.3" fill="#8c8c8c"/>
<rect x="547.71" y="609.15" width="12" height="0.9" fill="#c4c4c4"/>
<rect x="547.71" y="626.3" width="12" height="1.6" fill="#c4c4c4"/>
<rect x="547.71" y="632.15" width="12" height="0.9" fill="#e6e6e6"/>
<rect x="547.71" y="640.45" width="12" height="0.9" fill="#e6e6e6"/>
<rect x="547.71" y="642.85" width="12" height="0.9" fill="#c4c4c4"/>
<rect x="547.71" y="655.65" width="12" height="0.9" fill="#e6e6e6"/>
<rect x="547.71" y="668.05" width="12" height="0.9" fill="#e6e6e6"/>
<rect x="547.71" y="673" width="12" height="1.6" fill="#c4c4c4"/>
<rect x="547.71" y="676.65" width="12" height="0.9" fill="#e6e6e6"/>
<rect x="547.71" y="684.6" width="12" height="1.2" fill="#8c8c8c"/>
<rect x="547.71" y="686" width="12" height="1.2" fill="#8c8c8c"/>
<rect x="547.71" y="687.4" width="12" height="1.2" fill="#8c8c8c"/>
<g clip-path="url(#c19)"><rect x="563.89" y="519.15" width="13.4" height="0.9" fill="#4a78c8"/><rect x="563.89" y="523.95" width="13.4" height="0.9" fill="#4a78c8"/><rect x="563.89" y="530.95" width="13.4" height="0.9" fill="#f3edb0"/><rect x="563.89" y="533.25" width="13.4" height="1.5" fill="#4a78c8"/><rect x="563.89" y="536.8" width="13.4" height="1.2" fill="#bd4256"/><rect x="563.89" y="540.85" width="13.4" height="0.9" fill="#a3bfe6"/><rect x="563.89" y="541.95" width="13.4" height="1.3" fill="#d7302a"/><rect x="563.89" y="543.75" width="13.4" height="1.5" fill="#ee8d83"/><rect x="563.89" y="550.15" width="13.4" height="0.9" fill="#ee8d83"/><rect x="563.89" y="551.15" width="13.4" height="0.9" fill="#f7c5bf"/><rect x="563.89" y="552.95" width="13.4" height="0.9" fill="#7f5fa8"/><rect x="563.89" y="556.15" width="13.4" height="0.9" fill="#4a78c8"/><rect x="563.89" y="557.8" width="13.4" height="2.2" fill="#4a78c8"/><rect x="563.89" y="561.25" width="13.4" height="0.9" fill="#4a78c8"/><rect x="563.89" y="565.75" width="13.4" height="0.9" fill="#a3bfe6"/><rect x="563.89" y="573.1" width="13.4" height="2.8" fill="#bd4256"/><rect x="563.89" y="575.95" width="13.4" height="0.9" fill="#7f5fa8"/><rect x="563.89" y="578.3" width="13.4" height="3.2" fill="#bd4256"/><rect x="563.89" y="580" width="13.4" height="1.2" fill="#d7302a"/><rect x="563.89" y="582.1" width="13.4" height="2.6" fill="#4a78c8"/><rect x="563.89" y="585" width="13.4" height="0.6" fill="#bd4256"/><rect x="563.89" y="601.85" width="13.4" height="0.9" fill="#4a78c8"/><rect x="563.89" y="620.65" width="13.4" height="1.5" fill="#d7302a"/><rect x="563.89" y="622.4" width="13.4" height="1.6" fill="#a3bfe6"/><rect x="563.89" y="624.75" width="13.4" height="0.9" fill="#f8c9a8"/><rect x="563.89" y="626.8" width="13.4" height="2.4" fill="#d7302a"/><rect x="563.89" y="630.25" width="13.4" height="0.9" fill="#f7c5bf"/><rect x="563.89" y="631.95" width="13.4" height="0.9" fill="#ee8d83"/><rect x="563.89" y="633.75" width="13.4" height="0.9" fill="#7f5fa8"/><rect x="563.89" y="635.25" width="13.4" height="0.9" fill="#f7c5bf"/><rect x="563.89" y="636.55" width="13.4" height="0.9" fill="#d7302a"/><rect x="563.89" y="638.55" width="13.4" height="0.9" fill="#bd4256"/><rect x="563.89" y="640.45" width="13.4" height="0.9" fill="#f7c5bf"/><rect x="563.89" y="642.05" width="13.4" height="0.9" fill="#bd4256"/><rect x="563.89" y="644.1" width="13.4" height="2.4" fill="#d7302a"/><rect x="563.89" y="647.25" width="13.4" height="0.9" fill="#f7c5bf"/><rect x="563.89" y="649.05" width="13.4" height="0.9" fill="#d7302a"/><rect x="563.89" y="650.85" width="13.4" height="0.9" fill="#a3bfe6"/><rect x="563.89" y="652.35" width="13.4" height="0.9" fill="#4a78c8"/><rect x="563.89" y="654.05" width="13.4" height="0.9" fill="#4a78c8"/><rect x="563.89" y="656.45" width="13.4" height="0.9" fill="#bcaad3"/><rect x="563.89" y="658.55" width="13.4" height="0.9" fill="#bd4256"/><rect x="563.89" y="660.45" width="13.4" height="0.9" fill="#4a78c8"/><rect x="563.89" y="661.95" width="13.4" height="0.9" fill="#7f5fa8"/><rect x="563.89" y="663.75" width="13.4" height="0.9" fill="#bd4256"/><rect x="563.89" y="665.25" width="13.4" height="0.9" fill="#4a78c8"/><rect x="563.89" y="666.85" width="13.4" height="0.9" fill="#a0a0a0"/><rect x="563.89" y="668.85" width="13.4" height="0.9" fill="#f7c5bf"/><rect x="563.89" y="670.75" width="13.4" height="0.9" fill="#d7302a"/><rect x="563.89" y="672.55" width="13.4" height="0.9" fill="#d7302a"/><rect x="563.89" y="674.45" width="13.4" height="0.9" fill="#bd4256"/><rect x="563.89" y="676.05" width="13.4" height="0.9" fill="#7f5fa8"/><rect x="563.89" y="677.8" width="13.4" height="1.2" fill="#d7302a"/><rect x="563.89" y="679.35" width="13.4" height="0.9" fill="#ee8d83"/><rect x="563.89" y="681.25" width="13.4" height="0.9" fill="#d7302a"/><rect x="563.89" y="683.05" width="13.4" height="0.9" fill="#f7c5bf"/><rect x="563.89" y="684.85" width="13.4" height="0.9" fill="#4a78c8"/><rect x="563.89" y="686.75" width="13.4" height="0.9" fill="#d7302a"/><rect x="563.89" y="687.75" width="13.4" height="0.9" fill="#4a78c8"/></g>
<path d="M563.69 587.2L570.59 594.7L563.69 601.9Z M577.49 587.2L570.59 594.7L577.49 601.9Z" fill="#fff"/>
<path d="M564.69 524.3V587.2L576.49 601.9V683.3A5.9 5.9 0 0 1 564.69 683.3V601.9L576.49 587.2V524.3A5.9 5.9 0 0 0 564.69 524.3" fill="none" stroke="#868686" stroke-width="1.6" stroke-linejoin="round"/>
<rect x="578.94" y="517.9" width="0.6" height="171.1" fill="#d0d0d0"/>
<rect x="579.04" y="518.7" width="12" height="1.6" fill="#444444"/>
<rect x="579.04" y="520.75" width="12" height="0.9" fill="#8c8c8c"/>
<rect x="579.04" y="523.55" width="12" height="0.9" fill="#c4c4c4"/>
<rect x="579.04" y="526.15" width="12" height="0.9" fill="#e6e6e6"/>
<rect x="579.04" y="531.85" width="12" height="0.9" fill="#c4c4c4"/>
<rect x="579.04" y="533.85" width="12" height="0.9" fill="#c4c4c4"/>
<rect x="579.04" y="536.7" width="12" height="1.4" fill="#444444"/>
<rect x="579.04" y="541.95" width="12" height="1.3" fill="#444444"/>
<rect x="579.04" y="544.45" width="12" height="1.3" fill="#8c8c8c"/>
<rect x="579.04" y="550.15" width="12" height="0.9" fill="#c4c4c4"/>
<rect x="579.04" y="552.95" width="12" height="0.9" fill="#c4c4c4"/>
<rect x="579.04" y="556.15" width="12" height="0.9" fill="#e6e6e6"/>
<rect x="579.04" y="558.45" width="12" height="0.9" fill="#c4c4c4"/>
<rect x="579.04" y="561.85" width="12" height="0.9" fill="#c4c4c4"/>
<rect x="579.04" y="573" width="12" height="0.8" fill="#8c8c8c"/>
<rect x="579.04" y="573.5" width="12" height="4.6" fill="#c4c4c4"/>
<rect x="579.04" y="578.9" width="12" height="3.2" fill="#000000"/>
<rect x="579.04" y="582.95" width="12" height="0.9" fill="#c4c4c4"/>
<rect x="579.04" y="584.85" width="12" height="0.9" fill="#8c8c8c"/>
<rect x="579.04" y="615.2" width="12" height="1.6" fill="#e6e6e6"/>
<rect x="579.04" y="620.55" width="12" height="1.3" fill="#444444"/>
<rect x="579.04" y="627.3" width="12" height="2.2" fill="#8c8c8c"/>
<rect x="579.04" y="630.35" width="12" height="0.9" fill="#c4c4c4"/>
<rect x="579.04" y="633.5" width="12" height="2.8" fill="#c4c4c4"/>
<rect x="579.04" y="639.25" width="12" height="1.5" fill="#000000"/>
<rect x="579.04" y="643.7" width="12" height="2.6" fill="#000000"/>
<rect x="579.04" y="649.05" width="12" height="0.9" fill="#c4c4c4"/>
<rect x="579.04" y="658.5" width="12" height="1.6" fill="#444444"/>
<rect x="579.04" y="661.55" width="12" height="0.9" fill="#8c8c8c"/>
<rect x="579.04" y="664.65" width="12" height="1.3" fill="#000000"/>
<rect x="579.04" y="666.75" width="12" height="0.9" fill="#444444"/>
<rect x="579.04" y="668.55" width="12" height="0.9" fill="#444444"/>
<rect x="579.04" y="670.5" width="12" height="1" fill="#444444"/>
<rect x="579.04" y="672" width="12" height="1.2" fill="#444444"/>
<rect x="579.04" y="673.4" width="12" height="1.6" fill="#444444"/>
<rect x="579.04" y="676.25" width="12" height="0.9" fill="#8c8c8c"/>
<rect x="579.04" y="677.95" width="12" height="0.9" fill="#444444"/>
<rect x="579.04" y="682.15" width="12" height="0.9" fill="#c4c4c4"/>
<rect x="579.04" y="685.7" width="12" height="1.2" fill="#000000"/>
<rect x="579.04" y="687.95" width="12" height="0.9" fill="#444444"/>
<g clip-path="url(#c20)"><rect x="595.22" y="510.05" width="13.4" height="0.9" fill="#cfe0cf"/><rect x="595.22" y="515.05" width="13.4" height="0.9" fill="#ee8d83"/><rect x="595.22" y="523.85" width="13.4" height="0.9" fill="#4a78c8"/><rect x="595.22" y="551.15" width="13.4" height="1.5" fill="#a3bfe6"/><rect x="595.22" y="564.85" width="13.4" height="0.9" fill="#d3e0f3"/><rect x="595.22" y="565.95" width="13.4" height="0.9" fill="#a3bfe6"/><rect x="595.22" y="570.9" width="13.4" height="1.2" fill="#bd4256"/><rect x="595.22" y="572.35" width="13.4" height="0.9" fill="#a3bfe6"/><rect x="595.22" y="576.65" width="13.4" height="1.5" fill="#ee8d83"/><rect x="595.22" y="587.25" width="13.4" height="0.7" fill="#d7302a"/><rect x="595.22" y="588.3" width="13.4" height="1.6" fill="#7f5fa8"/><rect x="595.22" y="590.4" width="13.4" height="3.2" fill="#d7302a"/><rect x="595.22" y="592.3" width="13.4" height="0.6" fill="#ee7f5e"/><rect x="595.22" y="604.95" width="13.4" height="0.9" fill="#f3edb0"/><rect x="595.22" y="643.4" width="13.4" height="2.2" fill="#d7302a"/><rect x="595.22" y="646.15" width="13.4" height="0.9" fill="#ee8d83"/><rect x="595.22" y="648.4" width="13.4" height="1.6" fill="#ee8d83"/><rect x="595.22" y="650.55" width="13.4" height="0.9" fill="#bcaad3"/><rect x="595.22" y="653.9" width="13.4" height="1.6" fill="#a3bfe6"/><rect x="595.22" y="659.15" width="13.4" height="0.9" fill="#4a78c8"/><rect x="595.22" y="674.85" width="13.4" height="0.9" fill="#a3bfe6"/><rect x="595.22" y="678.55" width="13.4" height="0.9" fill="#d3e0f3"/></g>
<path d="M595.02 579.6L601.92 583.5L595.02 587Z M608.82 579.6L601.92 583.5L608.82 587Z" fill="#fff"/>
<path d="M596.02 512V579.6L607.82 587V683.3A5.9 5.9 0 0 1 596.02 683.3V587L607.82 579.6V512A5.9 5.9 0 0 0 596.02 512" fill="none" stroke="#868686" stroke-width="1.6" stroke-linejoin="round"/>
<rect x="610.27" y="505.6" width="0.6" height="183.4" fill="#d0d0d0"/>
<rect x="610.37" y="505.2" width="12" height="1.4" fill="#c4c4c4"/>
<rect x="610.37" y="515.05" width="12" height="0.9" fill="#e6e6e6"/>
<rect x="610.37" y="556.05" width="12" height="0.9" fill="#c4c4c4"/>
<rect x="610.37" y="561.2" width="12" height="1.6" fill="#c4c4c4"/>
<rect x="610.37" y="570.75" width="12" height="1.3" fill="#8c8c8c"/>
<rect x="610.37" y="576.75" width="12" height="1.5" fill="#444444"/>
<rect x="610.37" y="587.15" width="12" height="0.9" fill="#8c8c8c"/>
<rect x="610.37" y="588.55" width="12" height="0.9" fill="#8c8c8c"/>
<rect x="610.37" y="589.7" width="12" height="1.2" fill="#000000"/>
<rect x="610.37" y="591.6" width="12" height="1.8" fill="#000000"/>
<rect x="610.37" y="599.05" width="12" height="0.9" fill="#c4c4c4"/>
<rect x="610.37" y="604.95" width="12" height="0.9" fill="#c4c4c4"/>
<rect x="610.37" y="636.75" width="12" height="0.9" fill="#c4c4c4"/>
<rect x="610.37" y="643.1" width="12" height="1.8" fill="#8c8c8c"/>
<rect x="610.37" y="646.55" width="12" height="0.9" fill="#c4c4c4"/>
<rect x="610.37" y="648.4" width="12" height="1.6" fill="#c4c4c4"/>
<rect x="610.37" y="650.55" width="12" height="0.9" fill="#c4c4c4"/>
<rect x="610.37" y="674.95" width="12" height="0.9" fill="#c4c4c4"/>
<rect x="610.37" y="677.55" width="12" height="0.9" fill="#c4c4c4"/>
<rect x="610.37" y="680.35" width="12" height="0.9" fill="#8c8c8c"/>
<rect x="610.37" y="682.15" width="12" height="0.9" fill="#444444"/>
<rect x="610.37" y="684.85" width="12" height="0.9" fill="#8c8c8c"/>
<rect x="610.37" y="686.7" width="12" height="2.2" fill="#8c8c8c"/>
<g clip-path="url(#c21)"><rect x="626.55" y="595.8" width="13.4" height="2" fill="#bd4256"/><rect x="626.55" y="598.9" width="13.4" height="1.6" fill="#4a78c8"/><rect x="626.55" y="608.15" width="13.4" height="0.9" fill="#ee8d83"/><rect x="626.55" y="613.95" width="13.4" height="0.9" fill="#a3bfe6"/><rect x="626.55" y="624.95" width="13.4" height="0.9" fill="#ee8d83"/><rect x="626.55" y="627.65" width="13.4" height="1.5" fill="#f7c5bf"/><rect x="626.55" y="636.65" width="13.4" height="1.3" fill="#d7302a"/><rect x="626.55" y="660.25" width="13.4" height="1.5" fill="#a3bfe6"/><rect x="626.55" y="679.8" width="13.4" height="2.4" fill="#a3bfe6"/><rect x="626.55" y="682.65" width="13.4" height="1.3" fill="#bd4256"/><rect x="626.55" y="683.95" width="13.4" height="1.3" fill="#4a78c8"/><rect x="626.55" y="562.6" width="13.4" height="32.2" fill="#828282"/></g>
<path d="M626.35 594.6L633.25 595.3L626.35 596Z M640.15 594.6L633.25 595.3L640.15 596Z" fill="#fff"/>
<path d="M627.35 570.3V594.6L639.15 596V683.3A5.9 5.9 0 0 1 627.35 683.3V596L639.15 594.6V570.3A5.9 5.9 0 0 0 627.35 570.3" fill="none" stroke="#868686" stroke-width="1.6" stroke-linejoin="round"/>
<rect x="641.6" y="563.9" width="0.6" height="125.1" fill="#d0d0d0"/>
<rect x="641.7" y="595.5" width="12" height="1.4" fill="#000000"/>
<rect x="641.7" y="597.4" width="12" height="1.4" fill="#444444"/>
<rect x="641.7" y="608.15" width="12" height="0.9" fill="#c4c4c4"/>
<rect x="641.7" y="614.85" width="12" height="0.9" fill="#e6e6e6"/>
<rect x="641.7" y="620.6" width="12" height="1.6" fill="#e6e6e6"/>
<rect x="641.7" y="624.95" width="12" height="0.9" fill="#c4c4c4"/>
<rect x="641.7" y="627.95" width="12" height="0.9" fill="#c4c4c4"/>
<rect x="641.7" y="636.65" width="12" height="1.3" fill="#444444"/>
<rect x="641.7" y="670.1" width="12" height="1.6" fill="#c4c4c4"/>
<rect x="641.7" y="674.2" width="12" height="1.6" fill="#c4c4c4"/>
<rect x="641.7" y="679.65" width="12" height="0.9" fill="#c4c4c4"/>
<rect x="641.7" y="682.6" width="12" height="1.4" fill="#444444"/>
<rect x="641.7" y="685.2" width="12" height="2.6" fill="#c4c4c4"/>
<g clip-path="url(#c22)"><rect x="657.88" y="590.7" width="13.4" height="2.4" fill="#4a78c8"/><rect x="657.88" y="593.85" width="13.4" height="0.9" fill="#bd4256"/><rect x="657.88" y="595.05" width="13.4" height="0.9" fill="#7f5fa8"/><rect x="657.88" y="596.35" width="13.4" height="0.9" fill="#f7c5bf"/><rect x="657.88" y="598.3" width="13.4" height="2.4" fill="#d7302a"/><rect x="657.88" y="602.05" width="13.4" height="0.9" fill="#f7c5bf"/><rect x="657.88" y="604.4" width="13.4" height="2.6" fill="#ee7f5e"/><rect x="657.88" y="608.2" width="13.4" height="1.2" fill="#bcaad3"/><rect x="657.88" y="609.3" width="13.4" height="1" fill="#f7c5bf"/><rect x="657.88" y="610.75" width="13.4" height="0.9" fill="#4a78c8"/><rect x="657.88" y="612.7" width="13.4" height="1.4" fill="#c8a070"/><rect x="657.88" y="614.85" width="13.4" height="0.9" fill="#7f5fa8"/><rect x="657.88" y="615.9" width="13.4" height="1.4" fill="#bd4256"/><rect x="657.88" y="617.4" width="13.4" height="1.2" fill="#d7302a"/><rect x="657.88" y="618.75" width="13.4" height="0.9" fill="#f7c5bf"/><rect x="657.88" y="627.05" width="13.4" height="1.5" fill="#ee8d83"/><rect x="657.88" y="628.65" width="13.4" height="1.5" fill="#ee8d83"/><rect x="657.88" y="630.85" width="13.4" height="0.9" fill="#a3bfe6"/><rect x="657.88" y="637.2" width="13.4" height="1.6" fill="#ee7f5e"/><rect x="657.88" y="640.05" width="13.4" height="0.9" fill="#a3bfe6"/><rect x="657.88" y="647.95" width="13.4" height="0.9" fill="#d3e0f3"/><rect x="657.88" y="654" width="13.4" height="1.2" fill="#bd4256"/><rect x="657.88" y="655.6" width="13.4" height="1.2" fill="#4a78c8"/><rect x="657.88" y="664.55" width="13.4" height="0.9" fill="#a3bfe6"/><rect x="657.88" y="665.9" width="13.4" height="1.8" fill="#d7302a"/><rect x="657.88" y="668.15" width="13.4" height="0.9" fill="#f7c5bf"/><rect x="657.88" y="670.4" width="13.4" height="1.6" fill="#ee8d83"/><rect x="657.88" y="676.7" width="13.4" height="1.2" fill="#4a78c8"/><rect x="657.88" y="683.1" width="13.4" height="1.6" fill="#f7c5bf"/><rect x="657.88" y="545" width="13.4" height="38" fill="#828282"/></g>
<path d="M657.68 582.8L664.58 586.6L657.68 590.4Z M671.48 582.8L664.58 586.6L671.48 590.4Z" fill="#fff"/>
<path d="M658.68 552.7V582.8L670.48 590.4V683.3A5.9 5.9 0 0 1 658.68 683.3V590.4L670.48 582.8V552.7A5.9 5.9 0 0 0 658.68 552.7" fill="none" stroke="#868686" stroke-width="1.6" stroke-linejoin="round"/>
<rect x="672.93" y="546.3" width="0.6" height="142.7" fill="#d0d0d0"/>
<rect x="673.03" y="591" width="12" height="2.6" fill="#8c8c8c"/>
<rect x="673.03" y="594" width="12" height="1.2" fill="#000000"/>
<rect x="673.03" y="595.75" width="12" height="0.9" fill="#8c8c8c"/>
<rect x="673.03" y="596.95" width="12" height="0.9" fill="#c4c4c4"/>
<rect x="673.03" y="598.8" width="12" height="2" fill="#000000"/>
<rect x="673.03" y="602.05" width="12" height="0.9" fill="#c4c4c4"/>
<rect x="673.03" y="603.35" width="12" height="0.9" fill="#444444"/>
<rect x="673.03" y="605.1" width="12" height="2.6" fill="#000000"/>
<rect x="673.03" y="608.5" width="12" height="1" fill="#444444"/>
<rect x="673.03" y="609.7" width="12" height="1" fill="#444444"/>
<rect x="673.03" y="611.05" width="12" height="0.9" fill="#8c8c8c"/>
<rect x="673.03" y="612.7" width="12" height="1.4" fill="#444444"/>
<rect x="673.03" y="614.85" width="12" height="0.9" fill="#8c8c8c"/>
<rect x="673.03" y="616" width="12" height="1.2" fill="#000000"/>
<rect x="673.03" y="617.8" width="12" height="1.6" fill="#000000"/>
<rect x="673.03" y="628.75" width="12" height="1.3" fill="#444444"/>
<rect x="673.03" y="636.65" width="12" height="1.3" fill="#444444"/>
<rect x="673.03" y="648.7" width="12" height="1.6" fill="#e6e6e6"/>
<rect x="673.03" y="650.95" width="12" height="0.9" fill="#c4c4c4"/>
<rect x="673.03" y="654.15" width="12" height="0.9" fill="#c4c4c4"/>
<rect x="673.03" y="655.75" width="12" height="0.9" fill="#c4c4c4"/>
<rect x="673.03" y="665.65" width="12" height="1.5" fill="#444444"/>
<rect x="673.03" y="669.9" width="12" height="1.8" fill="#8c8c8c"/>
<rect x="673.03" y="677.3" width="12" height="1.8" fill="#c4c4c4"/>
<rect x="673.03" y="682.25" width="12" height="0.9" fill="#e6e6e6"/>
<rect x="673.03" y="685.7" width="12" height="1" fill="#c4c4c4"/>
<rect x="673.03" y="687" width="12" height="1.2" fill="#c4c4c4"/>
<g opacity="0.999">
<text transform="translate(12.55 705.2) scale(0.92 1)" text-anchor="middle" style="font-size:12.4px">1</text>
<text transform="translate(43.88 705.2) scale(0.92 1)" text-anchor="middle" style="font-size:12.4px">2</text>
<text transform="translate(75.21 705.2) scale(0.92 1)" text-anchor="middle" style="font-size:12.4px">3</text>
<text transform="translate(106.54 705.2) scale(0.92 1)" text-anchor="middle" style="font-size:12.4px">4</text>
<text transform="translate(137.87 705.2) scale(0.92 1)" text-anchor="middle" style="font-size:12.4px">5</text>
<text transform="translate(169.2 705.2) scale(0.92 1)" text-anchor="middle" style="font-size:12.4px">6</text>
<text transform="translate(200.53 705.2) scale(0.92 1)" text-anchor="middle" style="font-size:12.4px">7</text>
<text transform="translate(231.86 705.2) scale(0.92 1)" text-anchor="middle" style="font-size:12.4px">8</text>
<text transform="translate(263.19 705.2) scale(0.92 1)" text-anchor="middle" style="font-size:12.4px">9</text>
<text transform="translate(294.52 705.2) scale(0.92 1)" text-anchor="middle" style="font-size:12.4px">10</text>
<text transform="translate(325.85 705.2) scale(0.92 1)" text-anchor="middle" style="font-size:12.4px">11</text>
<text transform="translate(357.18 705.2) scale(0.92 1)" text-anchor="middle" style="font-size:12.4px">12</text>
<text transform="translate(388.51 705.2) scale(0.92 1)" text-anchor="middle" style="font-size:12.4px">13</text>
<text transform="translate(419.84 705.2) scale(0.92 1)" text-anchor="middle" style="font-size:12.4px">14</text>
<text transform="translate(451.17 705.2) scale(0.92 1)" text-anchor="middle" style="font-size:12.4px">15</text>
<text transform="translate(482.5 705.2) scale(0.92 1)" text-anchor="middle" style="font-size:12.4px">16</text>
<text transform="translate(513.83 705.2) scale(0.92 1)" text-anchor="middle" style="font-size:12.4px">17</text>
<text transform="translate(545.16 705.2) scale(0.92 1)" text-anchor="middle" style="font-size:12.4px">18</text>
<text transform="translate(576.49 705.2) scale(0.92 1)" text-anchor="middle" style="font-size:12.4px">19</text>
<text transform="translate(607.82 705.2) scale(0.92 1)" text-anchor="middle" style="font-size:12.4px">20</text>
<text transform="translate(639.15 705.2) scale(0.92 1)" text-anchor="middle" style="font-size:12.4px">21</text>
<text transform="translate(670.48 705.2) scale(0.92 1)" text-anchor="middle" style="font-size:12.4px">22</text>
<defs><linearGradient id="lg" x1="0" x2="1" y1="0" y2="0">
<stop offset="0" stop-color="#4270b4"/><stop offset="0.12" stop-color="#6a8fbd"/><stop offset="0.3" stop-color="#aebfbc"/><stop offset="0.48" stop-color="#ffffbf"/><stop offset="0.62" stop-color="#f8c99a"/><stop offset="0.8" stop-color="#ea8468"/><stop offset="1" stop-color="#d62c27"/>
</linearGradient></defs>
<rect x="459.8" y="46" width="92.2" height="18.6" fill="url(#lg)"/>
<text x="434.2" y="38.6" style="font-size:12.6px" textLength="137.6" lengthAdjust="spacingAndGlyphs">SD haplotype frequency</text>
<text x="463.4" y="79.5" text-anchor="middle" style="font-size:11px">1</text>
<text x="551.8" y="79.5" text-anchor="end" style="font-size:11px">170</text>

</g>
</svg>
</body></html>
